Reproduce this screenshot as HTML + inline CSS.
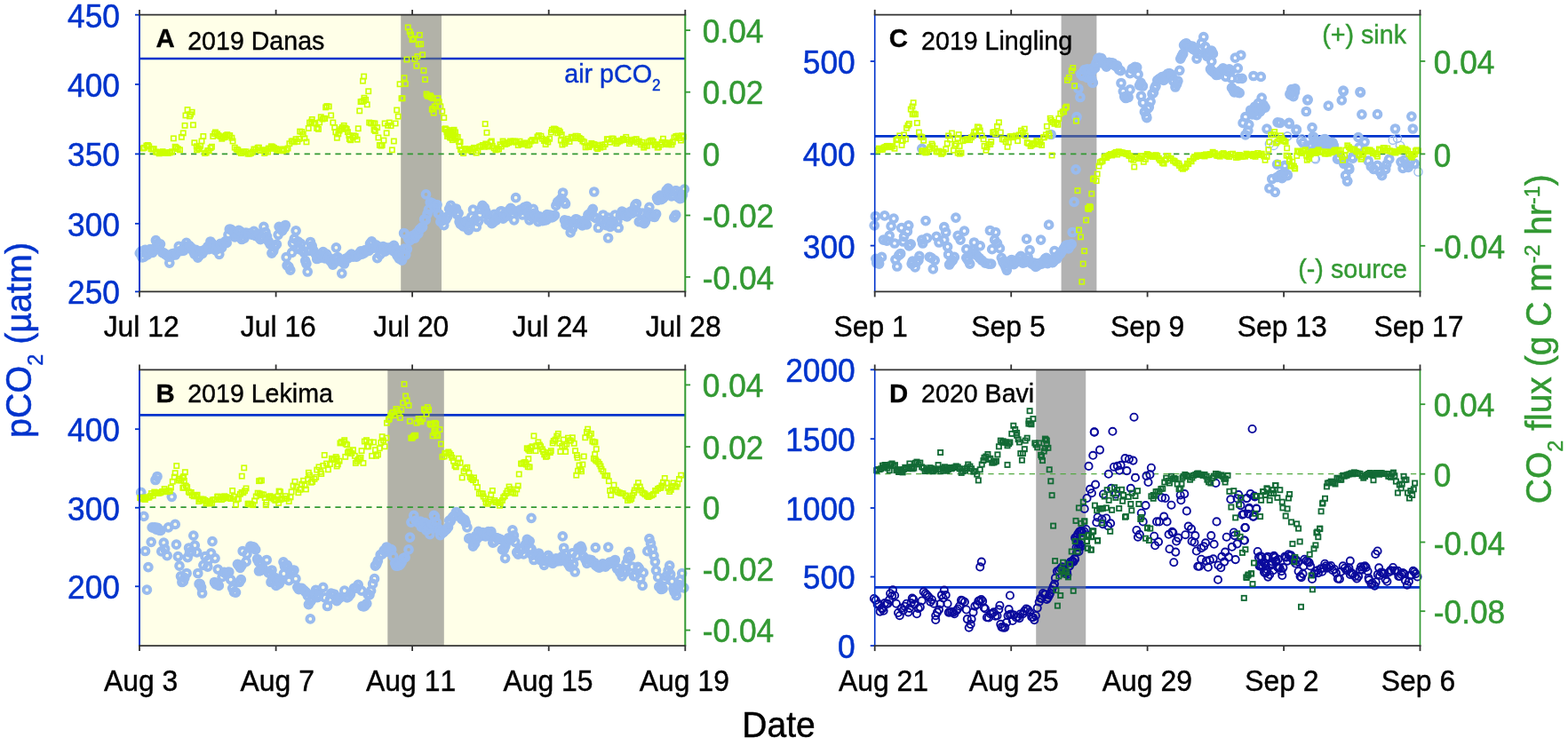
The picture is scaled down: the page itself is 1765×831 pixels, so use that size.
<!DOCTYPE html>
<html lang="en"><head><meta charset="utf-8"><title>pCO2 and CO2 flux during typhoons</title>
<style>html,body{margin:0;padding:0;background:#fff;}body{width:1765px;height:831px;overflow:hidden;}svg{display:block;font-family:"Liberation Sans",Arial,sans-serif;font-kerning:none;}</style>
</head><body>
<svg width="1765" height="831" viewBox="0 0 1765 831">
<rect width="1765" height="831" fill="#fff"/>
<g id="panel-A">
<rect x="157" y="16.7" width="614.3" height="311.8" fill="#ffffe8"/>
<line x1="157" y1="66" x2="771.3" y2="66" stroke="#0033cc" stroke-width="2.6"/>
<rect x="451.2" y="16.7" width="45.8" height="311.8" fill="#777777" fill-opacity="0.57"/>
<line x1="157" y1="173.4" x2="771.3" y2="173.4" stroke="#339933" stroke-width="1.7" stroke-dasharray="6.3 5.3"/>
<g fill="none" stroke="#99bbee" stroke-width="4.0"><circle cx="157.3" cy="285.2" r="3.85"/><circle cx="158.9" cy="283" r="3.85"/><circle cx="159.9" cy="289.8" r="3.85"/><circle cx="161.8" cy="289.4" r="3.85"/><circle cx="163.2" cy="281.3" r="3.85"/><circle cx="164.5" cy="281.6" r="3.85"/><circle cx="166" cy="286.8" r="3.85"/><circle cx="167.4" cy="284" r="3.85"/><circle cx="169" cy="280.6" r="3.85"/><circle cx="170.3" cy="282.3" r="3.85"/><circle cx="171.8" cy="284.3" r="3.85"/><circle cx="173.2" cy="280" r="3.85"/><circle cx="175.4" cy="270.7" r="3.85"/><circle cx="177.4" cy="274.1" r="3.85"/><circle cx="179" cy="277" r="3.85"/><circle cx="180.5" cy="274.8" r="3.85"/><circle cx="182.6" cy="284.3" r="3.85"/><circle cx="184.4" cy="284.9" r="3.85"/><circle cx="185.4" cy="285.9" r="3.85"/><circle cx="187.1" cy="286.9" r="3.85"/><circle cx="189.2" cy="288.9" r="3.85"/><circle cx="190.8" cy="288.8" r="3.85"/><circle cx="192.5" cy="288.4" r="3.85"/><circle cx="193.7" cy="285.9" r="3.85"/><circle cx="195.5" cy="285.4" r="3.85"/><circle cx="197.4" cy="287" r="3.85"/><circle cx="199" cy="284.3" r="3.85"/><circle cx="201.3" cy="277.3" r="3.85"/><circle cx="202.7" cy="282.5" r="3.85"/><circle cx="204.4" cy="282.5" r="3.85"/><circle cx="206.9" cy="282.2" r="3.85"/><circle cx="207.5" cy="277.6" r="3.85"/><circle cx="209.8" cy="273.4" r="3.85"/><circle cx="211.5" cy="278.1" r="3.85"/><circle cx="213.1" cy="276.7" r="3.85"/><circle cx="215.3" cy="278.8" r="3.85"/><circle cx="217" cy="282.2" r="3.85"/><circle cx="218.9" cy="286.1" r="3.85"/><circle cx="220.5" cy="281.4" r="3.85"/><circle cx="222.7" cy="290.2" r="3.85"/><circle cx="224.3" cy="287.9" r="3.85"/><circle cx="226.1" cy="282.8" r="3.85"/><circle cx="228" cy="285.3" r="3.85"/><circle cx="229.8" cy="281.6" r="3.85"/><circle cx="231.5" cy="281.2" r="3.85"/><circle cx="233.8" cy="277.7" r="3.85"/><circle cx="235.2" cy="280.7" r="3.85"/><circle cx="236.9" cy="272" r="3.85"/><circle cx="238.8" cy="274.3" r="3.85"/><circle cx="240.4" cy="275.8" r="3.85"/><circle cx="242.5" cy="281.6" r="3.85"/><circle cx="243.6" cy="279" r="3.85"/><circle cx="245.9" cy="279.9" r="3.85"/><circle cx="246.8" cy="286.3" r="3.85"/><circle cx="248.2" cy="274.4" r="3.85"/><circle cx="249.7" cy="278.8" r="3.85"/><circle cx="251.7" cy="274.3" r="3.85"/><circle cx="253.8" cy="271.6" r="3.85"/><circle cx="255.2" cy="273.4" r="3.85"/><circle cx="257" cy="264.3" r="3.85"/><circle cx="258.3" cy="258.2" r="3.85"/><circle cx="260" cy="258.4" r="3.85"/><circle cx="261.5" cy="259.8" r="3.85"/><circle cx="263" cy="260.8" r="3.85"/><circle cx="264.3" cy="266.8" r="3.85"/><circle cx="266" cy="266.1" r="3.85"/><circle cx="267.8" cy="264.5" r="3.85"/><circle cx="268.8" cy="259.4" r="3.85"/><circle cx="270.6" cy="260.7" r="3.85"/><circle cx="272.2" cy="269.5" r="3.85"/><circle cx="273.5" cy="263.3" r="3.85"/><circle cx="275.1" cy="268" r="3.85"/><circle cx="276.7" cy="262.1" r="3.85"/><circle cx="278.7" cy="262.5" r="3.85"/><circle cx="280.2" cy="262.5" r="3.85"/><circle cx="282.8" cy="263.7" r="3.85"/><circle cx="284.2" cy="264.3" r="3.85"/><circle cx="285.8" cy="260.3" r="3.85"/><circle cx="287.9" cy="265.5" r="3.85"/><circle cx="289.6" cy="266.1" r="3.85"/><circle cx="291" cy="263.3" r="3.85"/><circle cx="293.2" cy="269.7" r="3.85"/><circle cx="295" cy="267.1" r="3.85"/><circle cx="296.9" cy="255.3" r="3.85"/><circle cx="298.9" cy="261.3" r="3.85"/><circle cx="300.5" cy="266.1" r="3.85"/><circle cx="302.2" cy="271.6" r="3.85"/><circle cx="304.1" cy="275.2" r="3.85"/><circle cx="305.9" cy="285.1" r="3.85"/><circle cx="307.7" cy="282.5" r="3.85"/><circle cx="309.2" cy="277.8" r="3.85"/><circle cx="311.4" cy="275.2" r="3.85"/><circle cx="313.2" cy="264.3" r="3.85"/><circle cx="314.1" cy="255.3" r="3.85"/><circle cx="316.3" cy="256.8" r="3.85"/><circle cx="317.7" cy="259.8" r="3.85"/><circle cx="319.9" cy="256.5" r="3.85"/><circle cx="321.3" cy="253.5" r="3.85"/><circle cx="322.2" cy="289.7" r="3.85"/><circle cx="323.1" cy="298.8" r="3.85"/><circle cx="325" cy="300.4" r="3.85"/><circle cx="326.8" cy="304.2" r="3.85"/><circle cx="328.6" cy="284.3" r="3.85"/><circle cx="329.5" cy="273.8" r="3.85"/><circle cx="331.3" cy="268.9" r="3.85"/><circle cx="333.1" cy="259.8" r="3.85"/><circle cx="335.6" cy="272.1" r="3.85"/><circle cx="336.7" cy="280.7" r="3.85"/><circle cx="338.6" cy="274.3" r="3.85"/><circle cx="340.6" cy="282.1" r="3.85"/><circle cx="342.2" cy="284.3" r="3.85"/><circle cx="343.7" cy="293.6" r="3.85"/><circle cx="344.9" cy="297" r="3.85"/><circle cx="346.2" cy="306" r="3.85"/><circle cx="347.6" cy="282.5" r="3.85"/><circle cx="349.4" cy="272.5" r="3.85"/><circle cx="351.2" cy="276.8" r="3.85"/><circle cx="353.1" cy="282.5" r="3.85"/><circle cx="355.2" cy="286" r="3.85"/><circle cx="356.7" cy="291.5" r="3.85"/><circle cx="358.1" cy="289.4" r="3.85"/><circle cx="360.1" cy="290.3" r="3.85"/><circle cx="362.1" cy="287" r="3.85"/><circle cx="363.7" cy="283.6" r="3.85"/><circle cx="365.7" cy="290.9" r="3.85"/><circle cx="367.6" cy="286.1" r="3.85"/><circle cx="369.4" cy="289.6" r="3.85"/><circle cx="371.2" cy="293" r="3.85"/><circle cx="373" cy="295.2" r="3.85"/><circle cx="374.7" cy="298.1" r="3.85"/><circle cx="375.4" cy="296.9" r="3.85"/><circle cx="377.4" cy="291" r="3.85"/><circle cx="379.5" cy="290.3" r="3.85"/><circle cx="380.3" cy="289.7" r="3.85"/><circle cx="382.3" cy="294" r="3.85"/><circle cx="384.8" cy="293.7" r="3.85"/><circle cx="385.4" cy="294.5" r="3.85"/><circle cx="387.5" cy="297" r="3.85"/><circle cx="389.3" cy="291" r="3.85"/><circle cx="391.7" cy="290.8" r="3.85"/><circle cx="392.9" cy="288.8" r="3.85"/><circle cx="394.3" cy="287.8" r="3.85"/><circle cx="395.6" cy="286.2" r="3.85"/><circle cx="397.3" cy="289.2" r="3.85"/><circle cx="398.6" cy="287.8" r="3.85"/><circle cx="400.2" cy="287.9" r="3.85"/><circle cx="401.2" cy="289.1" r="3.85"/><circle cx="402.9" cy="287.8" r="3.85"/><circle cx="404.3" cy="285.3" r="3.85"/><circle cx="406.1" cy="282.9" r="3.85"/><circle cx="407.5" cy="286.1" r="3.85"/><circle cx="410" cy="284.8" r="3.85"/><circle cx="411.1" cy="281.5" r="3.85"/><circle cx="412.9" cy="282.5" r="3.85"/><circle cx="415.2" cy="282.4" r="3.85"/><circle cx="416.5" cy="274.3" r="3.85"/><circle cx="418.4" cy="271.8" r="3.85"/><circle cx="420" cy="279.1" r="3.85"/><circle cx="422" cy="278.8" r="3.85"/><circle cx="423.3" cy="275.8" r="3.85"/><circle cx="424.5" cy="277.3" r="3.85"/><circle cx="426.3" cy="278" r="3.85"/><circle cx="427.8" cy="286.7" r="3.85"/><circle cx="429.2" cy="280.7" r="3.85"/><circle cx="431.2" cy="277.5" r="3.85"/><circle cx="432.2" cy="280.5" r="3.85"/><circle cx="433.5" cy="283.1" r="3.85"/><circle cx="434.9" cy="279" r="3.85"/><circle cx="436.5" cy="279.7" r="3.85"/><circle cx="438.2" cy="279" r="3.85"/><circle cx="440.1" cy="278.8" r="3.85"/><circle cx="442.3" cy="282.3" r="3.85"/><circle cx="443.3" cy="280" r="3.85"/><circle cx="445.5" cy="282.5" r="3.85"/><circle cx="447.1" cy="287.9" r="3.85"/><circle cx="449.2" cy="291.1" r="3.85"/><circle cx="451" cy="291.5" r="3.85"/><circle cx="190.8" cy="296.1" r="3.85"/><circle cx="378.4" cy="278.8" r="3.85"/><circle cx="384.8" cy="307.8" r="3.85"/><circle cx="424.7" cy="290.6" r="3.85"/><circle cx="454.6" cy="262.5" r="3.85"/><circle cx="441.9" cy="280.5" r="3.85"/><circle cx="443.4" cy="276.3" r="3.85"/><circle cx="445" cy="284.1" r="3.85"/><circle cx="446.4" cy="281" r="3.85"/><circle cx="447.7" cy="286.3" r="3.85"/><circle cx="449.3" cy="286.5" r="3.85"/><circle cx="452.5" cy="293.1" r="3.85"/><circle cx="454.1" cy="287.3" r="3.85"/><circle cx="454.9" cy="280.2" r="3.85"/><circle cx="456.7" cy="287" r="3.85"/><circle cx="458.3" cy="280.5" r="3.85"/><circle cx="459.7" cy="269.1" r="3.85"/><circle cx="461.2" cy="270.9" r="3.85"/><circle cx="462.9" cy="269.3" r="3.85"/><circle cx="465" cy="265.1" r="3.85"/><circle cx="467" cy="268.1" r="3.85"/><circle cx="468" cy="264.8" r="3.85"/><circle cx="469.1" cy="262.3" r="3.85"/><circle cx="470.8" cy="263.2" r="3.85"/><circle cx="472.3" cy="258.3" r="3.85"/><circle cx="474.1" cy="256.9" r="3.85"/><circle cx="475.6" cy="255.5" r="3.85"/><circle cx="477.6" cy="246.8" r="3.85"/><circle cx="479.3" cy="247.6" r="3.85"/><circle cx="481" cy="241" r="3.85"/><circle cx="482.4" cy="236.2" r="3.85"/><circle cx="484.2" cy="227.8" r="3.85"/><circle cx="486.2" cy="228.5" r="3.85"/><circle cx="487.6" cy="230.6" r="3.85"/><circle cx="488.8" cy="233.3" r="3.85"/><circle cx="490.5" cy="231.1" r="3.85"/><circle cx="492" cy="230.5" r="3.85"/><circle cx="493" cy="240.1" r="3.85"/><circle cx="494.3" cy="241.1" r="3.85"/><circle cx="495.9" cy="249.7" r="3.85"/><circle cx="498.4" cy="248.2" r="3.85"/><circle cx="499.7" cy="253.6" r="3.85"/><circle cx="501.9" cy="247.1" r="3.85"/><circle cx="503.6" cy="243.9" r="3.85"/><circle cx="505.6" cy="235.3" r="3.85"/><circle cx="507.4" cy="231.4" r="3.85"/><circle cx="509.2" cy="236.6" r="3.85"/><circle cx="511.3" cy="236.2" r="3.85"/><circle cx="513.5" cy="235" r="3.85"/><circle cx="514.5" cy="241.6" r="3.85"/><circle cx="516.1" cy="240.1" r="3.85"/><circle cx="517.1" cy="249.7" r="3.85"/><circle cx="518.3" cy="252.3" r="3.85"/><circle cx="519.7" cy="252.5" r="3.85"/><circle cx="521.5" cy="254.8" r="3.85"/><circle cx="522.8" cy="251.6" r="3.85"/><circle cx="524.4" cy="249" r="3.85"/><circle cx="525.9" cy="250.3" r="3.85"/><circle cx="527.4" cy="259.1" r="3.85"/><circle cx="528.6" cy="255.5" r="3.85"/><circle cx="530.7" cy="244.2" r="3.85"/><circle cx="532.5" cy="236.2" r="3.85"/><circle cx="534.4" cy="247.8" r="3.85"/><circle cx="536.3" cy="255.5" r="3.85"/><circle cx="538.6" cy="249.3" r="3.85"/><circle cx="540.2" cy="242" r="3.85"/><circle cx="541.2" cy="235.7" r="3.85"/><circle cx="543.1" cy="231.4" r="3.85"/><circle cx="545.4" cy="233.9" r="3.85"/><circle cx="546.9" cy="238.2" r="3.85"/><circle cx="548.4" cy="241.9" r="3.85"/><circle cx="549.8" cy="247.8" r="3.85"/><circle cx="551.2" cy="248.2" r="3.85"/><circle cx="553.7" cy="251.6" r="3.85"/><circle cx="555.2" cy="250.3" r="3.85"/><circle cx="556.5" cy="241.4" r="3.85"/><circle cx="558.4" cy="248" r="3.85"/><circle cx="559.4" cy="243.9" r="3.85"/><circle cx="561.7" cy="244.9" r="3.85"/><circle cx="563.3" cy="238.2" r="3.85"/><circle cx="564.6" cy="237.8" r="3.85"/><circle cx="566.3" cy="246.1" r="3.85"/><circle cx="567.1" cy="241.8" r="3.85"/><circle cx="569.1" cy="243.9" r="3.85"/><circle cx="570.3" cy="243.2" r="3.85"/><circle cx="572.4" cy="238.2" r="3.85"/><circle cx="573" cy="236.9" r="3.85"/><circle cx="574.8" cy="234.3" r="3.85"/><circle cx="576.7" cy="236.4" r="3.85"/><circle cx="578.7" cy="247.8" r="3.85"/><circle cx="580.6" cy="222.7" r="3.85"/><circle cx="582.5" cy="238.2" r="3.85"/><circle cx="584.3" cy="237.6" r="3.85"/><circle cx="585.6" cy="236.1" r="3.85"/><circle cx="587.2" cy="236.7" r="3.85"/><circle cx="588.3" cy="242" r="3.85"/><circle cx="590.2" cy="233.4" r="3.85"/><circle cx="592" cy="234.5" r="3.85"/><circle cx="593.1" cy="232.4" r="3.85"/><circle cx="594.1" cy="239.4" r="3.85"/><circle cx="596" cy="247.8" r="3.85"/><circle cx="597.6" cy="242.9" r="3.85"/><circle cx="598.8" cy="244.7" r="3.85"/><circle cx="600.3" cy="235.4" r="3.85"/><circle cx="601.8" cy="240.1" r="3.85"/><circle cx="603.1" cy="242.3" r="3.85"/><circle cx="604.8" cy="245" r="3.85"/><circle cx="605.9" cy="249.6" r="3.85"/><circle cx="607.6" cy="243.9" r="3.85"/><circle cx="609.3" cy="245.8" r="3.85"/><circle cx="610.8" cy="248.7" r="3.85"/><circle cx="612" cy="245" r="3.85"/><circle cx="613.4" cy="247.8" r="3.85"/><circle cx="615.1" cy="247.6" r="3.85"/><circle cx="615.7" cy="241.6" r="3.85"/><circle cx="617.8" cy="243.8" r="3.85"/><circle cx="619.2" cy="242" r="3.85"/><circle cx="621.2" cy="244.9" r="3.85"/><circle cx="623" cy="243.9" r="3.85"/><circle cx="624.5" cy="242.4" r="3.85"/><circle cx="625.9" cy="231.4" r="3.85"/><circle cx="627.6" cy="227.3" r="3.85"/><circle cx="629.7" cy="225.6" r="3.85"/><circle cx="631.8" cy="223.5" r="3.85"/><circle cx="633.6" cy="217" r="3.85"/><circle cx="635.3" cy="227.7" r="3.85"/><circle cx="636.5" cy="229.5" r="3.85"/><circle cx="635.5" cy="247.8" r="3.85"/><circle cx="637" cy="253.2" r="3.85"/><circle cx="638.9" cy="248.5" r="3.85"/><circle cx="640.3" cy="253.6" r="3.85"/><circle cx="642.2" cy="261.8" r="3.85"/><circle cx="644.2" cy="257.4" r="3.85"/><circle cx="646.4" cy="250.7" r="3.85"/><circle cx="648" cy="246.8" r="3.85"/><circle cx="649.3" cy="247" r="3.85"/><circle cx="651.9" cy="251.6" r="3.85"/><circle cx="653.1" cy="251.9" r="3.85"/><circle cx="655.5" cy="253.9" r="3.85"/><circle cx="656.3" cy="248.8" r="3.85"/><circle cx="657.7" cy="251.6" r="3.85"/><circle cx="658.8" cy="248.4" r="3.85"/><circle cx="660.4" cy="252.9" r="3.85"/><circle cx="661.9" cy="241.8" r="3.85"/><circle cx="663.5" cy="241" r="3.85"/><circle cx="665.7" cy="238.4" r="3.85"/><circle cx="667.3" cy="235.3" r="3.85"/><circle cx="668.9" cy="244.4" r="3.85"/><circle cx="671.2" cy="245.9" r="3.85"/><circle cx="673.5" cy="256.5" r="3.85"/><circle cx="675.2" cy="247.7" r="3.85"/><circle cx="677.2" cy="248.3" r="3.85"/><circle cx="678.9" cy="242" r="3.85"/><circle cx="680.8" cy="251.6" r="3.85"/><circle cx="682.2" cy="253.7" r="3.85"/><circle cx="684.1" cy="249" r="3.85"/><circle cx="684.8" cy="245" r="3.85"/><circle cx="686.9" cy="255.3" r="3.85"/><circle cx="688.5" cy="251.6" r="3.85"/><circle cx="690.7" cy="251" r="3.85"/><circle cx="692.4" cy="242" r="3.85"/><circle cx="694.8" cy="249.3" r="3.85"/><circle cx="696.2" cy="256.5" r="3.85"/><circle cx="698.4" cy="242.7" r="3.85"/><circle cx="700.1" cy="238.2" r="3.85"/><circle cx="701.7" cy="240.8" r="3.85"/><circle cx="702.9" cy="239.7" r="3.85"/><circle cx="704.1" cy="242.9" r="3.85"/><circle cx="705.8" cy="243.9" r="3.85"/><circle cx="707.7" cy="241.9" r="3.85"/><circle cx="708.9" cy="240" r="3.85"/><circle cx="710.2" cy="238" r="3.85"/><circle cx="711.6" cy="240.1" r="3.85"/><circle cx="713.3" cy="235.9" r="3.85"/><circle cx="714.9" cy="231.2" r="3.85"/><circle cx="716.4" cy="229.5" r="3.85"/><circle cx="717.5" cy="238.6" r="3.85"/><circle cx="719.3" cy="249.7" r="3.85"/><circle cx="721.6" cy="249.6" r="3.85"/><circle cx="723.2" cy="240.1" r="3.85"/><circle cx="725.1" cy="251.6" r="3.85"/><circle cx="726.4" cy="249.5" r="3.85"/><circle cx="728.2" cy="243.7" r="3.85"/><circle cx="729" cy="238.9" r="3.85"/><circle cx="730.9" cy="233.3" r="3.85"/><circle cx="732.5" cy="242.2" r="3.85"/><circle cx="734.7" cy="243.9" r="3.85"/><circle cx="736.9" cy="244.3" r="3.85"/><circle cx="738.6" cy="241" r="3.85"/><circle cx="739.5" cy="222.7" r="3.85"/><circle cx="740.4" cy="225.3" r="3.85"/><circle cx="743" cy="220.2" r="3.85"/><circle cx="744.4" cy="224.7" r="3.85"/><circle cx="746.6" cy="223" r="3.85"/><circle cx="748.2" cy="220.8" r="3.85"/><circle cx="750.1" cy="214.3" r="3.85"/><circle cx="752.1" cy="212.2" r="3.85"/><circle cx="753.7" cy="215.2" r="3.85"/><circle cx="755.9" cy="220.8" r="3.85"/><circle cx="758.3" cy="220" r="3.85"/><circle cx="758.9" cy="216" r="3.85"/><circle cx="760.1" cy="214.8" r="3.85"/><circle cx="761.7" cy="215" r="3.85"/><circle cx="763.4" cy="222" r="3.85"/><circle cx="765.6" cy="223.7" r="3.85"/><circle cx="767.1" cy="222.8" r="3.85"/><circle cx="768.4" cy="219.4" r="3.85"/><circle cx="770.4" cy="213.1" r="3.85"/><circle cx="455.4" cy="263.2" r="3.85"/><circle cx="479.5" cy="218.9" r="3.85"/><circle cx="668.8" cy="216" r="3.85"/><circle cx="684.6" cy="268" r="3.85"/><circle cx="758.8" cy="244.9" r="3.85"/><circle cx="760.7" cy="242" r="3.85"/></g>
<g fill="none" stroke="#ccff00" stroke-width="1.6"><rect x="158.2" y="164.4" width="5.3" height="5.3"/><rect x="159.7" y="163.7" width="5.3" height="5.3"/><rect x="162.2" y="161.4" width="5.3" height="5.3"/><rect x="163.7" y="160.8" width="5.3" height="5.3"/><rect x="165.1" y="162.2" width="5.3" height="5.3"/><rect x="167.4" y="165.1" width="5.3" height="5.3"/><rect x="169.1" y="165.3" width="5.3" height="5.3"/><rect x="170.6" y="165" width="5.3" height="5.3"/><rect x="172.9" y="168.3" width="5.3" height="5.3"/><rect x="174.5" y="169" width="5.3" height="5.3"/><rect x="176.5" y="170.2" width="5.3" height="5.3"/><rect x="177.5" y="168.8" width="5.3" height="5.3"/><rect x="179.8" y="168.9" width="5.3" height="5.3"/><rect x="180.4" y="168" width="5.3" height="5.3"/><rect x="182.1" y="169.6" width="5.3" height="5.3"/><rect x="183.6" y="169.5" width="5.3" height="5.3"/><rect x="185" y="169.1" width="5.3" height="5.3"/><rect x="186.6" y="169.8" width="5.3" height="5.3"/><rect x="188.3" y="168.9" width="5.3" height="5.3"/><rect x="188.9" y="169.2" width="5.3" height="5.3"/><rect x="190.9" y="168.1" width="5.3" height="5.3"/><rect x="192.7" y="153.2" width="5.3" height="5.3"/><rect x="194.5" y="162.6" width="5.3" height="5.3"/><rect x="195.9" y="163.6" width="5.3" height="5.3"/><rect x="197.7" y="165" width="5.3" height="5.3"/><rect x="199.9" y="166.2" width="5.3" height="5.3"/><rect x="201.7" y="151.7" width="5.3" height="5.3"/><rect x="203.6" y="147.2" width="5.3" height="5.3"/><rect x="205.4" y="138.7" width="5.3" height="5.3"/><rect x="206.3" y="127.3" width="5.3" height="5.3"/><rect x="208.4" y="120.9" width="5.3" height="5.3"/><rect x="210.8" y="128.2" width="5.3" height="5.3"/><rect x="211.9" y="126.2" width="5.3" height="5.3"/><rect x="213.5" y="123.6" width="5.3" height="5.3"/><rect x="214.8" y="138.1" width="5.3" height="5.3"/><rect x="216.2" y="158.1" width="5.3" height="5.3"/><rect x="218.6" y="162.1" width="5.3" height="5.3"/><rect x="219" y="166.2" width="5.3" height="5.3"/><rect x="220.6" y="164.2" width="5.3" height="5.3"/><rect x="221.7" y="165.3" width="5.3" height="5.3"/><rect x="223" y="161.6" width="5.3" height="5.3"/><rect x="224.4" y="156.3" width="5.3" height="5.3"/><rect x="226.2" y="150.8" width="5.3" height="5.3"/><rect x="228" y="169.9" width="5.3" height="5.3"/><rect x="229.5" y="169.4" width="5.3" height="5.3"/><rect x="231.1" y="166.9" width="5.3" height="5.3"/><rect x="232.6" y="167.2" width="5.3" height="5.3"/><rect x="234.4" y="163.9" width="5.3" height="5.3"/><rect x="235.8" y="162.6" width="5.3" height="5.3"/><rect x="237.1" y="150.8" width="5.3" height="5.3"/><rect x="239" y="148" width="5.3" height="5.3"/><rect x="239.8" y="146.3" width="5.3" height="5.3"/><rect x="241.8" y="148.1" width="5.3" height="5.3"/><rect x="243.4" y="149.9" width="5.3" height="5.3"/><rect x="245.5" y="151" width="5.3" height="5.3"/><rect x="247.1" y="153.6" width="5.3" height="5.3"/><rect x="248.9" y="152.2" width="5.3" height="5.3"/><rect x="250.5" y="151.9" width="5.3" height="5.3"/><rect x="251.6" y="149.9" width="5.3" height="5.3"/><rect x="253.2" y="149" width="5.3" height="5.3"/><rect x="254.9" y="150.5" width="5.3" height="5.3"/><rect x="256.1" y="149.9" width="5.3" height="5.3"/><rect x="258.3" y="152.6" width="5.3" height="5.3"/><rect x="259.4" y="156.3" width="5.3" height="5.3"/><rect x="261.6" y="163.5" width="5.3" height="5.3"/><rect x="263.6" y="165.5" width="5.3" height="5.3"/><rect x="265.2" y="166.2" width="5.3" height="5.3"/><rect x="267.1" y="168.3" width="5.3" height="5.3"/><rect x="268.8" y="169.9" width="5.3" height="5.3"/><rect x="270.7" y="168.5" width="5.3" height="5.3"/><rect x="272.1" y="168.2" width="5.3" height="5.3"/><rect x="274.3" y="168.1" width="5.3" height="5.3"/><rect x="276.3" y="170.5" width="5.3" height="5.3"/><rect x="278.2" y="170.5" width="5.3" height="5.3"/><rect x="279.7" y="169.9" width="5.3" height="5.3"/><rect x="281.7" y="168.4" width="5.3" height="5.3"/><rect x="283.3" y="165.3" width="5.3" height="5.3"/><rect x="285.2" y="165.7" width="5.3" height="5.3"/><rect x="287.5" y="163.7" width="5.3" height="5.3"/><rect x="288.8" y="163.5" width="5.3" height="5.3"/><rect x="290.4" y="166.8" width="5.3" height="5.3"/><rect x="292.5" y="166.5" width="5.3" height="5.3"/><rect x="294.2" y="166.2" width="5.3" height="5.3"/><rect x="295.1" y="169.9" width="5.3" height="5.3"/><rect x="296.9" y="166.7" width="5.3" height="5.3"/><rect x="298.9" y="168.4" width="5.3" height="5.3"/><rect x="299.6" y="164.4" width="5.3" height="5.3"/><rect x="301.2" y="164.7" width="5.3" height="5.3"/><rect x="302.7" y="162.2" width="5.3" height="5.3"/><rect x="304.2" y="162.6" width="5.3" height="5.3"/><rect x="305.7" y="163.7" width="5.3" height="5.3"/><rect x="307.7" y="164.8" width="5.3" height="5.3"/><rect x="309" y="166.3" width="5.3" height="5.3"/><rect x="310.5" y="165.3" width="5.3" height="5.3"/><rect x="312.1" y="166.9" width="5.3" height="5.3"/><rect x="314.5" y="166.2" width="5.3" height="5.3"/><rect x="316" y="167.2" width="5.3" height="5.3"/><rect x="317.2" y="165.2" width="5.3" height="5.3"/><rect x="319.7" y="166" width="5.3" height="5.3"/><rect x="321.4" y="164.4" width="5.3" height="5.3"/><rect x="323.2" y="159" width="5.3" height="5.3"/><rect x="325.5" y="156.4" width="5.3" height="5.3"/><rect x="326.8" y="156.3" width="5.3" height="5.3"/><rect x="328.7" y="157.2" width="5.3" height="5.3"/><rect x="330.4" y="154" width="5.3" height="5.3"/><rect x="332.3" y="156.8" width="5.3" height="5.3"/><rect x="333.9" y="153.7" width="5.3" height="5.3"/><rect x="335" y="145.4" width="5.3" height="5.3"/><rect x="337.1" y="145.8" width="5.3" height="5.3"/><rect x="338.6" y="148.5" width="5.3" height="5.3"/><rect x="340.3" y="153.1" width="5.3" height="5.3"/><rect x="342.3" y="157.2" width="5.3" height="5.3"/><rect x="344.6" y="141.8" width="5.3" height="5.3"/><rect x="345.9" y="135.4" width="5.3" height="5.3"/><rect x="348" y="134.4" width="5.3" height="5.3"/><rect x="348.6" y="131.8" width="5.3" height="5.3"/><rect x="350.4" y="135.9" width="5.3" height="5.3"/><rect x="352.2" y="136.3" width="5.3" height="5.3"/><rect x="354" y="141.7" width="5.3" height="5.3"/><rect x="355.8" y="142.7" width="5.3" height="5.3"/><rect x="357" y="135.3" width="5.3" height="5.3"/><rect x="358.6" y="129.1" width="5.3" height="5.3"/><rect x="360.3" y="131.4" width="5.3" height="5.3"/><rect x="361.8" y="130.6" width="5.3" height="5.3"/><rect x="363.1" y="130.9" width="5.3" height="5.3"/><rect x="364" y="118.2" width="5.3" height="5.3"/><rect x="365.3" y="116.9" width="5.3" height="5.3"/><rect x="367.6" y="117.3" width="5.3" height="5.3"/><rect x="370" y="127.3" width="5.3" height="5.3"/><rect x="372.2" y="135.4" width="5.3" height="5.3"/><rect x="374" y="140.9" width="5.3" height="5.3"/><rect x="375.2" y="146.1" width="5.3" height="5.3"/><rect x="376.7" y="152.6" width="5.3" height="5.3"/><rect x="378.2" y="148.2" width="5.3" height="5.3"/><rect x="379.4" y="144.5" width="5.3" height="5.3"/><rect x="381.3" y="142.7" width="5.3" height="5.3"/><rect x="382.7" y="140.8" width="5.3" height="5.3"/><rect x="384.5" y="138.7" width="5.3" height="5.3"/><rect x="386.2" y="141.7" width="5.3" height="5.3"/><rect x="387.6" y="142.7" width="5.3" height="5.3"/><rect x="388.8" y="146" width="5.3" height="5.3"/><rect x="390.3" y="149.9" width="5.3" height="5.3"/><rect x="390.7" y="153.9" width="5.3" height="5.3"/><rect x="392" y="155.1" width="5.3" height="5.3"/><rect x="394.5" y="152.2" width="5.3" height="5.3"/><rect x="395.7" y="150.1" width="5.3" height="5.3"/><rect x="397.5" y="150.8" width="5.3" height="5.3"/><rect x="399.4" y="154.5" width="5.3" height="5.3"/><rect x="400.6" y="142.1" width="5.3" height="5.3"/><rect x="402.1" y="122.2" width="5.3" height="5.3"/><rect x="403.4" y="111.9" width="5.3" height="5.3"/><rect x="404.8" y="111.6" width="5.3" height="5.3"/><rect x="406.8" y="111.1" width="5.3" height="5.3"/><rect x="407.3" y="107.6" width="5.3" height="5.3"/><rect x="409" y="109.7" width="5.3" height="5.3"/><rect x="410.6" y="115.1" width="5.3" height="5.3"/><rect x="412.1" y="100.1" width="5.3" height="5.3"/><rect x="413" y="135.4" width="5.3" height="5.3"/><rect x="414.9" y="136" width="5.3" height="5.3"/><rect x="415.5" y="136.2" width="5.3" height="5.3"/><rect x="417.5" y="136.3" width="5.3" height="5.3"/><rect x="419.3" y="136.3" width="5.3" height="5.3"/><rect x="418.4" y="143.6" width="5.3" height="5.3"/><rect x="419.7" y="144.9" width="5.3" height="5.3"/><rect x="422" y="140.9" width="5.3" height="5.3"/><rect x="423.3" y="152.3" width="5.3" height="5.3"/><rect x="424.7" y="160.8" width="5.3" height="5.3"/><rect x="426.4" y="161.5" width="5.3" height="5.3"/><rect x="427.5" y="160.8" width="5.3" height="5.3"/><rect x="429.3" y="155.4" width="5.3" height="5.3"/><rect x="430.5" y="136.3" width="5.3" height="5.3"/><rect x="432.5" y="147.2" width="5.3" height="5.3"/><rect x="434" y="138.7" width="5.3" height="5.3"/><rect x="435.6" y="135.4" width="5.3" height="5.3"/><rect x="437.4" y="139" width="5.3" height="5.3"/><rect x="438.7" y="166.2" width="5.3" height="5.3"/><rect x="440.7" y="156.3" width="5.3" height="5.3"/><rect x="442.5" y="136.3" width="5.3" height="5.3"/><rect x="444" y="121.3" width="5.3" height="5.3"/><rect x="445.6" y="128.5" width="5.3" height="5.3"/><rect x="447.4" y="92.1" width="5.3" height="5.3"/><rect x="449.3" y="108.1" width="5.3" height="5.3"/><rect x="450.4" y="108.1" width="5.3" height="5.3"/><rect x="452.4" y="85" width="5.3" height="5.3"/><rect x="453.7" y="91.7" width="5.3" height="5.3"/><rect x="455.3" y="64.4" width="5.3" height="5.3"/><rect x="456.6" y="28.2" width="5.3" height="5.3"/><rect x="458.5" y="33" width="5.3" height="5.3"/><rect x="459.9" y="36.3" width="5.3" height="5.3"/><rect x="461.4" y="42" width="5.3" height="5.3"/><rect x="463" y="40.7" width="5.3" height="5.3"/><rect x="464.3" y="63.8" width="5.3" height="5.3"/><rect x="466.2" y="71.5" width="5.3" height="5.3"/><rect x="467.2" y="60.9" width="5.3" height="5.3"/><rect x="468.6" y="47.2" width="5.3" height="5.3"/><rect x="469.7" y="36.8" width="5.3" height="5.3"/><rect x="471.1" y="47" width="5.3" height="5.3"/><rect x="473" y="59" width="5.3" height="5.3"/><rect x="474.3" y="76.7" width="5.3" height="5.3"/><rect x="475.9" y="86.9" width="5.3" height="5.3"/><rect x="477.4" y="103.3" width="5.3" height="5.3"/><rect x="478.5" y="105.4" width="5.3" height="5.3"/><rect x="480.1" y="105.6" width="5.3" height="5.3"/><rect x="481.9" y="105.2" width="5.3" height="5.3"/><rect x="482.6" y="106.8" width="5.3" height="5.3"/><rect x="484.5" y="108.1" width="5.3" height="5.3"/><rect x="486.5" y="117.2" width="5.3" height="5.3"/><rect x="484.6" y="119.6" width="5.3" height="5.3"/><rect x="483.6" y="120.6" width="5.3" height="5.3"/><rect x="485.5" y="124.5" width="5.3" height="5.3"/><rect x="487.8" y="117.2" width="5.3" height="5.3"/><rect x="489.3" y="111.9" width="5.3" height="5.3"/><rect x="490.3" y="108.1" width="5.3" height="5.3"/><rect x="491.6" y="112.1" width="5.3" height="5.3"/><rect x="493.2" y="117.2" width="5.3" height="5.3"/><rect x="495.1" y="122.6" width="5.3" height="5.3"/><rect x="497.1" y="129.9" width="5.3" height="5.3"/><rect x="498.6" y="142.2" width="5.3" height="5.3"/><rect x="499.9" y="143.4" width="5.3" height="5.3"/><rect x="501.9" y="145.7" width="5.3" height="5.3"/><rect x="498.1" y="142.7" width="5.3" height="5.3"/><rect x="500.3" y="146.2" width="5.3" height="5.3"/><rect x="501.8" y="147.2" width="5.3" height="5.3"/><rect x="504.2" y="146.1" width="5.3" height="5.3"/><rect x="505.4" y="145.4" width="5.3" height="5.3"/><rect x="506.9" y="143.9" width="5.3" height="5.3"/><rect x="508.4" y="143.6" width="5.3" height="5.3"/><rect x="509.9" y="146.3" width="5.3" height="5.3"/><rect x="507.9" y="148.3" width="5.3" height="5.3"/><rect x="507.3" y="149.3" width="5.3" height="5.3"/><rect x="505.8" y="149" width="5.3" height="5.3"/><rect x="503.7" y="149.5" width="5.3" height="5.3"/><rect x="502.3" y="148.1" width="5.3" height="5.3"/><rect x="500.9" y="150.8" width="5.3" height="5.3"/><rect x="501.9" y="148.8" width="5.3" height="5.3"/><rect x="503.9" y="152.3" width="5.3" height="5.3"/><rect x="505.4" y="152.6" width="5.3" height="5.3"/><rect x="506.7" y="155" width="5.3" height="5.3"/><rect x="508.3" y="153.3" width="5.3" height="5.3"/><rect x="510.1" y="150.6" width="5.3" height="5.3"/><rect x="510.6" y="153.3" width="5.3" height="5.3"/><rect x="512.6" y="151.7" width="5.3" height="5.3"/><rect x="513.8" y="156.8" width="5.3" height="5.3"/><rect x="515.4" y="157.2" width="5.3" height="5.3"/><rect x="514.5" y="161.7" width="5.3" height="5.3"/><rect x="515.9" y="165.8" width="5.3" height="5.3"/><rect x="517.2" y="166.2" width="5.3" height="5.3"/><rect x="519" y="169.9" width="5.3" height="5.3"/><rect x="521" y="164.9" width="5.3" height="5.3"/><rect x="522.8" y="166.2" width="5.3" height="5.3"/><rect x="524.4" y="166.2" width="5.3" height="5.3"/><rect x="525.7" y="165.2" width="5.3" height="5.3"/><rect x="527.7" y="167.2" width="5.3" height="5.3"/><rect x="529" y="165.3" width="5.3" height="5.3"/><rect x="530.8" y="163.7" width="5.3" height="5.3"/><rect x="531.8" y="164.2" width="5.3" height="5.3"/><rect x="533.5" y="169.5" width="5.3" height="5.3"/><rect x="535.3" y="167.1" width="5.3" height="5.3"/><rect x="537.1" y="162.6" width="5.3" height="5.3"/><rect x="538.7" y="162.2" width="5.3" height="5.3"/><rect x="540.7" y="160.8" width="5.3" height="5.3"/><rect x="542.6" y="162.6" width="5.3" height="5.3"/><rect x="544.1" y="159.3" width="5.3" height="5.3"/><rect x="546.2" y="160.8" width="5.3" height="5.3"/><rect x="547.5" y="162.4" width="5.3" height="5.3"/><rect x="549.5" y="157.6" width="5.3" height="5.3"/><rect x="550.7" y="156.3" width="5.3" height="5.3"/><rect x="551.6" y="161.7" width="5.3" height="5.3"/><rect x="553.5" y="164.2" width="5.3" height="5.3"/><rect x="555.3" y="166.2" width="5.3" height="5.3"/><rect x="557.1" y="165.4" width="5.3" height="5.3"/><rect x="558.9" y="165.3" width="5.3" height="5.3"/><rect x="560.3" y="160.1" width="5.3" height="5.3"/><rect x="561.7" y="162.3" width="5.3" height="5.3"/><rect x="563.4" y="156.3" width="5.3" height="5.3"/><rect x="564.9" y="158.2" width="5.3" height="5.3"/><rect x="566.1" y="159.9" width="5.3" height="5.3"/><rect x="567.9" y="159.1" width="5.3" height="5.3"/><rect x="569.8" y="158.1" width="5.3" height="5.3"/><rect x="571.7" y="156.3" width="5.3" height="5.3"/><rect x="573.4" y="157.3" width="5.3" height="5.3"/><rect x="575.2" y="156.3" width="5.3" height="5.3"/><rect x="576.8" y="156.4" width="5.3" height="5.3"/><rect x="578.5" y="157.4" width="5.3" height="5.3"/><rect x="580.6" y="160.8" width="5.3" height="5.3"/><rect x="582.4" y="156.5" width="5.3" height="5.3"/><rect x="583.5" y="159" width="5.3" height="5.3"/><rect x="584.8" y="159.9" width="5.3" height="5.3"/><rect x="586.8" y="159.5" width="5.3" height="5.3"/><rect x="587.9" y="159" width="5.3" height="5.3"/><rect x="589.7" y="158.2" width="5.3" height="5.3"/><rect x="591.5" y="161.2" width="5.3" height="5.3"/><rect x="593.3" y="159.9" width="5.3" height="5.3"/><rect x="595" y="156.3" width="5.3" height="5.3"/><rect x="596.6" y="154.9" width="5.3" height="5.3"/><rect x="598.8" y="155.4" width="5.3" height="5.3"/><rect x="600" y="155.5" width="5.3" height="5.3"/><rect x="602.3" y="151.3" width="5.3" height="5.3"/><rect x="603.8" y="149.9" width="5.3" height="5.3"/><rect x="606.3" y="150.6" width="5.3" height="5.3"/><rect x="607.8" y="153.6" width="5.3" height="5.3"/><rect x="609.9" y="155.9" width="5.3" height="5.3"/><rect x="611.5" y="155.4" width="5.3" height="5.3"/><rect x="611.5" y="159.9" width="5.3" height="5.3"/><rect x="612.5" y="155" width="5.3" height="5.3"/><rect x="614.2" y="157.3" width="5.3" height="5.3"/><rect x="616" y="153.6" width="5.3" height="5.3"/><rect x="617.7" y="146.4" width="5.3" height="5.3"/><rect x="618.7" y="143.6" width="5.3" height="5.3"/><rect x="620.8" y="142.4" width="5.3" height="5.3"/><rect x="622.3" y="142.7" width="5.3" height="5.3"/><rect x="623.6" y="144" width="5.3" height="5.3"/><rect x="625.1" y="147.2" width="5.3" height="5.3"/><rect x="626.5" y="144.5" width="5.3" height="5.3"/><rect x="627.8" y="146.2" width="5.3" height="5.3"/><rect x="629.6" y="149" width="5.3" height="5.3"/><rect x="628.7" y="155.4" width="5.3" height="5.3"/><rect x="630.3" y="160.3" width="5.3" height="5.3"/><rect x="632.5" y="157.2" width="5.3" height="5.3"/><rect x="633.2" y="159" width="5.3" height="5.3"/><rect x="634.5" y="155.5" width="5.3" height="5.3"/><rect x="636.8" y="153.6" width="5.3" height="5.3"/><rect x="638.4" y="156.8" width="5.3" height="5.3"/><rect x="640.6" y="151.6" width="5.3" height="5.3"/><rect x="642.3" y="152.6" width="5.3" height="5.3"/><rect x="644.4" y="153" width="5.3" height="5.3"/><rect x="645.4" y="150.5" width="5.3" height="5.3"/><rect x="647.7" y="150.8" width="5.3" height="5.3"/><rect x="649.5" y="152.7" width="5.3" height="5.3"/><rect x="651.4" y="153.9" width="5.3" height="5.3"/><rect x="653.2" y="156.3" width="5.3" height="5.3"/><rect x="655" y="157.3" width="5.3" height="5.3"/><rect x="656.5" y="163.2" width="5.3" height="5.3"/><rect x="658.6" y="162.6" width="5.3" height="5.3"/><rect x="660.2" y="162.9" width="5.3" height="5.3"/><rect x="661" y="161.2" width="5.3" height="5.3"/><rect x="663.2" y="158.7" width="5.3" height="5.3"/><rect x="664.7" y="159.7" width="5.3" height="5.3"/><rect x="665.8" y="159.9" width="5.3" height="5.3"/><rect x="667.4" y="160.4" width="5.3" height="5.3"/><rect x="668.8" y="163.5" width="5.3" height="5.3"/><rect x="670.1" y="164.9" width="5.3" height="5.3"/><rect x="671.4" y="161.1" width="5.3" height="5.3"/><rect x="673.1" y="163.5" width="5.3" height="5.3"/><rect x="675.1" y="160.4" width="5.3" height="5.3"/><rect x="676.6" y="162.7" width="5.3" height="5.3"/><rect x="678.5" y="159.9" width="5.3" height="5.3"/><rect x="680.7" y="154" width="5.3" height="5.3"/><rect x="682.2" y="154.5" width="5.3" height="5.3"/><rect x="684.1" y="157.5" width="5.3" height="5.3"/><rect x="686.2" y="153.4" width="5.3" height="5.3"/><rect x="687.6" y="153.6" width="5.3" height="5.3"/><rect x="689.2" y="155.7" width="5.3" height="5.3"/><rect x="691.2" y="159" width="5.3" height="5.3"/><rect x="692.7" y="157.3" width="5.3" height="5.3"/><rect x="694.8" y="156.3" width="5.3" height="5.3"/><rect x="696.7" y="155.4" width="5.3" height="5.3"/><rect x="698.8" y="153.7" width="5.3" height="5.3"/><rect x="699.9" y="154.8" width="5.3" height="5.3"/><rect x="702.1" y="151.7" width="5.3" height="5.3"/><rect x="703.6" y="154.6" width="5.3" height="5.3"/><rect x="705.7" y="159" width="5.3" height="5.3"/><rect x="707.5" y="156.9" width="5.3" height="5.3"/><rect x="709.1" y="155.5" width="5.3" height="5.3"/><rect x="711.2" y="154.5" width="5.3" height="5.3"/><rect x="713.6" y="154" width="5.3" height="5.3"/><rect x="714.8" y="157.7" width="5.3" height="5.3"/><rect x="716.6" y="156.3" width="5.3" height="5.3"/><rect x="718.6" y="160.1" width="5.3" height="5.3"/><rect x="720.5" y="157.6" width="5.3" height="5.3"/><rect x="722.1" y="163.5" width="5.3" height="5.3"/><rect x="723.6" y="161.6" width="5.3" height="5.3"/><rect x="725.8" y="161.6" width="5.3" height="5.3"/><rect x="727.5" y="157.2" width="5.3" height="5.3"/><rect x="729.4" y="155.8" width="5.3" height="5.3"/><rect x="731.1" y="155.4" width="5.3" height="5.3"/><rect x="732.7" y="157" width="5.3" height="5.3"/><rect x="734.4" y="160.7" width="5.3" height="5.3"/><rect x="735.8" y="160" width="5.3" height="5.3"/><rect x="737.5" y="163.5" width="5.3" height="5.3"/><rect x="738.8" y="163" width="5.3" height="5.3"/><rect x="741" y="160.3" width="5.3" height="5.3"/><rect x="742.5" y="157.5" width="5.3" height="5.3"/><rect x="743.8" y="153.6" width="5.3" height="5.3"/><rect x="745.6" y="157.9" width="5.3" height="5.3"/><rect x="747.4" y="159.9" width="5.3" height="5.3"/><rect x="748.6" y="159" width="5.3" height="5.3"/><rect x="750.1" y="160.1" width="5.3" height="5.3"/><rect x="751.6" y="158.1" width="5.3" height="5.3"/><rect x="753.4" y="160.2" width="5.3" height="5.3"/><rect x="754.7" y="157.2" width="5.3" height="5.3"/><rect x="756.3" y="152.3" width="5.3" height="5.3"/><rect x="758.3" y="150.8" width="5.3" height="5.3"/><rect x="760.4" y="150.4" width="5.3" height="5.3"/><rect x="762.1" y="152.8" width="5.3" height="5.3"/><rect x="763.8" y="155.4" width="5.3" height="5.3"/><rect x="765.1" y="150.1" width="5.3" height="5.3"/><rect x="766.5" y="151.4" width="5.3" height="5.3"/><rect x="543.5" y="136.9" width="5.3" height="5.3"/><rect x="545.3" y="146.7" width="5.3" height="5.3"/><rect x="407" y="83.4" width="5.3" height="5.3"/><rect x="405.8" y="88.5" width="5.3" height="5.3"/></g>
<g stroke="#0033cc" stroke-width="1.9" fill="none">
<line x1="157" y1="16.7" x2="157" y2="328.4"/>
</g>
<g stroke="#0033cc" stroke-width="1.8" fill="none">
<line x1="157" y1="16.7" x2="152" y2="16.7"/>
<line x1="157" y1="95" x2="152" y2="95"/>
<line x1="157" y1="173.4" x2="152" y2="173.4"/>
<line x1="157" y1="251.8" x2="152" y2="251.8"/>
<line x1="157" y1="328.4" x2="152" y2="328.4"/>
</g>
<g stroke="#339933" stroke-width="2.0" fill="none">
<line x1="771.3" y1="16.7" x2="771.3" y2="328.4"/>
</g>
<g stroke="#339933" stroke-width="1.8" fill="none">
<line x1="771.3" y1="34.1" x2="777.1" y2="34.1"/>
<line x1="771.3" y1="103.7" x2="777.1" y2="103.7"/>
<line x1="771.3" y1="173.3" x2="777.1" y2="173.3"/>
<line x1="771.3" y1="242.5" x2="777.1" y2="242.5"/>
<line x1="771.3" y1="311.9" x2="777.1" y2="311.9"/>
</g>
<g stroke="#333333" stroke-width="1.8" fill="none">
<line x1="156.1" y1="16.7" x2="772.2" y2="16.7"/>
<line x1="156.1" y1="328.4" x2="772.2" y2="328.4"/>
<line x1="157" y1="16.7" x2="157" y2="10.9"/>
<line x1="157" y1="328.4" x2="157" y2="334.4"/>
<line x1="310.6" y1="16.7" x2="310.6" y2="10.9"/>
<line x1="310.6" y1="328.4" x2="310.6" y2="334.4"/>
<line x1="464.1" y1="16.7" x2="464.1" y2="10.9"/>
<line x1="464.1" y1="328.4" x2="464.1" y2="334.4"/>
<line x1="617.7" y1="16.7" x2="617.7" y2="10.9"/>
<line x1="617.7" y1="328.4" x2="617.7" y2="334.4"/>
<line x1="771.3" y1="16.7" x2="771.3" y2="10.9"/>
<line x1="771.3" y1="328.4" x2="771.3" y2="334.4"/>
</g>
<text transform="translate(135,30.6) scale(1,1.025)" font-size="35.3" fill="#0033cc" stroke="#0033cc" stroke-width="0.5" text-anchor="end">450</text>
<text transform="translate(135,108.9) scale(1,1.025)" font-size="35.3" fill="#0033cc" stroke="#0033cc" stroke-width="0.5" text-anchor="end">400</text>
<text transform="translate(135,187.3) scale(1,1.025)" font-size="35.3" fill="#0033cc" stroke="#0033cc" stroke-width="0.5" text-anchor="end">350</text>
<text transform="translate(135,265.7) scale(1,1.025)" font-size="35.3" fill="#0033cc" stroke="#0033cc" stroke-width="0.5" text-anchor="end">300</text>
<text transform="translate(135,342.3) scale(1,1.025)" font-size="35.3" fill="#0033cc" stroke="#0033cc" stroke-width="0.5" text-anchor="end">250</text>
<text transform="translate(790.8,47.7) scale(1,1.025)" font-size="35.3" fill="#339933" stroke="#339933" stroke-width="0.5">0.04</text>
<text transform="translate(790.8,117.3) scale(1,1.025)" font-size="35.3" fill="#339933" stroke="#339933" stroke-width="0.5">0.02</text>
<text transform="translate(790.8,186.9) scale(1,1.025)" font-size="35.3" fill="#339933" stroke="#339933" stroke-width="0.5">0</text>
<text transform="translate(790.8,256.1) scale(1,1.025)" font-size="35.3" fill="#339933" stroke="#339933" stroke-width="0.5">-0.02</text>
<text transform="translate(790.8,325.5) scale(1,1.025)" font-size="35.3" fill="#339933" stroke="#339933" stroke-width="0.5">-0.04</text>
<text transform="translate(159.2,378.8) scale(1,1.025)" font-size="31.9" fill="#000" stroke="#000" stroke-width="0.4" text-anchor="middle">Jul 12</text>
<text transform="translate(313.3,378.8) scale(1,1.025)" font-size="31.9" fill="#000" stroke="#000" stroke-width="0.4" text-anchor="middle">Jul 16</text>
<text transform="translate(462.8,378.8) scale(1,1.025)" font-size="31.9" fill="#000" stroke="#000" stroke-width="0.4" text-anchor="middle">Jul 20</text>
<text transform="translate(619.3,378.8) scale(1,1.025)" font-size="31.9" fill="#000" stroke="#000" stroke-width="0.4" text-anchor="middle">Jul 24</text>
<text transform="translate(769.2,378.8) scale(1,1.025)" font-size="31.9" fill="#000" stroke="#000" stroke-width="0.4" text-anchor="middle">Jul 28</text>
<text transform="translate(175.6,53) scale(1,0.99)" font-size="29.4" fill="#000" stroke="#000" stroke-width="0.3" font-weight="bold">A</text>
<text transform="translate(211.2,56) scale(1,1.025)" font-size="28.6" fill="#000" stroke="#000" stroke-width="0.4">2019 Danas</text>
<text transform="translate(635.2,92.9) scale(1,1.025)" font-size="28.7" fill="#0033cc" stroke="#0033cc" stroke-width="0.4">air pCO<tspan font-size="17.2" dy="9.3">2</tspan></text>
</g>
<g id="panel-B">
<rect x="157" y="416.3" width="614.3" height="310.8" fill="#ffffe8"/>
<line x1="157" y1="467.4" x2="771.3" y2="467.4" stroke="#0033cc" stroke-width="2.6"/>
<rect x="436.3" y="416.3" width="63.5" height="310.8" fill="#777777" fill-opacity="0.57"/>
<line x1="157" y1="571.2" x2="771.3" y2="571.2" stroke="#339933" stroke-width="1.7" stroke-dasharray="6.3 5.3"/>
<g fill="none" stroke="#99bbee" stroke-width="4.0"><circle cx="158.7" cy="554.4" r="3.85"/><circle cx="161.9" cy="581.4" r="3.85"/><circle cx="163.5" cy="620.5" r="3.85"/><circle cx="165.4" cy="664.2" r="3.85"/><circle cx="166.9" cy="638.6" r="3.85"/><circle cx="170.2" cy="610.3" r="3.85"/><circle cx="171.2" cy="593.9" r="3.85"/><circle cx="173.2" cy="594.3" r="3.85"/><circle cx="174.5" cy="593.9" r="3.85"/><circle cx="175.9" cy="596.2" r="3.85"/><circle cx="177.5" cy="594.3" r="3.85"/><circle cx="179.2" cy="597.2" r="3.85"/><circle cx="180.8" cy="597.4" r="3.85"/><circle cx="181.8" cy="620.9" r="3.85"/><circle cx="184.3" cy="611.2" r="3.85"/><circle cx="185.6" cy="618" r="3.85"/><circle cx="188.1" cy="625.7" r="3.85"/><circle cx="189.5" cy="593.9" r="3.85"/><circle cx="193.3" cy="559.3" r="3.85"/><circle cx="197.2" cy="590.4" r="3.85"/><circle cx="198.5" cy="613.2" r="3.85"/><circle cx="200.4" cy="626.6" r="3.85"/><circle cx="202" cy="637.2" r="3.85"/><circle cx="203.5" cy="648.8" r="3.85"/><circle cx="204.9" cy="655.5" r="3.85"/><circle cx="206.4" cy="654.7" r="3.85"/><circle cx="207.8" cy="650.7" r="3.85"/><circle cx="210.1" cy="645.5" r="3.85"/><circle cx="211.2" cy="627.6" r="3.85"/><circle cx="212.6" cy="617" r="3.85"/><circle cx="213.5" cy="622" r="3.85"/><circle cx="215.5" cy="620.9" r="3.85"/><circle cx="217.8" cy="603.2" r="3.85"/><circle cx="219.3" cy="614.1" r="3.85"/><circle cx="221.6" cy="621.8" r="3.85"/><circle cx="222.8" cy="645.5" r="3.85"/><circle cx="224.1" cy="657.4" r="3.85"/><circle cx="225.3" cy="657.7" r="3.85"/><circle cx="226.6" cy="661.3" r="3.85"/><circle cx="227.6" cy="668" r="3.85"/><circle cx="228.9" cy="636.3" r="3.85"/><circle cx="230.9" cy="626.6" r="3.85"/><circle cx="233.8" cy="638.2" r="3.85"/><circle cx="234.7" cy="630.5" r="3.85"/><circle cx="237.6" cy="622.8" r="3.85"/><circle cx="239" cy="609.7" r="3.85"/><circle cx="242" cy="628.6" r="3.85"/><circle cx="245.3" cy="641.1" r="3.85"/><circle cx="241.5" cy="655.5" r="3.85"/><circle cx="242.9" cy="657.8" r="3.85"/><circle cx="244.9" cy="657.3" r="3.85"/><circle cx="246.3" cy="659.4" r="3.85"/><circle cx="250.1" cy="649.7" r="3.85"/><circle cx="252.1" cy="644.3" r="3.85"/><circle cx="254" cy="645.9" r="3.85"/><circle cx="255.9" cy="644.7" r="3.85"/><circle cx="257.8" cy="644" r="3.85"/><circle cx="259.7" cy="652.6" r="3.85"/><circle cx="261.7" cy="662.3" r="3.85"/><circle cx="263.5" cy="666.6" r="3.85"/><circle cx="265.5" cy="667.1" r="3.85"/><circle cx="269.4" cy="655.5" r="3.85"/><circle cx="271.3" cy="652.6" r="3.85"/><circle cx="267.4" cy="635.3" r="3.85"/><circle cx="269.6" cy="637.9" r="3.85"/><circle cx="270.4" cy="639.3" r="3.85"/><circle cx="272.3" cy="636.3" r="3.85"/><circle cx="273.2" cy="620.5" r="3.85"/><circle cx="277.1" cy="632.4" r="3.85"/><circle cx="278" cy="623.8" r="3.85"/><circle cx="281.9" cy="615.1" r="3.85"/><circle cx="283.7" cy="615.5" r="3.85"/><circle cx="285.7" cy="616.1" r="3.85"/><circle cx="287.7" cy="618.9" r="3.85"/><circle cx="289.6" cy="629.5" r="3.85"/><circle cx="291.3" cy="632.9" r="3.85"/><circle cx="293.4" cy="634.3" r="3.85"/><circle cx="291.5" cy="643" r="3.85"/><circle cx="293.3" cy="642.4" r="3.85"/><circle cx="294.7" cy="640.8" r="3.85"/><circle cx="296.3" cy="640.1" r="3.85"/><circle cx="300.2" cy="630.5" r="3.85"/><circle cx="302.1" cy="644.9" r="3.85"/><circle cx="303.9" cy="645.6" r="3.85"/><circle cx="306" cy="642" r="3.85"/><circle cx="305" cy="655.5" r="3.85"/><circle cx="306.4" cy="653.6" r="3.85"/><circle cx="308.1" cy="650.7" r="3.85"/><circle cx="309.8" cy="650.7" r="3.85"/><circle cx="310.8" cy="659.4" r="3.85"/><circle cx="312.3" cy="654.5" r="3.85"/><circle cx="314.1" cy="657.4" r="3.85"/><circle cx="315.6" cy="654.6" r="3.85"/><circle cx="319.4" cy="645.9" r="3.85"/><circle cx="319" cy="632.8" r="3.85"/><circle cx="320.4" cy="637.4" r="3.85"/><circle cx="321.6" cy="636.3" r="3.85"/><circle cx="323.3" cy="636.3" r="3.85"/><circle cx="325.2" cy="653.6" r="3.85"/><circle cx="328.1" cy="644.9" r="3.85"/><circle cx="329.7" cy="642.3" r="3.85"/><circle cx="331" cy="642" r="3.85"/><circle cx="332.9" cy="651.7" r="3.85"/><circle cx="334.8" cy="661.3" r="3.85"/><circle cx="336.4" cy="663.6" r="3.85"/><circle cx="338.1" cy="662.6" r="3.85"/><circle cx="339.7" cy="662.3" r="3.85"/><circle cx="342" cy="664.7" r="3.85"/><circle cx="343.5" cy="666.1" r="3.85"/><circle cx="344.4" cy="666.9" r="3.85"/><circle cx="346.4" cy="670.9" r="3.85"/><circle cx="347.4" cy="680.6" r="3.85"/><circle cx="349.5" cy="677.4" r="3.85"/><circle cx="351.2" cy="674.8" r="3.85"/><circle cx="354.1" cy="668" r="3.85"/><circle cx="355.4" cy="664.3" r="3.85"/><circle cx="357.4" cy="672.6" r="3.85"/><circle cx="358.9" cy="670" r="3.85"/><circle cx="363.7" cy="661.3" r="3.85"/><circle cx="365.6" cy="672.9" r="3.85"/><circle cx="368.5" cy="682.5" r="3.85"/><circle cx="371.4" cy="674.8" r="3.85"/><circle cx="372.7" cy="668.1" r="3.85"/><circle cx="374.8" cy="669.7" r="3.85"/><circle cx="376.2" cy="669" r="3.85"/><circle cx="379.1" cy="676.7" r="3.85"/><circle cx="381" cy="674.1" r="3.85"/><circle cx="383" cy="672.9" r="3.85"/><circle cx="387.8" cy="665.2" r="3.85"/><circle cx="390.7" cy="672.9" r="3.85"/><circle cx="392.3" cy="671.9" r="3.85"/><circle cx="394.5" cy="669" r="3.85"/><circle cx="398.4" cy="662.3" r="3.85"/><circle cx="400.3" cy="661.8" r="3.85"/><circle cx="401.4" cy="662" r="3.85"/><circle cx="403.2" cy="658.4" r="3.85"/><circle cx="407" cy="665.2" r="3.85"/><circle cx="408" cy="682.5" r="3.85"/><circle cx="409.6" cy="682.8" r="3.85"/><circle cx="410.9" cy="682" r="3.85"/><circle cx="412.8" cy="679.6" r="3.85"/><circle cx="413.8" cy="669" r="3.85"/><circle cx="415.9" cy="669.9" r="3.85"/><circle cx="417.6" cy="665.2" r="3.85"/><circle cx="419.6" cy="657.4" r="3.85"/><circle cx="421.5" cy="651.7" r="3.85"/><circle cx="422.4" cy="637.2" r="3.85"/><circle cx="423.9" cy="635.3" r="3.85"/><circle cx="425.3" cy="631.5" r="3.85"/><circle cx="428.2" cy="624.7" r="3.85"/><circle cx="430" cy="624.2" r="3.85"/><circle cx="432.1" cy="619.9" r="3.85"/><circle cx="433.9" cy="621.6" r="3.85"/><circle cx="435.2" cy="616" r="3.85"/><circle cx="436.9" cy="618" r="3.85"/><circle cx="438.8" cy="618" r="3.85"/><circle cx="440.7" cy="618.9" r="3.85"/><circle cx="442.7" cy="626.6" r="3.85"/><circle cx="444.6" cy="634.3" r="3.85"/><circle cx="445.8" cy="637.1" r="3.85"/><circle cx="447.5" cy="637.2" r="3.85"/><circle cx="449.4" cy="636.5" r="3.85"/><circle cx="451" cy="634.9" r="3.85"/><circle cx="452.3" cy="632.4" r="3.85"/><circle cx="453.9" cy="628.7" r="3.85"/><circle cx="456.1" cy="627.6" r="3.85"/><circle cx="460" cy="618.9" r="3.85"/><circle cx="461.5" cy="605.1" r="3.85"/><circle cx="462.9" cy="588.1" r="3.85"/><circle cx="465.8" cy="580.4" r="3.85"/><circle cx="349.3" cy="696.9" r="3.85"/><circle cx="177" cy="536.5" r="3.85"/><circle cx="175" cy="540.5" r="3.85"/><circle cx="468" cy="586.1" r="3.85"/><circle cx="470.1" cy="588.1" r="3.85"/><circle cx="471.8" cy="589" r="3.85"/><circle cx="473.2" cy="587" r="3.85"/><circle cx="474.4" cy="593.4" r="3.85"/><circle cx="475.8" cy="590.1" r="3.85"/><circle cx="477.4" cy="594.2" r="3.85"/><circle cx="478.2" cy="588.7" r="3.85"/><circle cx="479.9" cy="597" r="3.85"/><circle cx="481.6" cy="595.8" r="3.85"/><circle cx="483.9" cy="601.6" r="3.85"/><circle cx="485.7" cy="594.3" r="3.85"/><circle cx="486.4" cy="590.1" r="3.85"/><circle cx="488.4" cy="580.4" r="3.85"/><circle cx="489.5" cy="581.7" r="3.85"/><circle cx="491.2" cy="588.1" r="3.85"/><circle cx="492.4" cy="593.9" r="3.85"/><circle cx="494.1" cy="596.8" r="3.85"/><circle cx="495.6" cy="602.6" r="3.85"/><circle cx="497.6" cy="597" r="3.85"/><circle cx="498.9" cy="599.7" r="3.85"/><circle cx="500.9" cy="597.4" r="3.85"/><circle cx="502.8" cy="595.8" r="3.85"/><circle cx="504.5" cy="593.4" r="3.85"/><circle cx="505.7" cy="586.2" r="3.85"/><circle cx="507.2" cy="586.9" r="3.85"/><circle cx="509.1" cy="582.8" r="3.85"/><circle cx="510.5" cy="581.4" r="3.85"/><circle cx="512" cy="580.7" r="3.85"/><circle cx="513.4" cy="576.6" r="3.85"/><circle cx="515.2" cy="577.3" r="3.85"/><circle cx="517.2" cy="581.4" r="3.85"/><circle cx="519.1" cy="582.4" r="3.85"/><circle cx="519.9" cy="584.5" r="3.85"/><circle cx="521.1" cy="584.4" r="3.85"/><circle cx="523" cy="585.2" r="3.85"/><circle cx="524.1" cy="588.5" r="3.85"/><circle cx="525.9" cy="593.9" r="3.85"/><circle cx="527.8" cy="606.4" r="3.85"/><circle cx="529" cy="606" r="3.85"/><circle cx="531.5" cy="608.9" r="3.85"/><circle cx="532.5" cy="615.2" r="3.85"/><circle cx="534.6" cy="612.2" r="3.85"/><circle cx="535.5" cy="603.5" r="3.85"/><circle cx="536.9" cy="606.6" r="3.85"/><circle cx="538.5" cy="598.3" r="3.85"/><circle cx="540.7" cy="600.1" r="3.85"/><circle cx="541.9" cy="603.5" r="3.85"/><circle cx="543.2" cy="599.7" r="3.85"/><circle cx="544.4" cy="601.2" r="3.85"/><circle cx="546.3" cy="603.8" r="3.85"/><circle cx="548" cy="603.5" r="3.85"/><circle cx="549.6" cy="598.7" r="3.85"/><circle cx="551.3" cy="602.3" r="3.85"/><circle cx="552.9" cy="598.7" r="3.85"/><circle cx="554.8" cy="611.2" r="3.85"/><circle cx="556.6" cy="609.8" r="3.85"/><circle cx="558.6" cy="605.5" r="3.85"/><circle cx="560.1" cy="606" r="3.85"/><circle cx="561.9" cy="607.1" r="3.85"/><circle cx="563.4" cy="607.4" r="3.85"/><circle cx="565.4" cy="618.9" r="3.85"/><circle cx="567.3" cy="618.5" r="3.85"/><circle cx="568.8" cy="615" r="3.85"/><circle cx="570.2" cy="610.3" r="3.85"/><circle cx="572.2" cy="605.9" r="3.85"/><circle cx="574" cy="607.4" r="3.85"/><circle cx="575.8" cy="606.5" r="3.85"/><circle cx="576.9" cy="596.8" r="3.85"/><circle cx="578.4" cy="602.9" r="3.85"/><circle cx="579.8" cy="610.3" r="3.85"/><circle cx="581.7" cy="621.8" r="3.85"/><circle cx="583.2" cy="624.2" r="3.85"/><circle cx="584.7" cy="617.9" r="3.85"/><circle cx="586" cy="617.7" r="3.85"/><circle cx="587.5" cy="618.9" r="3.85"/><circle cx="589.4" cy="623.8" r="3.85"/><circle cx="591.3" cy="613.3" r="3.85"/><circle cx="593.3" cy="607.4" r="3.85"/><circle cx="594.5" cy="612.1" r="3.85"/><circle cx="596.2" cy="609.3" r="3.85"/><circle cx="596.2" cy="618" r="3.85"/><circle cx="598.1" cy="618.1" r="3.85"/><circle cx="599.1" cy="625.2" r="3.85"/><circle cx="601" cy="630.5" r="3.85"/><circle cx="602.8" cy="624.6" r="3.85"/><circle cx="604.8" cy="625.7" r="3.85"/><circle cx="606.5" cy="623" r="3.85"/><circle cx="607.9" cy="630.4" r="3.85"/><circle cx="609.1" cy="628.4" r="3.85"/><circle cx="610.6" cy="631.5" r="3.85"/><circle cx="612.5" cy="636.3" r="3.85"/><circle cx="614.5" cy="631.9" r="3.85"/><circle cx="616.4" cy="626.6" r="3.85"/><circle cx="617.2" cy="625.4" r="3.85"/><circle cx="619.4" cy="630.2" r="3.85"/><circle cx="620.6" cy="629.9" r="3.85"/><circle cx="622.2" cy="634.3" r="3.85"/><circle cx="623.4" cy="631.2" r="3.85"/><circle cx="625.9" cy="628.8" r="3.85"/><circle cx="627" cy="632" r="3.85"/><circle cx="627.9" cy="629.5" r="3.85"/><circle cx="629.6" cy="629.1" r="3.85"/><circle cx="631" cy="631.7" r="3.85"/><circle cx="632.8" cy="626.6" r="3.85"/><circle cx="634.7" cy="617" r="3.85"/><circle cx="636.3" cy="623.7" r="3.85"/><circle cx="637.6" cy="630.5" r="3.85"/><circle cx="639.5" cy="634.9" r="3.85"/><circle cx="641.4" cy="638.2" r="3.85"/><circle cx="642.5" cy="629.7" r="3.85"/><circle cx="644.3" cy="622.8" r="3.85"/><circle cx="645.6" cy="635" r="3.85"/><circle cx="647.2" cy="644" r="3.85"/><circle cx="649.3" cy="625.8" r="3.85"/><circle cx="651" cy="617" r="3.85"/><circle cx="652.4" cy="618.6" r="3.85"/><circle cx="653.9" cy="615.1" r="3.85"/><circle cx="655" cy="617.9" r="3.85"/><circle cx="656.8" cy="626.6" r="3.85"/><circle cx="659" cy="630.2" r="3.85"/><circle cx="660.7" cy="634.3" r="3.85"/><circle cx="662.1" cy="630" r="3.85"/><circle cx="663.9" cy="630.4" r="3.85"/><circle cx="665.5" cy="630.5" r="3.85"/><circle cx="667.2" cy="633.5" r="3.85"/><circle cx="668.9" cy="633.5" r="3.85"/><circle cx="670.3" cy="636.3" r="3.85"/><circle cx="672.1" cy="637.8" r="3.85"/><circle cx="674.2" cy="639.2" r="3.85"/><circle cx="675.6" cy="638.7" r="3.85"/><circle cx="676.9" cy="636.6" r="3.85"/><circle cx="678.3" cy="634.8" r="3.85"/><circle cx="679.9" cy="635.3" r="3.85"/><circle cx="681.5" cy="638.1" r="3.85"/><circle cx="682.9" cy="636.4" r="3.85"/><circle cx="684.7" cy="635" r="3.85"/><circle cx="686.3" cy="633.1" r="3.85"/><circle cx="687.6" cy="634.3" r="3.85"/><circle cx="689.4" cy="633.8" r="3.85"/><circle cx="689.8" cy="632.7" r="3.85"/><circle cx="692.4" cy="630.5" r="3.85"/><circle cx="694.5" cy="640.3" r="3.85"/><circle cx="696.3" cy="640.1" r="3.85"/><circle cx="697.9" cy="644.7" r="3.85"/><circle cx="700.1" cy="648.8" r="3.85"/><circle cx="702.2" cy="643.9" r="3.85"/><circle cx="704" cy="644" r="3.85"/><circle cx="705" cy="634.3" r="3.85"/><circle cx="706.8" cy="629" r="3.85"/><circle cx="707.8" cy="621.3" r="3.85"/><circle cx="709.5" cy="626.7" r="3.85"/><circle cx="711.7" cy="638.2" r="3.85"/><circle cx="713.5" cy="648.7" r="3.85"/><circle cx="715.5" cy="647.8" r="3.85"/><circle cx="718.1" cy="638.3" r="3.85"/><circle cx="719.4" cy="640.1" r="3.85"/><circle cx="720.8" cy="651.5" r="3.85"/><circle cx="723.2" cy="659.4" r="3.85"/><circle cx="724.2" cy="644.9" r="3.85"/><circle cx="568.6" cy="628.6" r="3.85"/><circle cx="598.1" cy="583.3" r="3.85"/><circle cx="633.3" cy="603.9" r="3.85"/><circle cx="670.3" cy="616.6" r="3.85"/><circle cx="684.7" cy="616.1" r="3.85"/><circle cx="728.8" cy="620.7" r="3.85"/><circle cx="730.9" cy="606.6" r="3.85"/><circle cx="732.5" cy="611.9" r="3.85"/><circle cx="734.2" cy="618.5" r="3.85"/><circle cx="736" cy="625.6" r="3.85"/><circle cx="737.4" cy="632.6" r="3.85"/><circle cx="738.5" cy="642.3" r="3.85"/><circle cx="740.7" cy="649.9" r="3.85"/><circle cx="741.8" cy="660.7" r="3.85"/><circle cx="743.3" cy="661.7" r="3.85"/><circle cx="744.3" cy="663.5" r="3.85"/><circle cx="746.1" cy="662.9" r="3.85"/><circle cx="748.3" cy="653.2" r="3.85"/><circle cx="749.9" cy="648.9" r="3.85"/><circle cx="752.1" cy="642.4" r="3.85"/><circle cx="753.7" cy="636.9" r="3.85"/><circle cx="754.7" cy="646.7" r="3.85"/><circle cx="756.4" cy="654.7" r="3.85"/><circle cx="758" cy="662.9" r="3.85"/><circle cx="759.1" cy="666.4" r="3.85"/><circle cx="761.2" cy="670.5" r="3.85"/><circle cx="763" cy="662.9" r="3.85"/><circle cx="764.5" cy="658.6" r="3.85"/><circle cx="765.7" cy="653.1" r="3.85"/><circle cx="767.7" cy="645.6" r="3.85"/><circle cx="769.9" cy="661.8" r="3.85"/></g>
<g fill="none" stroke="#ccff00" stroke-width="1.6"><rect x="155.1" y="557.9" width="5.3" height="5.3"/><rect x="156.5" y="559.4" width="5.3" height="5.3"/><rect x="157.9" y="557.5" width="5.3" height="5.3"/><rect x="159.7" y="558.7" width="5.3" height="5.3"/><rect x="160.8" y="559.8" width="5.3" height="5.3"/><rect x="162.2" y="557.5" width="5.3" height="5.3"/><rect x="163.8" y="557.3" width="5.3" height="5.3"/><rect x="165.2" y="557.5" width="5.3" height="5.3"/><rect x="166.6" y="556" width="5.3" height="5.3"/><rect x="167.8" y="552.9" width="5.3" height="5.3"/><rect x="169.6" y="555.4" width="5.3" height="5.3"/><rect x="171.1" y="551.4" width="5.3" height="5.3"/><rect x="172.4" y="552.1" width="5.3" height="5.3"/><rect x="174" y="552.7" width="5.3" height="5.3"/><rect x="175.4" y="552.8" width="5.3" height="5.3"/><rect x="176.6" y="552.4" width="5.3" height="5.3"/><rect x="178.2" y="552.1" width="5.3" height="5.3"/><rect x="179.9" y="550.9" width="5.3" height="5.3"/><rect x="180.6" y="551" width="5.3" height="5.3"/><rect x="182.5" y="547.9" width="5.3" height="5.3"/><rect x="183.9" y="550.2" width="5.3" height="5.3"/><rect x="185.3" y="551.1" width="5.3" height="5.3"/><rect x="187.1" y="550.3" width="5.3" height="5.3"/><rect x="188.7" y="550.2" width="5.3" height="5.3"/><rect x="189.8" y="546.3" width="5.3" height="5.3"/><rect x="191.6" y="539.6" width="5.3" height="5.3"/><rect x="193.6" y="534.5" width="5.3" height="5.3"/><rect x="194.5" y="530" width="5.3" height="5.3"/><rect x="196.1" y="521.9" width="5.3" height="5.3"/><rect x="198.4" y="538.3" width="5.3" height="5.3"/><rect x="199.6" y="536.5" width="5.3" height="5.3"/><rect x="201.3" y="538.3" width="5.3" height="5.3"/><rect x="203" y="535.3" width="5.3" height="5.3"/><rect x="204" y="533.9" width="5.3" height="5.3"/><rect x="205.7" y="529" width="5.3" height="5.3"/><rect x="204.7" y="538.8" width="5.3" height="5.3"/><rect x="203.2" y="546.7" width="5.3" height="5.3"/><rect x="204.3" y="546.3" width="5.3" height="5.3"/><rect x="206.6" y="544.4" width="5.3" height="5.3"/><rect x="208" y="546" width="5.3" height="5.3"/><rect x="209.7" y="551.2" width="5.3" height="5.3"/><rect x="210.9" y="552.1" width="5.3" height="5.3"/><rect x="212.6" y="551.8" width="5.3" height="5.3"/><rect x="213.6" y="555" width="5.3" height="5.3"/><rect x="215.5" y="556.1" width="5.3" height="5.3"/><rect x="216.7" y="555" width="5.3" height="5.3"/><rect x="218.5" y="556.1" width="5.3" height="5.3"/><rect x="219.4" y="554.6" width="5.3" height="5.3"/><rect x="221.2" y="561.9" width="5.3" height="5.3"/><rect x="222.4" y="559.8" width="5.3" height="5.3"/><rect x="223.7" y="559.4" width="5.3" height="5.3"/><rect x="225.5" y="560.9" width="5.3" height="5.3"/><rect x="226.4" y="559.5" width="5.3" height="5.3"/><rect x="228.2" y="560.8" width="5.3" height="5.3"/><rect x="229.3" y="564.1" width="5.3" height="5.3"/><rect x="230.9" y="562.6" width="5.3" height="5.3"/><rect x="233.1" y="564.4" width="5.3" height="5.3"/><rect x="234" y="561.8" width="5.3" height="5.3"/><rect x="235.9" y="563.7" width="5.3" height="5.3"/><rect x="236.5" y="560.3" width="5.3" height="5.3"/><rect x="238.1" y="559.9" width="5.3" height="5.3"/><rect x="239.8" y="559.8" width="5.3" height="5.3"/><rect x="242" y="556.6" width="5.3" height="5.3"/><rect x="242.8" y="556.5" width="5.3" height="5.3"/><rect x="244.5" y="559.6" width="5.3" height="5.3"/><rect x="245.5" y="556.9" width="5.3" height="5.3"/><rect x="246.8" y="560" width="5.3" height="5.3"/><rect x="248.5" y="558.9" width="5.3" height="5.3"/><rect x="250" y="556.1" width="5.3" height="5.3"/><rect x="251.3" y="556.9" width="5.3" height="5.3"/><rect x="252.7" y="557.2" width="5.3" height="5.3"/><rect x="254.4" y="558.1" width="5.3" height="5.3"/><rect x="256.4" y="558.1" width="5.3" height="5.3"/><rect x="257.1" y="558.9" width="5.3" height="5.3"/><rect x="259" y="549.8" width="5.3" height="5.3"/><rect x="260.8" y="556.6" width="5.3" height="5.3"/><rect x="262.9" y="565.6" width="5.3" height="5.3"/><rect x="264.2" y="559.5" width="5.3" height="5.3"/><rect x="265.8" y="559" width="5.3" height="5.3"/><rect x="267.7" y="553.7" width="5.3" height="5.3"/><rect x="269.4" y="551.8" width="5.3" height="5.3"/><rect x="271.2" y="552.1" width="5.3" height="5.3"/><rect x="272.9" y="550.1" width="5.3" height="5.3"/><rect x="274.4" y="547.3" width="5.3" height="5.3"/><rect x="276.4" y="564.6" width="5.3" height="5.3"/><rect x="277.6" y="564.6" width="5.3" height="5.3"/><rect x="279" y="565.2" width="5.3" height="5.3"/><rect x="280.4" y="565.1" width="5.3" height="5.3"/><rect x="282.1" y="566" width="5.3" height="5.3"/><rect x="283.9" y="561.2" width="5.3" height="5.3"/><rect x="285.6" y="556.3" width="5.3" height="5.3"/><rect x="287.5" y="552.5" width="5.3" height="5.3"/><rect x="289.5" y="553.1" width="5.3" height="5.3"/><rect x="290.4" y="555" width="5.3" height="5.3"/><rect x="292" y="554.1" width="5.3" height="5.3"/><rect x="294" y="554.3" width="5.3" height="5.3"/><rect x="295.6" y="557.9" width="5.3" height="5.3"/><rect x="296.6" y="566" width="5.3" height="5.3"/><rect x="297.2" y="563.1" width="5.3" height="5.3"/><rect x="300.1" y="556.8" width="5.3" height="5.3"/><rect x="301.4" y="556" width="5.3" height="5.3"/><rect x="302.6" y="558" width="5.3" height="5.3"/><rect x="303.7" y="557.1" width="5.3" height="5.3"/><rect x="305.4" y="559.3" width="5.3" height="5.3"/><rect x="307.2" y="560.8" width="5.3" height="5.3"/><rect x="308" y="559.7" width="5.3" height="5.3"/><rect x="310" y="556.4" width="5.3" height="5.3"/><rect x="311.4" y="550.4" width="5.3" height="5.3"/><rect x="312.9" y="551.2" width="5.3" height="5.3"/><rect x="311" y="563.7" width="5.3" height="5.3"/><rect x="312.5" y="560.1" width="5.3" height="5.3"/><rect x="314.1" y="559.3" width="5.3" height="5.3"/><rect x="315.5" y="558.7" width="5.3" height="5.3"/><rect x="317.4" y="558.7" width="5.3" height="5.3"/><rect x="318.7" y="556" width="5.3" height="5.3"/><rect x="320.3" y="558.8" width="5.3" height="5.3"/><rect x="322.6" y="561.8" width="5.3" height="5.3"/><rect x="324.4" y="557.2" width="5.3" height="5.3"/><rect x="325.4" y="551.2" width="5.3" height="5.3"/><rect x="327.4" y="544.4" width="5.3" height="5.3"/><rect x="329.3" y="539.6" width="5.3" height="5.3"/><rect x="331" y="545.7" width="5.3" height="5.3"/><rect x="333.2" y="552.1" width="5.3" height="5.3"/><rect x="335" y="548.7" width="5.3" height="5.3"/><rect x="337" y="542.5" width="5.3" height="5.3"/><rect x="338.9" y="538.6" width="5.3" height="5.3"/><rect x="340.4" y="544" width="5.3" height="5.3"/><rect x="341.8" y="548.3" width="5.3" height="5.3"/><rect x="343.9" y="536.9" width="5.3" height="5.3"/><rect x="344.7" y="529.6" width="5.3" height="5.3"/><rect x="345.8" y="532.5" width="5.3" height="5.3"/><rect x="347.6" y="540.6" width="5.3" height="5.3"/><rect x="349" y="539.9" width="5.3" height="5.3"/><rect x="351.4" y="536.7" width="5.3" height="5.3"/><rect x="353.1" y="534.7" width="5.3" height="5.3"/><rect x="354.1" y="526.4" width="5.3" height="5.3"/><rect x="356.3" y="523.2" width="5.3" height="5.3"/><rect x="358.1" y="528.6" width="5.3" height="5.3"/><rect x="359.1" y="530.9" width="5.3" height="5.3"/><rect x="361.1" y="521.7" width="5.3" height="5.3"/><rect x="362.6" y="509.8" width="5.3" height="5.3"/><rect x="364.9" y="519.4" width="5.3" height="5.3"/><rect x="366.8" y="526.1" width="5.3" height="5.3"/><rect x="368.8" y="519.9" width="5.3" height="5.3"/><rect x="370.7" y="513.6" width="5.3" height="5.3"/><rect x="372.1" y="514.9" width="5.3" height="5.3"/><rect x="373.5" y="514.1" width="5.3" height="5.3"/><rect x="375.5" y="511.9" width="5.3" height="5.3"/><rect x="376.5" y="513.6" width="5.3" height="5.3"/><rect x="376.5" y="522.3" width="5.3" height="5.3"/><rect x="377.7" y="520.2" width="5.3" height="5.3"/><rect x="379.4" y="516.5" width="5.3" height="5.3"/><rect x="380.3" y="496.3" width="5.3" height="5.3"/><rect x="381.8" y="495" width="5.3" height="5.3"/><rect x="384.2" y="494.7" width="5.3" height="5.3"/><rect x="385.1" y="493" width="5.3" height="5.3"/><rect x="386.5" y="497.3" width="5.3" height="5.3"/><rect x="388" y="498.2" width="5.3" height="5.3"/><rect x="386.1" y="511.7" width="5.3" height="5.3"/><rect x="388.8" y="507.1" width="5.3" height="5.3"/><rect x="389.9" y="505.9" width="5.3" height="5.3"/><rect x="391.4" y="505.5" width="5.3" height="5.3"/><rect x="393" y="507.9" width="5.3" height="5.3"/><rect x="394.8" y="504" width="5.3" height="5.3"/><rect x="396.7" y="510.7" width="5.3" height="5.3"/><rect x="397.7" y="518.8" width="5.3" height="5.3"/><rect x="399.3" y="516.7" width="5.3" height="5.3"/><rect x="400.7" y="514.5" width="5.3" height="5.3"/><rect x="401.8" y="514.4" width="5.3" height="5.3"/><rect x="403.4" y="512.7" width="5.3" height="5.3"/><rect x="404.4" y="505" width="5.3" height="5.3"/><rect x="406.3" y="518.8" width="5.3" height="5.3"/><rect x="407.7" y="494.4" width="5.3" height="5.3"/><rect x="409.9" y="493" width="5.3" height="5.3"/><rect x="410.7" y="500.2" width="5.3" height="5.3"/><rect x="412.1" y="500.1" width="5.3" height="5.3"/><rect x="414" y="495.3" width="5.3" height="5.3"/><rect x="415.9" y="510.7" width="5.3" height="5.3"/><rect x="417.9" y="495.3" width="5.3" height="5.3"/><rect x="419.8" y="504" width="5.3" height="5.3"/><rect x="420.8" y="510.7" width="5.3" height="5.3"/><rect x="422.9" y="509.3" width="5.3" height="5.3"/><rect x="424.6" y="502.1" width="5.3" height="5.3"/><rect x="426.2" y="495.7" width="5.3" height="5.3"/><rect x="427.5" y="489" width="5.3" height="5.3"/><rect x="428.9" y="493.3" width="5.3" height="5.3"/><rect x="430.4" y="500.1" width="5.3" height="5.3"/><rect x="432.3" y="490.5" width="5.3" height="5.3"/><rect x="269.6" y="533.5" width="5.3" height="5.3"/><rect x="272.1" y="524.2" width="5.3" height="5.3"/><rect x="288.9" y="539" width="5.3" height="5.3"/><rect x="290.2" y="538.6" width="5.3" height="5.3"/><rect x="291.8" y="538.3" width="5.3" height="5.3"/><rect x="432.8" y="473.6" width="5.3" height="5.3"/><rect x="434.7" y="470.1" width="5.3" height="5.3"/><rect x="435.6" y="469" width="5.3" height="5.3"/><rect x="437" y="465.2" width="5.3" height="5.3"/><rect x="438.5" y="462.6" width="5.3" height="5.3"/><rect x="439.7" y="461.6" width="5.3" height="5.3"/><rect x="441.4" y="465.1" width="5.3" height="5.3"/><rect x="443.3" y="457.8" width="5.3" height="5.3"/><rect x="444.7" y="460.3" width="5.3" height="5.3"/><rect x="446.2" y="462.6" width="5.3" height="5.3"/><rect x="447.8" y="467.8" width="5.3" height="5.3"/><rect x="449.1" y="458.7" width="5.3" height="5.3"/><rect x="451" y="451" width="5.3" height="5.3"/><rect x="452.4" y="429.9" width="5.3" height="5.3"/><rect x="453.9" y="443.3" width="5.3" height="5.3"/><rect x="455.5" y="448.2" width="5.3" height="5.3"/><rect x="457.4" y="453.9" width="5.3" height="5.3"/><rect x="458.7" y="471.6" width="5.3" height="5.3"/><rect x="460.1" y="490.5" width="5.3" height="5.3"/><rect x="461.4" y="490.6" width="5.3" height="5.3"/><rect x="462.6" y="489" width="5.3" height="5.3"/><rect x="463.8" y="487.7" width="5.3" height="5.3"/><rect x="465.1" y="487.6" width="5.3" height="5.3"/><rect x="466.4" y="473.6" width="5.3" height="5.3"/><rect x="468.4" y="469" width="5.3" height="5.3"/><rect x="469.9" y="471.3" width="5.3" height="5.3"/><rect x="471.3" y="472.2" width="5.3" height="5.3"/><rect x="473.2" y="469" width="5.3" height="5.3"/><rect x="474.7" y="458.2" width="5.3" height="5.3"/><rect x="475.8" y="459.3" width="5.3" height="5.3"/><rect x="477.4" y="463.6" width="5.3" height="5.3"/><rect x="478.6" y="455.9" width="5.3" height="5.3"/><rect x="479.9" y="458.7" width="5.3" height="5.3"/><rect x="481.3" y="474.5" width="5.3" height="5.3"/><rect x="482.7" y="475.6" width="5.3" height="5.3"/><rect x="484.7" y="474.5" width="5.3" height="5.3"/><rect x="486.8" y="473.6" width="5.3" height="5.3"/><rect x="488.2" y="474.5" width="5.3" height="5.3"/><rect x="486.3" y="482.2" width="5.3" height="5.3"/><rect x="484.4" y="488.2" width="5.3" height="5.3"/><rect x="486.4" y="484.9" width="5.3" height="5.3"/><rect x="487.6" y="482.8" width="5.3" height="5.3"/><rect x="488.8" y="486.9" width="5.3" height="5.3"/><rect x="490.1" y="488.2" width="5.3" height="5.3"/><rect x="492.4" y="480.9" width="5.3" height="5.3"/><rect x="493.8" y="497.3" width="5.3" height="5.3"/><rect x="495.3" y="511.7" width="5.3" height="5.3"/><rect x="497.5" y="511.3" width="5.3" height="5.3"/><rect x="498.2" y="507.8" width="5.3" height="5.3"/><rect x="499.8" y="507.5" width="5.3" height="5.3"/><rect x="502.1" y="506.3" width="5.3" height="5.3"/><rect x="503.4" y="508" width="5.3" height="5.3"/><rect x="505" y="509.8" width="5.3" height="5.3"/><rect x="506.2" y="512.7" width="5.3" height="5.3"/><rect x="507.8" y="516.5" width="5.3" height="5.3"/><rect x="509.3" y="521.7" width="5.3" height="5.3"/><rect x="510.7" y="523.2" width="5.3" height="5.3"/><rect x="512.4" y="518.9" width="5.3" height="5.3"/><rect x="513.6" y="513.6" width="5.3" height="5.3"/><rect x="515.5" y="518.4" width="5.3" height="5.3"/><rect x="517.5" y="535.2" width="5.3" height="5.3"/><rect x="519.4" y="528.1" width="5.3" height="5.3"/><rect x="521.3" y="525.1" width="5.3" height="5.3"/><rect x="523.2" y="523.6" width="5.3" height="5.3"/><rect x="525.2" y="530" width="5.3" height="5.3"/><rect x="526.5" y="534.6" width="5.3" height="5.3"/><rect x="528.1" y="536.7" width="5.3" height="5.3"/><rect x="529.8" y="537.9" width="5.3" height="5.3"/><rect x="530.9" y="535.2" width="5.3" height="5.3"/><rect x="532.9" y="540.6" width="5.3" height="5.3"/><rect x="534.8" y="546" width="5.3" height="5.3"/><rect x="536.7" y="553.1" width="5.3" height="5.3"/><rect x="538.7" y="553.1" width="5.3" height="5.3"/><rect x="540.6" y="553.1" width="5.3" height="5.3"/><rect x="541.5" y="556.4" width="5.3" height="5.3"/><rect x="543.5" y="558.9" width="5.3" height="5.3"/><rect x="544.4" y="563.3" width="5.3" height="5.3"/><rect x="546.4" y="564.6" width="5.3" height="5.3"/><rect x="547.6" y="562.2" width="5.3" height="5.3"/><rect x="549.2" y="559.8" width="5.3" height="5.3"/><rect x="550.1" y="554.3" width="5.3" height="5.3"/><rect x="551.7" y="549.8" width="5.3" height="5.3"/><rect x="554.1" y="560.8" width="5.3" height="5.3"/><rect x="555.2" y="562.9" width="5.3" height="5.3"/><rect x="556.9" y="562.7" width="5.3" height="5.3"/><rect x="558.5" y="563.5" width="5.3" height="5.3"/><rect x="559.8" y="566.6" width="5.3" height="5.3"/><rect x="560.7" y="563.6" width="5.3" height="5.3"/><rect x="562.7" y="560.8" width="5.3" height="5.3"/><rect x="564" y="557.3" width="5.3" height="5.3"/><rect x="565.6" y="556" width="5.3" height="5.3"/><rect x="567.2" y="552.9" width="5.3" height="5.3"/><rect x="568.5" y="550.2" width="5.3" height="5.3"/><rect x="570.4" y="545.4" width="5.3" height="5.3"/><rect x="571.9" y="548.2" width="5.3" height="5.3"/><rect x="573.3" y="552.1" width="5.3" height="5.3"/><rect x="575.1" y="552.1" width="5.3" height="5.3"/><rect x="577.2" y="553.1" width="5.3" height="5.3"/><rect x="579.1" y="548.3" width="5.3" height="5.3"/><rect x="580.6" y="544.4" width="5.3" height="5.3"/><rect x="581.6" y="531.3" width="5.3" height="5.3"/><rect x="583.9" y="519.4" width="5.3" height="5.3"/><rect x="584.9" y="519.5" width="5.3" height="5.3"/><rect x="586.8" y="518.4" width="5.3" height="5.3"/><rect x="588.3" y="517.7" width="5.3" height="5.3"/><rect x="589.7" y="520.4" width="5.3" height="5.3"/><rect x="591.6" y="523" width="5.3" height="5.3"/><rect x="593.5" y="523.2" width="5.3" height="5.3"/><rect x="592.2" y="514" width="5.3" height="5.3"/><rect x="590.6" y="502.1" width="5.3" height="5.3"/><rect x="592" y="503.5" width="5.3" height="5.3"/><rect x="593.5" y="505" width="5.3" height="5.3"/><rect x="594.6" y="501.6" width="5.3" height="5.3"/><rect x="596.4" y="500.1" width="5.3" height="5.3"/><rect x="598.3" y="488.2" width="5.3" height="5.3"/><rect x="600.3" y="505" width="5.3" height="5.3"/><rect x="601.2" y="499.2" width="5.3" height="5.3"/><rect x="603.2" y="495.3" width="5.3" height="5.3"/><rect x="604.7" y="498.3" width="5.3" height="5.3"/><rect x="606" y="500.1" width="5.3" height="5.3"/><rect x="607.8" y="503.2" width="5.3" height="5.3"/><rect x="608.9" y="505.9" width="5.3" height="5.3"/><rect x="610.1" y="509.2" width="5.3" height="5.3"/><rect x="611.8" y="511.7" width="5.3" height="5.3"/><rect x="613.2" y="511.1" width="5.3" height="5.3"/><rect x="614.7" y="506.9" width="5.3" height="5.3"/><rect x="616.7" y="506.9" width="5.3" height="5.3"/><rect x="617.6" y="505" width="5.3" height="5.3"/><rect x="619.5" y="496.3" width="5.3" height="5.3"/><rect x="620.6" y="493.8" width="5.3" height="5.3"/><rect x="622.4" y="492.4" width="5.3" height="5.3"/><rect x="624.1" y="488.4" width="5.3" height="5.3"/><rect x="625.7" y="485.7" width="5.3" height="5.3"/><rect x="627.1" y="496.5" width="5.3" height="5.3"/><rect x="628.2" y="505.9" width="5.3" height="5.3"/><rect x="630.1" y="499.8" width="5.3" height="5.3"/><rect x="631.5" y="492.4" width="5.3" height="5.3"/><rect x="633" y="499.4" width="5.3" height="5.3"/><rect x="634" y="505.9" width="5.3" height="5.3"/><rect x="635.1" y="497.4" width="5.3" height="5.3"/><rect x="636.8" y="490.5" width="5.3" height="5.3"/><rect x="638.3" y="493.3" width="5.3" height="5.3"/><rect x="639.7" y="493.4" width="5.3" height="5.3"/><rect x="641.7" y="490.1" width="5.3" height="5.3"/><rect x="643.6" y="496.7" width="5.3" height="5.3"/><rect x="644.9" y="505" width="5.3" height="5.3"/><rect x="646.7" y="509.8" width="5.3" height="5.3"/><rect x="647.4" y="512.7" width="5.3" height="5.3"/><rect x="646.1" y="532.5" width="5.3" height="5.3"/><rect x="647.8" y="527.6" width="5.3" height="5.3"/><rect x="649.4" y="521.3" width="5.3" height="5.3"/><rect x="650.9" y="526" width="5.3" height="5.3"/><rect x="651.9" y="528.1" width="5.3" height="5.3"/><rect x="653.2" y="520.4" width="5.3" height="5.3"/><rect x="654.6" y="511.3" width="5.3" height="5.3"/><rect x="656.1" y="490.1" width="5.3" height="5.3"/><rect x="657.8" y="483.8" width="5.3" height="5.3"/><rect x="659" y="480.5" width="5.3" height="5.3"/><rect x="660.9" y="487.6" width="5.3" height="5.3"/><rect x="662.8" y="485.7" width="5.3" height="5.3"/><rect x="664.2" y="494.4" width="5.3" height="5.3"/><rect x="666" y="495.2" width="5.3" height="5.3"/><rect x="667.3" y="495.3" width="5.3" height="5.3"/><rect x="668.6" y="503" width="5.3" height="5.3"/><rect x="667" y="508.9" width="5.3" height="5.3"/><rect x="665.7" y="513.6" width="5.3" height="5.3"/><rect x="667.4" y="514.8" width="5.3" height="5.3"/><rect x="668.4" y="516.3" width="5.3" height="5.3"/><rect x="670.5" y="517.5" width="5.3" height="5.3"/><rect x="672.1" y="519.8" width="5.3" height="5.3"/><rect x="673.4" y="522.3" width="5.3" height="5.3"/><rect x="674.4" y="525.6" width="5.3" height="5.3"/><rect x="676.3" y="528.1" width="5.3" height="5.3"/><rect x="678.2" y="532.9" width="5.3" height="5.3"/><rect x="679.9" y="533.1" width="5.3" height="5.3"/><rect x="681.1" y="532.9" width="5.3" height="5.3"/><rect x="682.7" y="539" width="5.3" height="5.3"/><rect x="684" y="549.8" width="5.3" height="5.3"/><rect x="685" y="555" width="5.3" height="5.3"/><rect x="686.8" y="548.9" width="5.3" height="5.3"/><rect x="688.4" y="543.5" width="5.3" height="5.3"/><rect x="690.8" y="549.2" width="5.3" height="5.3"/><rect x="692.5" y="551.2" width="5.3" height="5.3"/><rect x="694.6" y="552.1" width="5.3" height="5.3"/><rect x="696.4" y="552.8" width="5.3" height="5.3"/><rect x="698.5" y="553.1" width="5.3" height="5.3"/><rect x="701.4" y="555.2" width="5.3" height="5.3"/><rect x="702.3" y="556" width="5.3" height="5.3"/><rect x="703.8" y="560.8" width="5.3" height="5.3"/><rect x="705.3" y="558.5" width="5.3" height="5.3"/><rect x="706.7" y="560.3" width="5.3" height="5.3"/><rect x="708.1" y="558.9" width="5.3" height="5.3"/><rect x="709.3" y="555.3" width="5.3" height="5.3"/><rect x="711" y="552.1" width="5.3" height="5.3"/><rect x="711.7" y="549.3" width="5.3" height="5.3"/><rect x="713.9" y="545.4" width="5.3" height="5.3"/><rect x="715.8" y="541" width="5.3" height="5.3"/><rect x="717.7" y="545.4" width="5.3" height="5.3"/><rect x="719" y="549.4" width="5.3" height="5.3"/><rect x="720.6" y="552.1" width="5.3" height="5.3"/><rect x="722.5" y="552.9" width="5.3" height="5.3"/><rect x="723.5" y="554.1" width="5.3" height="5.3"/><rect x="725.7" y="555.7" width="5.3" height="5.3"/><rect x="727.3" y="556.9" width="5.3" height="5.3"/><rect x="729.2" y="555.7" width="5.3" height="5.3"/><rect x="731.2" y="555" width="5.3" height="5.3"/><rect x="732.9" y="553.7" width="5.3" height="5.3"/><rect x="735" y="549.8" width="5.3" height="5.3"/><rect x="735.9" y="549.8" width="5.3" height="5.3"/><rect x="737.9" y="547.7" width="5.3" height="5.3"/><rect x="739.7" y="546.9" width="5.3" height="5.3"/><rect x="741.3" y="546.6" width="5.3" height="5.3"/><rect x="742.3" y="544.2" width="5.3" height="5.3"/><rect x="743.8" y="540.5" width="5.3" height="5.3"/><rect x="745.6" y="535.8" width="5.3" height="5.3"/><rect x="747.8" y="541.2" width="5.3" height="5.3"/><rect x="749.5" y="546.9" width="5.3" height="5.3"/><rect x="751" y="550.9" width="5.3" height="5.3"/><rect x="752.6" y="548.8" width="5.3" height="5.3"/><rect x="754" y="545" width="5.3" height="5.3"/><rect x="755.3" y="541.2" width="5.3" height="5.3"/><rect x="757" y="544.4" width="5.3" height="5.3"/><rect x="758.6" y="545.5" width="5.3" height="5.3"/><rect x="760.1" y="542.2" width="5.3" height="5.3"/><rect x="761.8" y="536.8" width="5.3" height="5.3"/><rect x="764" y="532.5" width="5.3" height="5.3"/></g>
<g stroke="#0033cc" stroke-width="1.9" fill="none">
<line x1="157" y1="416.3" x2="157" y2="727.1"/>
</g>
<g stroke="#0033cc" stroke-width="1.8" fill="none">
<line x1="157" y1="483.2" x2="152" y2="483.2"/>
<line x1="157" y1="571.7" x2="152" y2="571.7"/>
<line x1="157" y1="660.3" x2="152" y2="660.3"/>
</g>
<g stroke="#339933" stroke-width="2.0" fill="none">
<line x1="771.3" y1="416.3" x2="771.3" y2="727.1"/>
</g>
<g stroke="#339933" stroke-width="1.8" fill="none">
<line x1="771.3" y1="433.4" x2="777.1" y2="433.4"/>
<line x1="771.3" y1="503.1" x2="777.1" y2="503.1"/>
<line x1="771.3" y1="571.2" x2="777.1" y2="571.2"/>
<line x1="771.3" y1="640.5" x2="777.1" y2="640.5"/>
<line x1="771.3" y1="709.6" x2="777.1" y2="709.6"/>
</g>
<g stroke="#333333" stroke-width="1.8" fill="none">
<line x1="156.1" y1="416.3" x2="772.2" y2="416.3"/>
<line x1="156.1" y1="727.1" x2="772.2" y2="727.1"/>
<line x1="157" y1="416.3" x2="157" y2="410.5"/>
<line x1="157" y1="727.1" x2="157" y2="733.1"/>
<line x1="310.6" y1="416.3" x2="310.6" y2="410.5"/>
<line x1="310.6" y1="727.1" x2="310.6" y2="733.1"/>
<line x1="464.1" y1="416.3" x2="464.1" y2="410.5"/>
<line x1="464.1" y1="727.1" x2="464.1" y2="733.1"/>
<line x1="617.7" y1="416.3" x2="617.7" y2="410.5"/>
<line x1="617.7" y1="727.1" x2="617.7" y2="733.1"/>
<line x1="771.3" y1="416.3" x2="771.3" y2="410.5"/>
<line x1="771.3" y1="727.1" x2="771.3" y2="733.1"/>
</g>
<text transform="translate(135,497.1) scale(1,1.025)" font-size="35.3" fill="#0033cc" stroke="#0033cc" stroke-width="0.5" text-anchor="end">400</text>
<text transform="translate(135,585.6) scale(1,1.025)" font-size="35.3" fill="#0033cc" stroke="#0033cc" stroke-width="0.5" text-anchor="end">300</text>
<text transform="translate(135,674.2) scale(1,1.025)" font-size="35.3" fill="#0033cc" stroke="#0033cc" stroke-width="0.5" text-anchor="end">200</text>
<text transform="translate(790.8,447) scale(1,1.025)" font-size="35.3" fill="#339933" stroke="#339933" stroke-width="0.5">0.04</text>
<text transform="translate(790.8,516.7) scale(1,1.025)" font-size="35.3" fill="#339933" stroke="#339933" stroke-width="0.5">0.02</text>
<text transform="translate(790.8,584.8) scale(1,1.025)" font-size="35.3" fill="#339933" stroke="#339933" stroke-width="0.5">0</text>
<text transform="translate(790.8,654.1) scale(1,1.025)" font-size="35.3" fill="#339933" stroke="#339933" stroke-width="0.5">-0.02</text>
<text transform="translate(790.8,723.2) scale(1,1.025)" font-size="35.3" fill="#339933" stroke="#339933" stroke-width="0.5">-0.04</text>
<text transform="translate(158.6,777.5) scale(1,1.025)" font-size="31.9" fill="#000" stroke="#000" stroke-width="0.4" text-anchor="middle">Aug 3</text>
<text transform="translate(312.2,777.5) scale(1,1.025)" font-size="31.9" fill="#000" stroke="#000" stroke-width="0.4" text-anchor="middle">Aug 7</text>
<text transform="translate(462.6,777.5) scale(1,1.025)" font-size="31.9" fill="#000" stroke="#000" stroke-width="0.4" text-anchor="middle">Aug 11</text>
<text transform="translate(617,777.5) scale(1,1.025)" font-size="31.9" fill="#000" stroke="#000" stroke-width="0.4" text-anchor="middle">Aug 15</text>
<text transform="translate(770.4,777.5) scale(1,1.025)" font-size="31.9" fill="#000" stroke="#000" stroke-width="0.4" text-anchor="middle">Aug 19</text>
<text transform="translate(175.4,453.2) scale(1,0.99)" font-size="29.4" fill="#000" stroke="#000" stroke-width="0.3" font-weight="bold">B</text>
<text transform="translate(211.2,453.3) scale(1,1.025)" font-size="28.6" fill="#000" stroke="#000" stroke-width="0.4">2019 Lekima</text>

</g>
<g id="panel-C">
<line x1="984.7" y1="153.4" x2="1598.5" y2="153.4" stroke="#0033cc" stroke-width="2.6"/>
<rect x="1194.6" y="16.7" width="39.8" height="311.8" fill="#777777" fill-opacity="0.57"/>
<line x1="984.7" y1="173.4" x2="1598.5" y2="173.4" stroke="#339933" stroke-width="1.7" stroke-dasharray="6.3 5.3"/>
<g fill="none" stroke="#99bbee" stroke-width="4.0"><circle cx="985.4" cy="243.5" r="3.85"/><circle cx="984.2" cy="253.8" r="3.85"/><circle cx="995.8" cy="242.8" r="3.85"/><circle cx="1006" cy="246.1" r="3.85"/><circle cx="1003.1" cy="254.7" r="3.85"/><circle cx="1001.2" cy="265.3" r="3.85"/><circle cx="994.4" cy="270.1" r="3.85"/><circle cx="998.3" cy="271.1" r="3.85"/><circle cx="1007" cy="274" r="3.85"/><circle cx="1014.7" cy="256.6" r="3.85"/><circle cx="1022.7" cy="253.8" r="3.85"/><circle cx="1021.4" cy="260.5" r="3.85"/><circle cx="1017.5" cy="266.3" r="3.85"/><circle cx="1016.6" cy="272" r="3.85"/><circle cx="1025.2" cy="274.9" r="3.85"/><circle cx="1023.3" cy="276.9" r="3.85"/><circle cx="1042" cy="248.6" r="3.85"/><circle cx="1037.8" cy="270.1" r="3.85"/><circle cx="1043.5" cy="268.2" r="3.85"/><circle cx="1038.7" cy="274" r="3.85"/><circle cx="1054.1" cy="266.3" r="3.85"/><circle cx="1057" cy="273" r="3.85"/><circle cx="1062.8" cy="255.7" r="3.85"/><circle cx="1064.7" cy="261.5" r="3.85"/><circle cx="1062.8" cy="270.1" r="3.85"/><circle cx="1066.6" cy="277.8" r="3.85"/><circle cx="1075.9" cy="245.1" r="3.85"/><circle cx="1085.5" cy="260.1" r="3.85"/><circle cx="1078.2" cy="265.3" r="3.85"/><circle cx="1081.1" cy="270.1" r="3.85"/><circle cx="1096.5" cy="273" r="3.85"/><circle cx="1103.2" cy="276.9" r="3.85"/><circle cx="1087.8" cy="280.7" r="3.85"/><circle cx="1095.5" cy="281.7" r="3.85"/><circle cx="1114.4" cy="259.5" r="3.85"/><circle cx="1120.6" cy="261.5" r="3.85"/><circle cx="1119.6" cy="270.1" r="3.85"/><circle cx="1122.5" cy="274" r="3.85"/><circle cx="1116.7" cy="280.7" r="3.85"/><circle cx="1125.4" cy="279.7" r="3.85"/><circle cx="1155.6" cy="269.2" r="3.85"/><circle cx="1171.6" cy="270.1" r="3.85"/><circle cx="1180.6" cy="253.2" r="3.85"/><circle cx="1159.1" cy="281.7" r="3.85"/><circle cx="1187" cy="282.6" r="3.85"/><circle cx="988.7" cy="293.2" r="3.85"/><circle cx="992.5" cy="289.4" r="3.85"/><circle cx="989.6" cy="297.1" r="3.85"/><circle cx="1007.9" cy="292.3" r="3.85"/><circle cx="1011.8" cy="287.4" r="3.85"/><circle cx="1009.8" cy="300" r="3.85"/><circle cx="1027.2" cy="294.2" r="3.85"/><circle cx="1032" cy="295.2" r="3.85"/><circle cx="1030.1" cy="300.9" r="3.85"/><circle cx="1034.9" cy="288.4" r="3.85"/><circle cx="1046.4" cy="289.4" r="3.85"/><circle cx="1052.2" cy="293.2" r="3.85"/><circle cx="1050.3" cy="302.9" r="3.85"/><circle cx="1067.6" cy="286.5" r="3.85"/><circle cx="1070.5" cy="295.2" r="3.85"/><circle cx="1074.3" cy="289.4" r="3.85"/><circle cx="1068.6" cy="298" r="3.85"/><circle cx="1087.8" cy="290.3" r="3.85"/><circle cx="1091.7" cy="297.1" r="3.85"/><circle cx="1099.4" cy="287.4" r="3.85"/><circle cx="1105.2" cy="293.2" r="3.85"/><circle cx="1112.9" cy="297.1" r="3.85"/><circle cx="986.7" cy="296.1" r="3.85"/><circle cx="985.8" cy="291.3" r="3.85"/><circle cx="1013.7" cy="285.5" r="3.85"/><circle cx="1026.2" cy="297.1" r="3.85"/><circle cx="1033.9" cy="293.2" r="3.85"/><circle cx="1048.4" cy="290.3" r="3.85"/><circle cx="1072.4" cy="293.2" r="3.85"/><circle cx="1089.7" cy="293.2" r="3.85"/><circle cx="1095.5" cy="285.5" r="3.85"/><circle cx="1102.3" cy="290.3" r="3.85"/><circle cx="1109" cy="296.1" r="3.85"/><circle cx="1115.7" cy="297.1" r="3.85"/><circle cx="1127.3" cy="290.3" r="3.85"/><circle cx="1128.9" cy="294.5" r="3.85"/><circle cx="1130.2" cy="297.1" r="3.85"/><circle cx="1132.1" cy="300.9" r="3.85"/><circle cx="1133.3" cy="304.3" r="3.85"/><circle cx="1134.4" cy="295.1" r="3.85"/><circle cx="1136.5" cy="297.6" r="3.85"/><circle cx="1137.9" cy="293.2" r="3.85"/><circle cx="1138.8" cy="292.7" r="3.85"/><circle cx="1141.2" cy="297.6" r="3.85"/><circle cx="1142.1" cy="294.8" r="3.85"/><circle cx="1143.7" cy="295.2" r="3.85"/><circle cx="1145.3" cy="293.7" r="3.85"/><circle cx="1147.5" cy="290.3" r="3.85"/><circle cx="1149.1" cy="288.3" r="3.85"/><circle cx="1151.4" cy="296.1" r="3.85"/><circle cx="1152.3" cy="294.6" r="3.85"/><circle cx="1153.9" cy="295.4" r="3.85"/><circle cx="1156.1" cy="293.5" r="3.85"/><circle cx="1157.1" cy="289.4" r="3.85"/><circle cx="1158.8" cy="294.1" r="3.85"/><circle cx="1160.1" cy="295.3" r="3.85"/><circle cx="1161.6" cy="297.1" r="3.85"/><circle cx="1162.9" cy="297.1" r="3.85"/><circle cx="1164.2" cy="296.1" r="3.85"/><circle cx="1165.8" cy="300.4" r="3.85"/><circle cx="1167.7" cy="299" r="3.85"/><circle cx="1169.5" cy="296.5" r="3.85"/><circle cx="1170.6" cy="296.3" r="3.85"/><circle cx="1172.5" cy="297.1" r="3.85"/><circle cx="1174.7" cy="293.9" r="3.85"/><circle cx="1176.4" cy="291.3" r="3.85"/><circle cx="1177.8" cy="290.4" r="3.85"/><circle cx="1179.2" cy="296.6" r="3.85"/><circle cx="1180.5" cy="292.6" r="3.85"/><circle cx="1182.2" cy="294.2" r="3.85"/><circle cx="1184.2" cy="295.4" r="3.85"/><circle cx="1184.9" cy="295.7" r="3.85"/><circle cx="1186.4" cy="293.8" r="3.85"/><circle cx="1187.6" cy="289.5" r="3.85"/><circle cx="1189.9" cy="291.3" r="3.85"/><circle cx="1192.1" cy="287" r="3.85"/><circle cx="1193.7" cy="285.5" r="3.85"/><circle cx="1195.4" cy="282.8" r="3.85"/><circle cx="1197.6" cy="279.7" r="3.85"/><circle cx="1199.5" cy="276.7" r="3.85"/><circle cx="1201.4" cy="275.9" r="3.85"/><circle cx="1202.8" cy="279.9" r="3.85"/><circle cx="1205.1" cy="276.1" r="3.85"/><circle cx="1206.2" cy="274.9" r="3.85"/><circle cx="1207.2" cy="261.5" r="3.85"/><circle cx="1209.1" cy="227.4" r="3.85"/><circle cx="1211" cy="190.8" r="3.85"/><circle cx="1037.8" cy="167.3" r="3.85"/><circle cx="1183.1" cy="151.5" r="3.85"/><circle cx="1212" cy="131.7" r="3.85"/><circle cx="1215.9" cy="109.5" r="3.85"/><circle cx="1213.9" cy="99.9" r="3.85"/><circle cx="1216.8" cy="83.5" r="3.85"/><circle cx="1220.7" cy="78.7" r="3.85"/><circle cx="1224.5" cy="79.7" r="3.85"/><circle cx="1228.4" cy="77.8" r="3.85"/><circle cx="1230.3" cy="93.2" r="3.85"/><circle cx="1223.6" cy="87.4" r="3.85"/><circle cx="1218.7" cy="85.5" r="3.85"/><circle cx="1226.5" cy="83.5" r="3.85"/><circle cx="1223.9" cy="77.8" r="3.85"/><circle cx="1224.9" cy="80.7" r="3.85"/><circle cx="1226.7" cy="86.4" r="3.85"/><circle cx="1228.7" cy="88.4" r="3.85"/><circle cx="1229.6" cy="93.2" r="3.85"/><circle cx="1227.7" cy="83.5" r="3.85"/><circle cx="1229.4" cy="79.7" r="3.85"/><circle cx="1231" cy="76.2" r="3.85"/><circle cx="1232.6" cy="76.5" r="3.85"/><circle cx="1234" cy="70.8" r="3.85"/><circle cx="1235.8" cy="65.9" r="3.85"/><circle cx="1237.3" cy="65.2" r="3.85"/><circle cx="1239.8" cy="65.7" r="3.85"/><circle cx="1241.2" cy="71" r="3.85"/><circle cx="1242.5" cy="69.7" r="3.85"/><circle cx="1244.5" cy="70.6" r="3.85"/><circle cx="1245.4" cy="75.2" r="3.85"/><circle cx="1247" cy="72" r="3.85"/><circle cx="1248.4" cy="70.3" r="3.85"/><circle cx="1249.8" cy="71.9" r="3.85"/><circle cx="1251.1" cy="70.9" r="3.85"/><circle cx="1252.7" cy="71" r="3.85"/><circle cx="1254.3" cy="73.3" r="3.85"/><circle cx="1256.2" cy="74.5" r="3.85"/><circle cx="1257.5" cy="73.9" r="3.85"/><circle cx="1259.4" cy="78.3" r="3.85"/><circle cx="1261.4" cy="79.7" r="3.85"/><circle cx="1262" cy="93.5" r="3.85"/><circle cx="1264.3" cy="102.8" r="3.85"/><circle cx="1265.7" cy="108.8" r="3.85"/><circle cx="1267.2" cy="110.5" r="3.85"/><circle cx="1268.7" cy="109.3" r="3.85"/><circle cx="1270.1" cy="109.5" r="3.85"/><circle cx="1272" cy="100.9" r="3.85"/><circle cx="1272" cy="82.6" r="3.85"/><circle cx="1274.3" cy="77.4" r="3.85"/><circle cx="1275.8" cy="77.8" r="3.85"/><circle cx="1277.5" cy="75.4" r="3.85"/><circle cx="1279.7" cy="75.8" r="3.85"/><circle cx="1281.1" cy="83.7" r="3.85"/><circle cx="1282.6" cy="96.1" r="3.85"/><circle cx="1284.1" cy="93.1" r="3.85"/><circle cx="1286.4" cy="97" r="3.85"/><circle cx="1284.5" cy="108.2" r="3.85"/><circle cx="1286.5" cy="115.7" r="3.85"/><circle cx="1288.4" cy="125.9" r="3.85"/><circle cx="1290.3" cy="130.7" r="3.85"/><circle cx="1290.9" cy="132.6" r="3.85"/><circle cx="1292.2" cy="122" r="3.85"/><circle cx="1293.3" cy="120.6" r="3.85"/><circle cx="1295.1" cy="114.3" r="3.85"/><circle cx="1297" cy="105.7" r="3.85"/><circle cx="1298.5" cy="104.3" r="3.85"/><circle cx="1299.9" cy="98.9" r="3.85"/><circle cx="1301" cy="96.7" r="3.85"/><circle cx="1302.8" cy="90.3" r="3.85"/><circle cx="1305.1" cy="88.6" r="3.85"/><circle cx="1306.6" cy="88.4" r="3.85"/><circle cx="1308" cy="86.7" r="3.85"/><circle cx="1309.9" cy="90.4" r="3.85"/><circle cx="1311.5" cy="85.5" r="3.85"/><circle cx="1313.6" cy="87.2" r="3.85"/><circle cx="1314.6" cy="83" r="3.85"/><circle cx="1316.3" cy="82.6" r="3.85"/><circle cx="1317.8" cy="83.5" r="3.85"/><circle cx="1319.2" cy="85.5" r="3.85"/><circle cx="1320.9" cy="91.4" r="3.85"/><circle cx="1323" cy="98" r="3.85"/><circle cx="1324.7" cy="94.5" r="3.85"/><circle cx="1325.9" cy="91.2" r="3.85"/><circle cx="1327.8" cy="79.3" r="3.85"/><circle cx="1328.8" cy="66.2" r="3.85"/><circle cx="1330.3" cy="62.9" r="3.85"/><circle cx="1331.7" cy="60.4" r="3.85"/><circle cx="1332.6" cy="50.8" r="3.85"/><circle cx="1334" cy="49.3" r="3.85"/><circle cx="1335.5" cy="48.9" r="3.85"/><circle cx="1337.5" cy="50.9" r="3.85"/><circle cx="1339.2" cy="51.8" r="3.85"/><circle cx="1340.3" cy="53.7" r="3.85"/><circle cx="1342.3" cy="52.2" r="3.85"/><circle cx="1343.4" cy="55.5" r="3.85"/><circle cx="1345.2" cy="56.6" r="3.85"/><circle cx="1347.1" cy="66.2" r="3.85"/><circle cx="1348.8" cy="60.7" r="3.85"/><circle cx="1350.9" cy="55.6" r="3.85"/><circle cx="1352.6" cy="48.3" r="3.85"/><circle cx="1354.8" cy="41.6" r="3.85"/><circle cx="1356.7" cy="52.7" r="3.85"/><circle cx="1358.6" cy="63.3" r="3.85"/><circle cx="1360.4" cy="60.4" r="3.85"/><circle cx="1362.5" cy="57.5" r="3.85"/><circle cx="1363.8" cy="57.2" r="3.85"/><circle cx="1365.4" cy="60.4" r="3.85"/><circle cx="1363.8" cy="69.2" r="3.85"/><circle cx="1362.5" cy="77.8" r="3.85"/><circle cx="1364" cy="79.9" r="3.85"/><circle cx="1366.3" cy="81.6" r="3.85"/><circle cx="1368.2" cy="82.7" r="3.85"/><circle cx="1369.2" cy="84.5" r="3.85"/><circle cx="1371" cy="84" r="3.85"/><circle cx="1372.2" cy="83.7" r="3.85"/><circle cx="1374" cy="79.7" r="3.85"/><circle cx="1376.7" cy="76.9" r="3.85"/><circle cx="1377.9" cy="77.8" r="3.85"/><circle cx="1379.8" cy="86.4" r="3.85"/><circle cx="1382.4" cy="80.8" r="3.85"/><circle cx="1383.7" cy="77.8" r="3.85"/><circle cx="1385.5" cy="79.8" r="3.85"/><circle cx="1386.5" cy="88.4" r="3.85"/><circle cx="1386.5" cy="98.9" r="3.85"/><circle cx="1388.3" cy="101.6" r="3.85"/><circle cx="1389.4" cy="103.8" r="3.85"/><circle cx="1390.5" cy="102.5" r="3.85"/><circle cx="1392" cy="102.6" r="3.85"/><circle cx="1393.9" cy="104.2" r="3.85"/><circle cx="1395.2" cy="104.7" r="3.85"/><circle cx="1390.4" cy="65.2" r="3.85"/><circle cx="1396.8" cy="62" r="3.85"/><circle cx="1393.3" cy="76.8" r="3.85"/><circle cx="1394.2" cy="88.4" r="3.85"/><circle cx="1398.1" cy="88.4" r="3.85"/><circle cx="1411" cy="85.5" r="3.85"/><circle cx="1419.3" cy="86.4" r="3.85"/><circle cx="1420.2" cy="110.1" r="3.85"/><circle cx="1416.4" cy="116.3" r="3.85"/><circle cx="1424.1" cy="121.1" r="3.85"/><circle cx="1412.5" cy="120.1" r="3.85"/><circle cx="1407.7" cy="124" r="3.85"/><circle cx="1418.3" cy="125.9" r="3.85"/><circle cx="1414.5" cy="129.7" r="3.85"/><circle cx="1409.7" cy="128.8" r="3.85"/><circle cx="1401.9" cy="131.7" r="3.85"/><circle cx="1399.1" cy="138.4" r="3.85"/><circle cx="1405.8" cy="140.3" r="3.85"/><circle cx="1404.8" cy="147.1" r="3.85"/><circle cx="1401.9" cy="151.9" r="3.85"/><circle cx="1426" cy="145.2" r="3.85"/><circle cx="1438.1" cy="137.8" r="3.85"/><circle cx="1451" cy="138.4" r="3.85"/><circle cx="1459.1" cy="146.5" r="3.85"/><circle cx="1477" cy="143.6" r="3.85"/><circle cx="1453.9" cy="100.9" r="3.85"/><circle cx="1457.8" cy="99.9" r="3.85"/><circle cx="1452" cy="105.7" r="3.85"/><circle cx="1455.9" cy="108.6" r="3.85"/><circle cx="1454.9" cy="103.8" r="3.85"/><circle cx="1471.8" cy="112.8" r="3.85"/><circle cx="1470.3" cy="125.5" r="3.85"/><circle cx="1495.3" cy="119.2" r="3.85"/><circle cx="1510.3" cy="112.8" r="3.85"/><circle cx="1512.3" cy="102.8" r="3.85"/><circle cx="1531.5" cy="104.1" r="3.85"/><circle cx="1532.9" cy="128.8" r="3.85"/><circle cx="1478" cy="153.8" r="3.85"/><circle cx="1479.9" cy="158.6" r="3.85"/><circle cx="1485.7" cy="160.6" r="3.85"/><circle cx="1491.5" cy="156.7" r="3.85"/><circle cx="1495.3" cy="162.5" r="3.85"/><circle cx="1500.1" cy="160.6" r="3.85"/><circle cx="1476.1" cy="164.4" r="3.85"/><circle cx="1422.2" cy="118.2" r="3.85"/><circle cx="1420.2" cy="123" r="3.85"/><circle cx="1415.4" cy="122" r="3.85"/><circle cx="1410.6" cy="125.9" r="3.85"/><circle cx="1431.8" cy="201.5" r="3.85"/><circle cx="1437.6" cy="199.5" r="3.85"/><circle cx="1441.4" cy="196.6" r="3.85"/><circle cx="1445.3" cy="194.7" r="3.85"/><circle cx="1449.1" cy="196.6" r="3.85"/><circle cx="1428.9" cy="212" r="3.85"/><circle cx="1435.3" cy="216.3" r="3.85"/><circle cx="1437.6" cy="185.1" r="3.85"/><circle cx="1446.2" cy="187" r="3.85"/><circle cx="1439.5" cy="198.6" r="3.85"/><circle cx="1443.3" cy="197.6" r="3.85"/><circle cx="1476.1" cy="163.9" r="3.85"/><circle cx="1481.9" cy="161" r="3.85"/><circle cx="1489.6" cy="157.2" r="3.85"/><circle cx="1491.5" cy="162" r="3.85"/><circle cx="1497.3" cy="161" r="3.85"/><circle cx="1500.1" cy="162" r="3.85"/><circle cx="1506.9" cy="177.4" r="3.85"/><circle cx="1512.7" cy="181.2" r="3.85"/><circle cx="1518.4" cy="188.9" r="3.85"/><circle cx="1514.6" cy="197.6" r="3.85"/><circle cx="1516.5" cy="204" r="3.85"/><circle cx="1522.3" cy="177.4" r="3.85"/><circle cx="1454.3" cy="100.5" r="3.85"/><circle cx="1457.4" cy="103.5" r="3.85"/><circle cx="1452.3" cy="106.6" r="3.85"/><circle cx="1472.1" cy="112.1" r="3.85"/><circle cx="1512" cy="102.1" r="3.85"/><circle cx="1531" cy="103.5" r="3.85"/><circle cx="1550.5" cy="128.7" r="3.85"/><circle cx="1588.9" cy="131.1" r="3.85"/><circle cx="1590.3" cy="145" r="3.85"/><circle cx="1570.5" cy="145" r="3.85"/><circle cx="1451.2" cy="139.3" r="3.85"/><circle cx="1459.4" cy="145.9" r="3.85"/><circle cx="1441" cy="138.3" r="3.85"/><circle cx="1466.6" cy="160.8" r="3.85"/><circle cx="1478.9" cy="154.7" r="3.85"/><circle cx="1484" cy="159.8" r="3.85"/><circle cx="1491.1" cy="157.7" r="3.85"/><circle cx="1501.4" cy="163.9" r="3.85"/><circle cx="1473.8" cy="163.9" r="3.85"/><circle cx="1505.5" cy="179.2" r="3.85"/><circle cx="1512.6" cy="184.3" r="3.85"/><circle cx="1518.8" cy="190.5" r="3.85"/><circle cx="1516.7" cy="203.8" r="3.85"/><circle cx="1522.8" cy="178.2" r="3.85"/><circle cx="1529" cy="154.7" r="3.85"/><circle cx="1536.1" cy="159.8" r="3.85"/><circle cx="1530" cy="165.9" r="3.85"/><circle cx="1540.2" cy="181.2" r="3.85"/><circle cx="1543.3" cy="187.4" r="3.85"/><circle cx="1550.5" cy="186.4" r="3.85"/><circle cx="1553.5" cy="193.5" r="3.85"/><circle cx="1555.6" cy="197.6" r="3.85"/><circle cx="1559.7" cy="190.5" r="3.85"/><circle cx="1560.7" cy="185.3" r="3.85"/><circle cx="1563.8" cy="179.2" r="3.85"/><circle cx="1577" cy="182.3" r="3.85"/><circle cx="1579.1" cy="189.4" r="3.85"/><circle cx="1583.2" cy="185.3" r="3.85"/><circle cx="1587.3" cy="182.3" r="3.85"/><circle cx="1592.4" cy="184.3" r="3.85"/><circle cx="1446.1" cy="186.4" r="3.85"/><circle cx="1449.2" cy="197.6" r="3.85"/><circle cx="1443.1" cy="200.7" r="3.85"/><circle cx="1488.1" cy="161.8" r="3.85"/><circle cx="1494.2" cy="158.8" r="3.85"/><circle cx="1546.4" cy="190.5" r="3.85"/><circle cx="1581.1" cy="180.2" r="3.85"/><circle cx="1585.2" cy="188.4" r="3.85"/></g>
<g fill="none" stroke="#99bbee" stroke-width="1.3"><circle cx="1428.9" cy="162" r="4.6"/><circle cx="1433.7" cy="163.9" r="4.6"/><circle cx="1449.1" cy="153.3" r="4.6"/><circle cx="1464.5" cy="159.1" r="4.6"/><circle cx="1465.5" cy="156.2" r="4.6"/><circle cx="1479.9" cy="178.4" r="4.6"/><circle cx="1449.2" cy="153.6" r="4.6"/><circle cx="1464.5" cy="157.7" r="4.6"/><circle cx="1480.9" cy="179.2" r="4.6"/><circle cx="1567.8" cy="157.7" r="4.6"/><circle cx="1573" cy="155.7" r="4.6"/><circle cx="1576" cy="163.9" r="4.6"/><circle cx="1596.5" cy="193.5" r="4.6"/><circle cx="1562.7" cy="180.2" r="4.6"/><circle cx="1523.9" cy="176.1" r="4.6"/></g>
<g fill="none" stroke="#ccff00" stroke-width="1.6"><rect x="985.1" y="166.6" width="5.3" height="5.3"/><rect x="986.7" y="164.5" width="5.3" height="5.3"/><rect x="988.1" y="166" width="5.3" height="5.3"/><rect x="989.7" y="165.5" width="5.3" height="5.3"/><rect x="990.8" y="165.6" width="5.3" height="5.3"/><rect x="992.4" y="163.4" width="5.3" height="5.3"/><rect x="994.1" y="162.9" width="5.3" height="5.3"/><rect x="995.6" y="161.8" width="5.3" height="5.3"/><rect x="997.1" y="161.7" width="5.3" height="5.3"/><rect x="998.6" y="163.1" width="5.3" height="5.3"/><rect x="1000.5" y="162.7" width="5.3" height="5.3"/><rect x="1002.1" y="161.9" width="5.3" height="5.3"/><rect x="1004.3" y="164.6" width="5.3" height="5.3"/><rect x="1006.2" y="155" width="5.3" height="5.3"/><rect x="1007.9" y="153.9" width="5.3" height="5.3"/><rect x="1010.1" y="150.2" width="5.3" height="5.3"/><rect x="1012.4" y="160.8" width="5.3" height="5.3"/><rect x="1013.5" y="155.8" width="5.3" height="5.3"/><rect x="1014.9" y="149.2" width="5.3" height="5.3"/><rect x="1016.8" y="154.1" width="5.3" height="5.3"/><rect x="1017.8" y="141.5" width="5.3" height="5.3"/><rect x="1019.4" y="138.5" width="5.3" height="5.3"/><rect x="1020.7" y="136.7" width="5.3" height="5.3"/><rect x="1022.6" y="120.4" width="5.3" height="5.3"/><rect x="1024.3" y="117.3" width="5.3" height="5.3"/><rect x="1025.5" y="113" width="5.3" height="5.3"/><rect x="1024.5" y="126.1" width="5.3" height="5.3"/><rect x="1026.1" y="125.3" width="5.3" height="5.3"/><rect x="1027.8" y="126.1" width="5.3" height="5.3"/><rect x="1029.7" y="135.8" width="5.3" height="5.3"/><rect x="1031.8" y="146.4" width="5.3" height="5.3"/><rect x="1033.6" y="151.2" width="5.3" height="5.3"/><rect x="1035.3" y="151.9" width="5.3" height="5.3"/><rect x="1037" y="155.6" width="5.3" height="5.3"/><rect x="1035.1" y="167.5" width="5.3" height="5.3"/><rect x="1036.5" y="167.1" width="5.3" height="5.3"/><rect x="1038.1" y="168.4" width="5.3" height="5.3"/><rect x="1039.3" y="169.3" width="5.3" height="5.3"/><rect x="1040.9" y="168.5" width="5.3" height="5.3"/><rect x="1043" y="165.6" width="5.3" height="5.3"/><rect x="1044.3" y="163.1" width="5.3" height="5.3"/><rect x="1046.3" y="159.4" width="5.3" height="5.3"/><rect x="1047.2" y="161.4" width="5.3" height="5.3"/><rect x="1049.6" y="164.6" width="5.3" height="5.3"/><rect x="1051.3" y="168" width="5.3" height="5.3"/><rect x="1052.5" y="168.4" width="5.3" height="5.3"/><rect x="1054.4" y="167.5" width="5.3" height="5.3"/><rect x="1057" y="170.7" width="5.3" height="5.3"/><rect x="1058.2" y="169.5" width="5.3" height="5.3"/><rect x="1059.4" y="168.6" width="5.3" height="5.3"/><rect x="1062.1" y="165.2" width="5.3" height="5.3"/><rect x="1063.6" y="158.9" width="5.3" height="5.3"/><rect x="1065" y="150.2" width="5.3" height="5.3"/><rect x="1066.9" y="154.4" width="5.3" height="5.3"/><rect x="1068.8" y="147.3" width="5.3" height="5.3"/><rect x="1070.7" y="166.6" width="5.3" height="5.3"/><rect x="1072.1" y="161.4" width="5.3" height="5.3"/><rect x="1073.6" y="159.5" width="5.3" height="5.3"/><rect x="1075.3" y="152.9" width="5.3" height="5.3"/><rect x="1076.5" y="148.9" width="5.3" height="5.3"/><rect x="1077.5" y="161.8" width="5.3" height="5.3"/><rect x="1075.5" y="169.5" width="5.3" height="5.3"/><rect x="1077.6" y="170.5" width="5.3" height="5.3"/><rect x="1079.4" y="169.5" width="5.3" height="5.3"/><rect x="1081.3" y="156" width="5.3" height="5.3"/><rect x="1083.4" y="155" width="5.3" height="5.3"/><rect x="1085.2" y="154.1" width="5.3" height="5.3"/><rect x="1086.9" y="153.7" width="5.3" height="5.3"/><rect x="1089" y="155" width="5.3" height="5.3"/><rect x="1090.8" y="152" width="5.3" height="5.3"/><rect x="1092.9" y="150.2" width="5.3" height="5.3"/><rect x="1093.9" y="146.1" width="5.3" height="5.3"/><rect x="1095.8" y="145.4" width="5.3" height="5.3"/><rect x="1097.7" y="140.2" width="5.3" height="5.3"/><rect x="1099.4" y="141" width="5.3" height="5.3"/><rect x="1100.6" y="144.4" width="5.3" height="5.3"/><rect x="1102.5" y="150.2" width="5.3" height="5.3"/><rect x="1104.4" y="154.1" width="5.3" height="5.3"/><rect x="1105.4" y="161.8" width="5.3" height="5.3"/><rect x="1107.3" y="166.6" width="5.3" height="5.3"/><rect x="1108.4" y="163.2" width="5.3" height="5.3"/><rect x="1110.2" y="159.8" width="5.3" height="5.3"/><rect x="1112.1" y="159.9" width="5.3" height="5.3"/><rect x="1113.1" y="156.9" width="5.3" height="5.3"/><rect x="1115" y="146.4" width="5.3" height="5.3"/><rect x="1116.3" y="146.1" width="5.3" height="5.3"/><rect x="1117.9" y="148.3" width="5.3" height="5.3"/><rect x="1119.8" y="139.6" width="5.3" height="5.3"/><rect x="1121.8" y="135.2" width="5.3" height="5.3"/><rect x="1123.7" y="146.4" width="5.3" height="5.3"/><rect x="1125.6" y="154.1" width="5.3" height="5.3"/><rect x="1127.4" y="154.4" width="5.3" height="5.3"/><rect x="1129.5" y="156.9" width="5.3" height="5.3"/><rect x="1131.4" y="162.7" width="5.3" height="5.3"/><rect x="1132.7" y="157.5" width="5.3" height="5.3"/><rect x="1134.3" y="151.2" width="5.3" height="5.3"/><rect x="1135.4" y="150.7" width="5.3" height="5.3"/><rect x="1137.2" y="152.1" width="5.3" height="5.3"/><rect x="1139" y="151.1" width="5.3" height="5.3"/><rect x="1141" y="150.2" width="5.3" height="5.3"/><rect x="1142.9" y="156" width="5.3" height="5.3"/><rect x="1144.6" y="149.3" width="5.3" height="5.3"/><rect x="1146.8" y="144.4" width="5.3" height="5.3"/><rect x="1148.7" y="146.4" width="5.3" height="5.3"/><rect x="1150.6" y="142.5" width="5.3" height="5.3"/><rect x="1151.6" y="150.2" width="5.3" height="5.3"/><rect x="1153.5" y="157.9" width="5.3" height="5.3"/><rect x="1155.1" y="158.9" width="5.3" height="5.3"/><rect x="1157.4" y="161.8" width="5.3" height="5.3"/><rect x="1159" y="160.5" width="5.3" height="5.3"/><rect x="1160.3" y="159.8" width="5.3" height="5.3"/><rect x="1161.3" y="158.6" width="5.3" height="5.3"/><rect x="1164.1" y="156" width="5.3" height="5.3"/><rect x="1165.5" y="156.9" width="5.3" height="5.3"/><rect x="1167" y="159.8" width="5.3" height="5.3"/><rect x="1168.4" y="157.7" width="5.3" height="5.3"/><rect x="1169.9" y="160.8" width="5.3" height="5.3"/><rect x="1171.8" y="152.1" width="5.3" height="5.3"/><rect x="1172.8" y="152.1" width="5.3" height="5.3"/><rect x="1174.7" y="149.2" width="5.3" height="5.3"/><rect x="1175.7" y="139.6" width="5.3" height="5.3"/><rect x="1177.7" y="147.5" width="5.3" height="5.3"/><rect x="1178.6" y="150.2" width="5.3" height="5.3"/><rect x="1179.5" y="130.6" width="5.3" height="5.3"/><rect x="1180.7" y="132.7" width="5.3" height="5.3"/><rect x="1182.4" y="134.8" width="5.3" height="5.3"/><rect x="1184.3" y="136.7" width="5.3" height="5.3"/><rect x="1186.5" y="135.7" width="5.3" height="5.3"/><rect x="1188.2" y="137.7" width="5.3" height="5.3"/><rect x="1189.1" y="130.9" width="5.3" height="5.3"/><rect x="1191.1" y="125.2" width="5.3" height="5.3"/><rect x="1193.5" y="123.3" width="5.3" height="5.3"/><rect x="1194.9" y="123.2" width="5.3" height="5.3"/><rect x="1196.5" y="119" width="5.3" height="5.3"/><rect x="1197.8" y="117.5" width="5.3" height="5.3"/><rect x="1181.4" y="172.3" width="5.3" height="5.3"/><rect x="1198.8" y="87.6" width="5.3" height="5.3"/><rect x="1200.7" y="84.7" width="5.3" height="5.3"/><rect x="1203.6" y="77" width="5.3" height="5.3"/><rect x="1205.1" y="73.8" width="5.3" height="5.3"/><rect x="1206.9" y="94" width="5.3" height="5.3"/><rect x="1208.8" y="133.5" width="5.3" height="5.3"/><rect x="1210.3" y="212" width="5.3" height="5.3"/><rect x="1211.9" y="256.3" width="5.3" height="5.3"/><rect x="1213.8" y="264.2" width="5.3" height="5.3"/><rect x="1218" y="280" width="5.3" height="5.3"/><rect x="1216.5" y="294.4" width="5.3" height="5.3"/><rect x="1215.1" y="314.6" width="5.3" height="5.3"/><rect x="1219.9" y="245.3" width="5.3" height="5.3"/><rect x="1221.9" y="231.9" width="5.3" height="5.3"/><rect x="1223.8" y="229.9" width="5.3" height="5.3"/><rect x="1222.8" y="232.8" width="5.3" height="5.3"/><rect x="1224.8" y="230.9" width="5.3" height="5.3"/><rect x="1226.1" y="215.5" width="5.3" height="5.3"/><rect x="1228.6" y="198.2" width="5.3" height="5.3"/><rect x="1231.5" y="201" width="5.3" height="5.3"/><rect x="1232.5" y="193.3" width="5.3" height="5.3"/><rect x="1227.7" y="199.1" width="5.3" height="5.3"/><rect x="1234.3" y="184.4" width="5.3" height="5.3"/><rect x="1235.6" y="180.1" width="5.3" height="5.3"/><rect x="1237.2" y="179.3" width="5.3" height="5.3"/><rect x="1238.5" y="178.6" width="5.3" height="5.3"/><rect x="1240.3" y="175" width="5.3" height="5.3"/><rect x="1241.4" y="173.8" width="5.3" height="5.3"/><rect x="1243" y="174.9" width="5.3" height="5.3"/><rect x="1244.3" y="172.8" width="5.3" height="5.3"/><rect x="1246.2" y="171.9" width="5.3" height="5.3"/><rect x="1247.8" y="170.9" width="5.3" height="5.3"/><rect x="1249" y="172.3" width="5.3" height="5.3"/><rect x="1250.9" y="171" width="5.3" height="5.3"/><rect x="1252" y="169.9" width="5.3" height="5.3"/><rect x="1253.5" y="168.7" width="5.3" height="5.3"/><rect x="1254.9" y="171.4" width="5.3" height="5.3"/><rect x="1256.7" y="168.1" width="5.3" height="5.3"/><rect x="1257.8" y="169.3" width="5.3" height="5.3"/><rect x="1258.6" y="168.8" width="5.3" height="5.3"/><rect x="1260.7" y="169.1" width="5.3" height="5.3"/><rect x="1262" y="170.1" width="5.3" height="5.3"/><rect x="1263.6" y="169.9" width="5.3" height="5.3"/><rect x="1265.3" y="170.9" width="5.3" height="5.3"/><rect x="1266.8" y="169.9" width="5.3" height="5.3"/><rect x="1268" y="172.5" width="5.3" height="5.3"/><rect x="1269.3" y="172.8" width="5.3" height="5.3"/><rect x="1270.8" y="176.5" width="5.3" height="5.3"/><rect x="1273.2" y="177.6" width="5.3" height="5.3"/><rect x="1274.6" y="174.7" width="5.3" height="5.3"/><rect x="1277" y="174.7" width="5.3" height="5.3"/><rect x="1279.3" y="175.8" width="5.3" height="5.3"/><rect x="1280" y="175.6" width="5.3" height="5.3"/><rect x="1281.7" y="172.9" width="5.3" height="5.3"/><rect x="1282.8" y="173.8" width="5.3" height="5.3"/><rect x="1284.7" y="179.6" width="5.3" height="5.3"/><rect x="1286.8" y="176.6" width="5.3" height="5.3"/><rect x="1288.6" y="170.9" width="5.3" height="5.3"/><rect x="1290" y="171.7" width="5.3" height="5.3"/><rect x="1291.3" y="173.1" width="5.3" height="5.3"/><rect x="1292.8" y="172.5" width="5.3" height="5.3"/><rect x="1294.4" y="173.8" width="5.3" height="5.3"/><rect x="1295.4" y="172.6" width="5.3" height="5.3"/><rect x="1297.3" y="173.8" width="5.3" height="5.3"/><rect x="1298.6" y="172" width="5.3" height="5.3"/><rect x="1300.1" y="172.8" width="5.3" height="5.3"/><rect x="1301.7" y="175.6" width="5.3" height="5.3"/><rect x="1303" y="177.6" width="5.3" height="5.3"/><rect x="1304.9" y="178.4" width="5.3" height="5.3"/><rect x="1305.9" y="180.7" width="5.3" height="5.3"/><rect x="1307.5" y="181.5" width="5.3" height="5.3"/><rect x="1309.6" y="177.1" width="5.3" height="5.3"/><rect x="1310.7" y="172.8" width="5.3" height="5.3"/><rect x="1312.3" y="172.8" width="5.3" height="5.3"/><rect x="1313.8" y="175.7" width="5.3" height="5.3"/><rect x="1315.5" y="175.7" width="5.3" height="5.3"/><rect x="1317.7" y="178.3" width="5.3" height="5.3"/><rect x="1319.4" y="178.6" width="5.3" height="5.3"/><rect x="1320.5" y="180.4" width="5.3" height="5.3"/><rect x="1322.3" y="181.1" width="5.3" height="5.3"/><rect x="1324.2" y="181.5" width="5.3" height="5.3"/><rect x="1324.9" y="183.8" width="5.3" height="5.3"/><rect x="1327.1" y="186.3" width="5.3" height="5.3"/><rect x="1328.8" y="187.6" width="5.3" height="5.3"/><rect x="1330.9" y="186.3" width="5.3" height="5.3"/><rect x="1332.4" y="185.2" width="5.3" height="5.3"/><rect x="1333.8" y="181.5" width="5.3" height="5.3"/><rect x="1335.1" y="182" width="5.3" height="5.3"/><rect x="1336.7" y="178.6" width="5.3" height="5.3"/><rect x="1338.5" y="179.1" width="5.3" height="5.3"/><rect x="1340.6" y="175.7" width="5.3" height="5.3"/><rect x="1341.9" y="174" width="5.3" height="5.3"/><rect x="1343.7" y="173.9" width="5.3" height="5.3"/><rect x="1344.9" y="172.2" width="5.3" height="5.3"/><rect x="1346.4" y="172.8" width="5.3" height="5.3"/><rect x="1347.7" y="172.7" width="5.3" height="5.3"/><rect x="1349" y="172.7" width="5.3" height="5.3"/><rect x="1350" y="173" width="5.3" height="5.3"/><rect x="1352.1" y="171.9" width="5.3" height="5.3"/><rect x="1353.4" y="173.3" width="5.3" height="5.3"/><rect x="1354.9" y="171.2" width="5.3" height="5.3"/><rect x="1356.3" y="172.1" width="5.3" height="5.3"/><rect x="1357.9" y="171.9" width="5.3" height="5.3"/><rect x="1359.5" y="170.9" width="5.3" height="5.3"/><rect x="1360.6" y="171.3" width="5.3" height="5.3"/><rect x="1362.5" y="168.6" width="5.3" height="5.3"/><rect x="1363.7" y="169.9" width="5.3" height="5.3"/><rect x="1364.8" y="170" width="5.3" height="5.3"/><rect x="1367.1" y="172.6" width="5.3" height="5.3"/><rect x="1368.3" y="172.6" width="5.3" height="5.3"/><rect x="1369.5" y="172.8" width="5.3" height="5.3"/><rect x="1370.6" y="173.5" width="5.3" height="5.3"/><rect x="1372.2" y="171" width="5.3" height="5.3"/><rect x="1374.4" y="169.9" width="5.3" height="5.3"/><rect x="1375.2" y="170.9" width="5.3" height="5.3"/><rect x="1377.1" y="171.8" width="5.3" height="5.3"/><rect x="1377.8" y="172.5" width="5.3" height="5.3"/><rect x="1379.3" y="173.2" width="5.3" height="5.3"/><rect x="1381" y="173.8" width="5.3" height="5.3"/><rect x="1382.7" y="170.9" width="5.3" height="5.3"/><rect x="1384.9" y="170.5" width="5.3" height="5.3"/><rect x="1387.6" y="172.1" width="5.3" height="5.3"/><rect x="1388.7" y="174.7" width="5.3" height="5.3"/><rect x="1390.5" y="174.5" width="5.3" height="5.3"/><rect x="1391.8" y="173" width="5.3" height="5.3"/><rect x="1392.7" y="171.8" width="5.3" height="5.3"/><rect x="1394.5" y="173.8" width="5.3" height="5.3"/><rect x="1396.2" y="173.4" width="5.3" height="5.3"/><rect x="1397" y="173" width="5.3" height="5.3"/><rect x="1399" y="173.5" width="5.3" height="5.3"/><rect x="1400.3" y="170.5" width="5.3" height="5.3"/><rect x="1401.8" y="171.8" width="5.3" height="5.3"/><rect x="1403.3" y="172" width="5.3" height="5.3"/><rect x="1404.6" y="171.1" width="5.3" height="5.3"/><rect x="1406" y="171.9" width="5.3" height="5.3"/><rect x="1407.7" y="173.1" width="5.3" height="5.3"/><rect x="1408.6" y="170.7" width="5.3" height="5.3"/><rect x="1410.4" y="173.7" width="5.3" height="5.3"/><rect x="1411.8" y="171.9" width="5.3" height="5.3"/><rect x="1413.2" y="169.8" width="5.3" height="5.3"/><rect x="1414.9" y="171.9" width="5.3" height="5.3"/><rect x="1416.7" y="171" width="5.3" height="5.3"/><rect x="1417.6" y="170.5" width="5.3" height="5.3"/><rect x="1420.1" y="173.3" width="5.3" height="5.3"/><rect x="1421.4" y="177.6" width="5.3" height="5.3"/><rect x="1423.4" y="173.8" width="5.3" height="5.3"/><rect x="1425.2" y="165.8" width="5.3" height="5.3"/><rect x="1426.2" y="157.2" width="5.3" height="5.3"/><rect x="1428.2" y="149.3" width="5.3" height="5.3"/><rect x="1430.5" y="148.7" width="5.3" height="5.3"/><rect x="1432" y="145.9" width="5.3" height="5.3"/><rect x="1434" y="158.4" width="5.3" height="5.3"/><rect x="1435.4" y="156.7" width="5.3" height="5.3"/><rect x="1437.4" y="153.8" width="5.3" height="5.3"/><rect x="1438.8" y="150.1" width="5.3" height="5.3"/><rect x="1440.3" y="153.1" width="5.3" height="5.3"/><rect x="1441.7" y="155.5" width="5.3" height="5.3"/><rect x="1442.9" y="156.2" width="5.3" height="5.3"/><rect x="1444.5" y="157" width="5.3" height="5.3"/><rect x="1446" y="164.2" width="5.3" height="5.3"/><rect x="1447.4" y="172.8" width="5.3" height="5.3"/><rect x="1448.8" y="178.8" width="5.3" height="5.3"/><rect x="1450.3" y="184.4" width="5.3" height="5.3"/><rect x="1452.2" y="179.6" width="5.3" height="5.3"/><rect x="1453.8" y="184.5" width="5.3" height="5.3"/><rect x="1455.1" y="187.3" width="5.3" height="5.3"/><rect x="1457.1" y="172.8" width="5.3" height="5.3"/><rect x="1458" y="168" width="5.3" height="5.3"/><rect x="1459.3" y="168.2" width="5.3" height="5.3"/><rect x="1461.3" y="168.9" width="5.3" height="5.3"/><rect x="1462.8" y="169.9" width="5.3" height="5.3"/><rect x="1464.9" y="167.5" width="5.3" height="5.3"/><rect x="1466.7" y="166.1" width="5.3" height="5.3"/><rect x="1468.6" y="177.6" width="5.3" height="5.3"/><rect x="1470.4" y="174" width="5.3" height="5.3"/><rect x="1471.5" y="170.9" width="5.3" height="5.3"/><rect x="1472.6" y="171.2" width="5.3" height="5.3"/><rect x="1474.9" y="168" width="5.3" height="5.3"/><rect x="1475.8" y="169.5" width="5.3" height="5.3"/><rect x="1477.3" y="169" width="5.3" height="5.3"/><rect x="1274.1" y="185.3" width="5.3" height="5.3"/><rect x="1435.9" y="181.1" width="5.3" height="5.3"/><rect x="1468" y="172.5" width="5.3" height="5.3"/><rect x="1471.1" y="176" width="5.3" height="5.3"/><rect x="1472.4" y="169.9" width="5.3" height="5.3"/><rect x="1474.2" y="168.4" width="5.3" height="5.3"/><rect x="1477.4" y="167.9" width="5.3" height="5.3"/><rect x="1478.5" y="169.8" width="5.3" height="5.3"/><rect x="1480.3" y="167.3" width="5.3" height="5.3"/><rect x="1481.5" y="166.1" width="5.3" height="5.3"/><rect x="1483.7" y="168.2" width="5.3" height="5.3"/><rect x="1485.1" y="168.5" width="5.3" height="5.3"/><rect x="1486.4" y="168.4" width="5.3" height="5.3"/><rect x="1488.5" y="170.3" width="5.3" height="5.3"/><rect x="1489.3" y="170.4" width="5.3" height="5.3"/><rect x="1490.7" y="168.2" width="5.3" height="5.3"/><rect x="1492.6" y="170.4" width="5.3" height="5.3"/><rect x="1494.5" y="169.2" width="5.3" height="5.3"/><rect x="1495" y="168.9" width="5.3" height="5.3"/><rect x="1497" y="168.6" width="5.3" height="5.3"/><rect x="1498.7" y="167.3" width="5.3" height="5.3"/><rect x="1500.2" y="166.3" width="5.3" height="5.3"/><rect x="1501.6" y="167.6" width="5.3" height="5.3"/><rect x="1503" y="166.7" width="5.3" height="5.3"/><rect x="1504.8" y="166.3" width="5.3" height="5.3"/><rect x="1505.9" y="170.5" width="5.3" height="5.3"/><rect x="1508.1" y="174.4" width="5.3" height="5.3"/><rect x="1508.9" y="177.6" width="5.3" height="5.3"/><rect x="1511" y="172.6" width="5.3" height="5.3"/><rect x="1512.1" y="166.4" width="5.3" height="5.3"/><rect x="1514.1" y="161.2" width="5.3" height="5.3"/><rect x="1515.8" y="163" width="5.3" height="5.3"/><rect x="1517.3" y="164.6" width="5.3" height="5.3"/><rect x="1519.2" y="165.3" width="5.3" height="5.3"/><rect x="1520.5" y="166.1" width="5.3" height="5.3"/><rect x="1522.2" y="165.7" width="5.3" height="5.3"/><rect x="1524.1" y="167.7" width="5.3" height="5.3"/><rect x="1525.3" y="168.4" width="5.3" height="5.3"/><rect x="1526.7" y="171.1" width="5.3" height="5.3"/><rect x="1527.4" y="172.4" width="5.3" height="5.3"/><rect x="1529.4" y="176.6" width="5.3" height="5.3"/><rect x="1530.5" y="174.5" width="5.3" height="5.3"/><rect x="1532" y="171" width="5.3" height="5.3"/><rect x="1533.5" y="167.3" width="5.3" height="5.3"/><rect x="1534.7" y="166.2" width="5.3" height="5.3"/><rect x="1536.4" y="167.9" width="5.3" height="5.3"/><rect x="1537.6" y="166.4" width="5.3" height="5.3"/><rect x="1539.6" y="166.3" width="5.3" height="5.3"/><rect x="1541.4" y="167.9" width="5.3" height="5.3"/><rect x="1542.9" y="170" width="5.3" height="5.3"/><rect x="1544.6" y="169.6" width="5.3" height="5.3"/><rect x="1546.4" y="171.3" width="5.3" height="5.3"/><rect x="1547.8" y="173.5" width="5.3" height="5.3"/><rect x="1549.8" y="165.3" width="5.3" height="5.3"/><rect x="1551.3" y="166.5" width="5.3" height="5.3"/><rect x="1553.7" y="166.3" width="5.3" height="5.3"/><rect x="1554.6" y="163.8" width="5.3" height="5.3"/><rect x="1556" y="164.3" width="5.3" height="5.3"/><rect x="1557.3" y="166.7" width="5.3" height="5.3"/><rect x="1559.2" y="164.4" width="5.3" height="5.3"/><rect x="1561.1" y="167.2" width="5.3" height="5.3"/><rect x="1562.1" y="167.3" width="5.3" height="5.3"/><rect x="1564.1" y="168.3" width="5.3" height="5.3"/><rect x="1564.5" y="167.6" width="5.3" height="5.3"/><rect x="1566.7" y="168.7" width="5.3" height="5.3"/><rect x="1568.3" y="169.4" width="5.3" height="5.3"/><rect x="1570.3" y="168" width="5.3" height="5.3"/><rect x="1571.3" y="167.8" width="5.3" height="5.3"/><rect x="1572.8" y="166.1" width="5.3" height="5.3"/><rect x="1574.4" y="166.3" width="5.3" height="5.3"/><rect x="1575.6" y="164.1" width="5.3" height="5.3"/><rect x="1577.6" y="166.1" width="5.3" height="5.3"/><rect x="1579.1" y="165.3" width="5.3" height="5.3"/><rect x="1580.5" y="166.3" width="5.3" height="5.3"/><rect x="1582.1" y="167.4" width="5.3" height="5.3"/><rect x="1583.3" y="170.8" width="5.3" height="5.3"/><rect x="1585.3" y="173.1" width="5.3" height="5.3"/><rect x="1586.7" y="174.5" width="5.3" height="5.3"/><rect x="1588" y="171.7" width="5.3" height="5.3"/><rect x="1589.8" y="171" width="5.3" height="5.3"/><rect x="1590.8" y="167.3" width="5.3" height="5.3"/><rect x="1592.1" y="166.3" width="5.3" height="5.3"/><rect x="1593.8" y="167.3" width="5.3" height="5.3"/><rect x="1445.5" y="172.5" width="5.3" height="5.3"/><rect x="1448.6" y="176.6" width="5.3" height="5.3"/><rect x="1451.7" y="183.7" width="5.3" height="5.3"/><rect x="1454.7" y="186.8" width="5.3" height="5.3"/><rect x="1457.8" y="167.3" width="5.3" height="5.3"/><rect x="1463.9" y="167.3" width="5.3" height="5.3"/></g>
<g stroke="#0033cc" stroke-width="1.6" fill="none">
<line x1="984.7" y1="16.7" x2="984.7" y2="328.4"/>
</g>
<g stroke="#0033cc" stroke-width="1.8" fill="none">
<line x1="984.7" y1="69" x2="979.7" y2="69"/>
<line x1="984.7" y1="173.4" x2="979.7" y2="173.4"/>
<line x1="984.7" y1="276.6" x2="979.7" y2="276.6"/>
</g>
<g stroke="#339933" stroke-width="1.7" fill="none">
<line x1="1598.5" y1="16.7" x2="1598.5" y2="328.4"/>
</g>
<g stroke="#339933" stroke-width="1.8" fill="none">
<line x1="1598.5" y1="68.9" x2="1604.3" y2="68.9"/>
<line x1="1598.5" y1="173.4" x2="1604.3" y2="173.4"/>
<line x1="1598.5" y1="276.8" x2="1604.3" y2="276.8"/>
</g>
<g stroke="#333333" stroke-width="1.8" fill="none">
<line x1="983.8" y1="16.7" x2="1599.5" y2="16.7"/>
<line x1="983.8" y1="328.4" x2="1599.5" y2="328.4"/>
<line x1="984.7" y1="16.7" x2="984.7" y2="10.9"/>
<line x1="984.7" y1="328.4" x2="984.7" y2="334.4"/>
<line x1="1138.2" y1="16.7" x2="1138.2" y2="10.9"/>
<line x1="1138.2" y1="328.4" x2="1138.2" y2="334.4"/>
<line x1="1291.6" y1="16.7" x2="1291.6" y2="10.9"/>
<line x1="1291.6" y1="328.4" x2="1291.6" y2="334.4"/>
<line x1="1445.1" y1="16.7" x2="1445.1" y2="10.9"/>
<line x1="1445.1" y1="328.4" x2="1445.1" y2="334.4"/>
<line x1="1598.5" y1="16.7" x2="1598.5" y2="10.9"/>
<line x1="1598.5" y1="328.4" x2="1598.5" y2="334.4"/>
</g>
<text transform="translate(962.7,82.9) scale(1,1.025)" font-size="35.3" fill="#0033cc" stroke="#0033cc" stroke-width="0.5" text-anchor="end">500</text>
<text transform="translate(962.7,187.3) scale(1,1.025)" font-size="35.3" fill="#0033cc" stroke="#0033cc" stroke-width="0.5" text-anchor="end">400</text>
<text transform="translate(962.7,290.5) scale(1,1.025)" font-size="35.3" fill="#0033cc" stroke="#0033cc" stroke-width="0.5" text-anchor="end">300</text>
<text transform="translate(1613.8,83.1) scale(1,1.025)" font-size="35.3" fill="#339933" stroke="#339933" stroke-width="0.5">0.04</text>
<text transform="translate(1613.8,187.6) scale(1,1.025)" font-size="35.3" fill="#339933" stroke="#339933" stroke-width="0.5">0</text>
<text transform="translate(1613.8,291) scale(1,1.025)" font-size="35.3" fill="#339933" stroke="#339933" stroke-width="0.5">-0.04</text>
<text transform="translate(980.1,378.8) scale(1,1.025)" font-size="31.9" fill="#000" stroke="#000" stroke-width="0.4" text-anchor="middle">Sep 1</text>
<text transform="translate(1135,378.8) scale(1,1.025)" font-size="31.9" fill="#000" stroke="#000" stroke-width="0.4" text-anchor="middle">Sep 5</text>
<text transform="translate(1291.6,378.8) scale(1,1.025)" font-size="31.9" fill="#000" stroke="#000" stroke-width="0.4" text-anchor="middle">Sep 9</text>
<text transform="translate(1443.2,378.8) scale(1,1.025)" font-size="31.9" fill="#000" stroke="#000" stroke-width="0.4" text-anchor="middle">Sep 13</text>
<text transform="translate(1597,378.8) scale(1,1.025)" font-size="31.9" fill="#000" stroke="#000" stroke-width="0.4" text-anchor="middle">Sep 17</text>
<text transform="translate(1000.8,53.2) scale(1,0.99)" font-size="29.4" fill="#000" stroke="#000" stroke-width="0.3" font-weight="bold">C</text>
<text transform="translate(1037.1,55.8) scale(1,1.025)" font-size="28.6" fill="#000" stroke="#000" stroke-width="0.4">2019 Lingling</text>
<text transform="translate(1583,48.6) scale(1,1.025)" font-size="28.7" fill="#339933" stroke="#339933" stroke-width="0.4" text-anchor="end">(+) sink</text><text transform="translate(1584,312.8) scale(1,1.025)" font-size="28.7" fill="#339933" stroke="#339933" stroke-width="0.4" text-anchor="end">(-) source</text>
</g>
<g id="panel-D">
<line x1="984.7" y1="661.4" x2="1598.5" y2="661.4" stroke="#0033cc" stroke-width="2.6"/>
<rect x="1166.2" y="416.3" width="56" height="310.8" fill="#777777" fill-opacity="0.57"/>
<line x1="984.7" y1="533.7" x2="1598.5" y2="533.7" stroke="#55aa44" stroke-width="1.3" stroke-dasharray="6.3 5.3"/>
<g fill="none" stroke="#0a0a9c" stroke-width="1.9"><circle cx="983.9" cy="674" r="4.1"/><circle cx="985.8" cy="675.9" r="4.1"/><circle cx="987.7" cy="680.7" r="4.1"/><circle cx="989.2" cy="680" r="4.1"/><circle cx="990.6" cy="688.6" r="4.1"/><circle cx="992.4" cy="684.7" r="4.1"/><circle cx="993.5" cy="685.5" r="4.1"/><circle cx="994.6" cy="687.8" r="4.1"/><circle cx="995.9" cy="679.1" r="4.1"/><circle cx="998.2" cy="679.7" r="4.1"/><circle cx="999.3" cy="679.7" r="4.1"/><circle cx="1001.1" cy="675.4" r="4.1"/><circle cx="1002.1" cy="668.2" r="4.1"/><circle cx="1004.2" cy="670.8" r="4.1"/><circle cx="1005" cy="664.3" r="4.1"/><circle cx="1007.1" cy="670.5" r="4.1"/><circle cx="1008.9" cy="679.7" r="4.1"/><circle cx="1011" cy="690" r="4.1"/><circle cx="1012.7" cy="693.2" r="4.1"/><circle cx="1014.7" cy="684.8" r="4.1"/><circle cx="1016.6" cy="687.4" r="4.1"/><circle cx="1018.4" cy="682.7" r="4.1"/><circle cx="1020.4" cy="679.7" r="4.1"/><circle cx="1022.4" cy="689.4" r="4.1"/><circle cx="1023.8" cy="684.9" r="4.1"/><circle cx="1025.6" cy="679" r="4.1"/><circle cx="1026.8" cy="673.6" r="4.1"/><circle cx="1028.1" cy="674.9" r="4.1"/><circle cx="1029.4" cy="680.6" r="4.1"/><circle cx="1032" cy="691.3" r="4.1"/><circle cx="1033.7" cy="685.2" r="4.1"/><circle cx="1035.8" cy="683.6" r="4.1"/><circle cx="1037.6" cy="676.5" r="4.1"/><circle cx="1039.7" cy="666.3" r="4.1"/><circle cx="1041.8" cy="668.4" r="4.1"/><circle cx="1043.5" cy="670.1" r="4.1"/><circle cx="1045.5" cy="672.2" r="4.1"/><circle cx="1047.4" cy="677.8" r="4.1"/><circle cx="1049" cy="675.2" r="4.1"/><circle cx="1051.2" cy="679.7" r="4.1"/><circle cx="1053.2" cy="693.2" r="4.1"/><circle cx="1053.2" cy="698" r="4.1"/><circle cx="1055" cy="689.4" r="4.1"/><circle cx="1057" cy="686.5" r="4.1"/><circle cx="1058.4" cy="680.1" r="4.1"/><circle cx="1059.9" cy="670.1" r="4.1"/><circle cx="1061.7" cy="673.5" r="4.1"/><circle cx="1062.8" cy="664.6" r="4.1"/><circle cx="1064.7" cy="670.1" r="4.1"/><circle cx="1066.6" cy="679.7" r="4.1"/><circle cx="1067.8" cy="689.6" r="4.1"/><circle cx="1069.5" cy="689.4" r="4.1"/><circle cx="1071.3" cy="688.9" r="4.1"/><circle cx="1073.1" cy="689.6" r="4.1"/><circle cx="1074.3" cy="691.3" r="4.1"/><circle cx="1076.8" cy="687.4" r="4.1"/><circle cx="1078.2" cy="685.5" r="4.1"/><circle cx="1080" cy="682.5" r="4.1"/><circle cx="1082" cy="675.9" r="4.1"/><circle cx="1083.6" cy="676.5" r="4.1"/><circle cx="1085.9" cy="677.8" r="4.1"/><circle cx="1087.8" cy="686.5" r="4.1"/><circle cx="1088.8" cy="697.1" r="4.1"/><circle cx="1090.7" cy="706.7" r="4.1"/><circle cx="1092.6" cy="702.9" r="4.1"/><circle cx="1093.6" cy="697.1" r="4.1"/><circle cx="1095.5" cy="689.4" r="4.1"/><circle cx="1097.4" cy="682.6" r="4.1"/><circle cx="1100" cy="680.8" r="4.1"/><circle cx="1101.3" cy="676.9" r="4.1"/><circle cx="1102.6" cy="676.2" r="4.1"/><circle cx="1104.5" cy="675" r="4.1"/><circle cx="1106.1" cy="676.9" r="4.1"/><circle cx="1107.7" cy="684.3" r="4.1"/><circle cx="1109" cy="685.5" r="4.1"/><circle cx="1110.9" cy="695.2" r="4.1"/><circle cx="1112.9" cy="695.4" r="4.1"/><circle cx="1114.8" cy="691.3" r="4.1"/><circle cx="1116.8" cy="690.7" r="4.1"/><circle cx="1118.6" cy="689.4" r="4.1"/><circle cx="1120.3" cy="693.7" r="4.1"/><circle cx="1122.5" cy="693.2" r="4.1"/><circle cx="1124.3" cy="686.3" r="4.1"/><circle cx="1125.4" cy="681.7" r="4.1"/><circle cx="1126.3" cy="702.9" r="4.1"/><circle cx="1127.5" cy="706.1" r="4.1"/><circle cx="1129.2" cy="706.7" r="4.1"/><circle cx="1131.2" cy="706.6" r="4.1"/><circle cx="1133.1" cy="700.9" r="4.1"/><circle cx="1134.5" cy="693.2" r="4.1"/><circle cx="1135.6" cy="686.1" r="4.1"/><circle cx="1136.6" cy="692" r="4.1"/><circle cx="1138.4" cy="691.5" r="4.1"/><circle cx="1139.8" cy="699" r="4.1"/><circle cx="1141.3" cy="692.5" r="4.1"/><circle cx="1143.7" cy="695.2" r="4.1"/><circle cx="1145.8" cy="694.5" r="4.1"/><circle cx="1147.5" cy="696.1" r="4.1"/><circle cx="1148.4" cy="691.5" r="4.1"/><circle cx="1151.4" cy="691.3" r="4.1"/><circle cx="1153.1" cy="688.1" r="4.1"/><circle cx="1155.2" cy="685.5" r="4.1"/><circle cx="1157.1" cy="686.6" r="4.1"/><circle cx="1159.1" cy="689.4" r="4.1"/><circle cx="1161.2" cy="694.8" r="4.1"/><circle cx="1162.9" cy="695.2" r="4.1"/><circle cx="1164.3" cy="698.1" r="4.1"/><circle cx="1165.8" cy="693.2" r="4.1"/><circle cx="1167.7" cy="684.6" r="4.1"/><circle cx="1169.7" cy="677.8" r="4.1"/><circle cx="1171.1" cy="673.7" r="4.1"/><circle cx="1172.5" cy="674" r="4.1"/><circle cx="1174" cy="668" r="4.1"/><circle cx="1175.4" cy="669.2" r="4.1"/><circle cx="1176.8" cy="669.4" r="4.1"/><circle cx="1178.3" cy="674.9" r="4.1"/><circle cx="1179.6" cy="673" r="4.1"/><circle cx="1181.2" cy="670.1" r="4.1"/><circle cx="1181.9" cy="668.2" r="4.1"/><circle cx="1184.1" cy="664.3" r="4.1"/><circle cx="1185.6" cy="660.4" r="4.1"/><circle cx="1187" cy="657.6" r="4.1"/><circle cx="1187.9" cy="650.9" r="4.1"/><circle cx="1189.9" cy="643.2" r="4.1"/><circle cx="1192" cy="642.6" r="4.1"/><circle cx="1193.7" cy="640.3" r="4.1"/><circle cx="1195.5" cy="638.2" r="4.1"/><circle cx="1197.6" cy="641.2" r="4.1"/><circle cx="1199.7" cy="646" r="4.1"/><circle cx="1201.4" cy="647" r="4.1"/><circle cx="1203.3" cy="637.4" r="4.1"/><circle cx="1204.8" cy="632.7" r="4.1"/><circle cx="1207.2" cy="631.6" r="4.1"/><circle cx="1208.3" cy="632.7" r="4.1"/><circle cx="1210.1" cy="629.7" r="4.1"/><circle cx="1212" cy="622" r="4.1"/><circle cx="1213.9" cy="616.2" r="4.1"/><circle cx="1215.2" cy="612.6" r="4.1"/><circle cx="1216.8" cy="615.2" r="4.1"/><circle cx="1215.6" cy="614" r="4.1"/><circle cx="1213.5" cy="611" r="4.1"/><circle cx="1211.7" cy="608.1" r="4.1"/><circle cx="1210.1" cy="605.6" r="4.1"/><circle cx="1212" cy="604.5" r="4.1"/><circle cx="1213.2" cy="601.4" r="4.1"/><circle cx="1214.9" cy="598.9" r="4.1"/><circle cx="1217.4" cy="598" r="4.1"/><circle cx="1218.7" cy="599.8" r="4.1"/><circle cx="1220.3" cy="598.2" r="4.1"/><circle cx="1222.6" cy="596" r="4.1"/><circle cx="1103.2" cy="638.4" r="4.1"/><circle cx="1104.8" cy="632.6" r="4.1"/><circle cx="1136.9" cy="670.5" r="4.1"/><circle cx="1220.7" cy="572.9" r="4.1"/><circle cx="1225.5" cy="524.9" r="4.1"/><circle cx="1230.3" cy="512.8" r="4.1"/><circle cx="1238" cy="506.6" r="4.1"/><circle cx="1231.8" cy="486.4" r="4.1"/><circle cx="1252.4" cy="485.8" r="4.1"/><circle cx="1276.5" cy="469.7" r="4.1"/><circle cx="1231.8" cy="486.6" r="4.1"/><circle cx="1409.6" cy="483" r="4.1"/><circle cx="1247.8" cy="533.8" r="4.1"/><circle cx="1253.9" cy="525.7" r="4.1"/><circle cx="1257.8" cy="524.8" r="4.1"/><circle cx="1261.6" cy="523.8" r="4.1"/><circle cx="1260.1" cy="529.6" r="4.1"/><circle cx="1268.4" cy="530.1" r="4.1"/><circle cx="1266.5" cy="516.1" r="4.1"/><circle cx="1270.9" cy="517" r="4.1"/><circle cx="1275.5" cy="518.6" r="4.1"/><circle cx="1278" cy="537.8" r="4.1"/><circle cx="1272.8" cy="549.8" r="4.1"/><circle cx="1295.9" cy="526.7" r="4.1"/><circle cx="1294.4" cy="534.4" r="4.1"/><circle cx="1290.5" cy="535.9" r="4.1"/><circle cx="1292.5" cy="543" r="4.1"/><circle cx="1233.1" cy="545.6" r="4.1"/><circle cx="1227" cy="550.8" r="4.1"/><circle cx="1228.9" cy="555.2" r="4.1"/><circle cx="1223.5" cy="561" r="4.1"/><circle cx="1242" cy="556.5" r="4.1"/><circle cx="1251" cy="549.8" r="4.1"/><circle cx="1255.9" cy="556.5" r="4.1"/><circle cx="1289.6" cy="569.1" r="4.1"/><circle cx="1284.8" cy="577.7" r="4.1"/><circle cx="1286.7" cy="587.4" r="4.1"/><circle cx="1279.4" cy="597" r="4.1"/><circle cx="1235.6" cy="582.5" r="4.1"/><circle cx="1240.4" cy="584.5" r="4.1"/><circle cx="1245.3" cy="583.5" r="4.1"/><circle cx="1234.3" cy="588.3" r="4.1"/><circle cx="1241.4" cy="590.2" r="4.1"/><circle cx="1247.2" cy="592.2" r="4.1"/><circle cx="1250.1" cy="589.3" r="4.1"/><circle cx="1216.4" cy="597.9" r="4.1"/><circle cx="1311.7" cy="561" r="4.1"/><circle cx="1307.9" cy="560.4" r="4.1"/><circle cx="1318.5" cy="568.7" r="4.1"/><circle cx="1310.2" cy="581.6" r="4.1"/><circle cx="1302.1" cy="587.4" r="4.1"/><circle cx="1305" cy="587.4" r="4.1"/><circle cx="1313.6" cy="587.4" r="4.1"/><circle cx="1319.4" cy="598.9" r="4.1"/><circle cx="1328.7" cy="557.5" r="4.1"/><circle cx="1333.3" cy="556.1" r="4.1"/><circle cx="1329.4" cy="563.3" r="4.1"/><circle cx="1335.8" cy="575.4" r="4.1"/><circle cx="1337.7" cy="592.6" r="4.1"/><circle cx="1341" cy="595.6" r="4.1"/><circle cx="1368.5" cy="544" r="4.1"/><circle cx="1369.5" cy="587.4" r="4.1"/><circle cx="1385.3" cy="562.3" r="4.1"/><circle cx="1394.2" cy="557.1" r="4.1"/><circle cx="1392.6" cy="561.3" r="4.1"/><circle cx="1396.5" cy="569.1" r="4.1"/><circle cx="1403.2" cy="561.3" r="4.1"/><circle cx="1407.6" cy="556.1" r="4.1"/><circle cx="1411.9" cy="558.5" r="4.1"/><circle cx="1406.1" cy="571.9" r="4.1"/><circle cx="1414.2" cy="572.5" r="4.1"/><circle cx="1398.4" cy="579.6" r="4.1"/><circle cx="1405.1" cy="578.7" r="4.1"/><circle cx="1410.9" cy="581.6" r="4.1"/><circle cx="1401.3" cy="594.1" r="4.1"/><circle cx="1388.8" cy="599.5" r="4.1"/><circle cx="1217.3" cy="615.3" r="4.1"/><circle cx="1211.6" cy="616.2" r="4.1"/><circle cx="1214.4" cy="621" r="4.1"/><circle cx="1209.6" cy="628.7" r="4.1"/><circle cx="1206.7" cy="632.6" r="4.1"/><circle cx="1203.9" cy="637.4" r="4.1"/><circle cx="1201" cy="644.2" r="4.1"/><circle cx="1282.8" cy="601.8" r="4.1"/><circle cx="1280.9" cy="604.7" r="4.1"/><circle cx="1299.2" cy="603.7" r="4.1"/><circle cx="1304" cy="610.1" r="4.1"/><circle cx="1300.2" cy="614.3" r="4.1"/><circle cx="1315.6" cy="601.8" r="4.1"/><circle cx="1320.4" cy="599.9" r="4.1"/><circle cx="1326.2" cy="605.6" r="4.1"/><circle cx="1324.2" cy="609.5" r="4.1"/><circle cx="1316.5" cy="618.2" r="4.1"/><circle cx="1323.3" cy="621.6" r="4.1"/><circle cx="1321.3" cy="633.2" r="4.1"/><circle cx="1334.3" cy="602.2" r="4.1"/><circle cx="1345.4" cy="603.1" r="4.1"/><circle cx="1341.6" cy="609.5" r="4.1"/><circle cx="1344.5" cy="610.8" r="4.1"/><circle cx="1346.8" cy="620.5" r="4.1"/><circle cx="1352.2" cy="617.2" r="4.1"/><circle cx="1355.1" cy="615.3" r="4.1"/><circle cx="1357" cy="611.4" r="4.1"/><circle cx="1352.2" cy="629.7" r="4.1"/><circle cx="1348.3" cy="637.8" r="4.1"/><circle cx="1350.2" cy="637.8" r="4.1"/><circle cx="1357.9" cy="631.6" r="4.1"/><circle cx="1361.8" cy="630.7" r="4.1"/><circle cx="1365.7" cy="629.3" r="4.1"/><circle cx="1359.9" cy="638.8" r="4.1"/><circle cx="1363.3" cy="603.1" r="4.1"/><circle cx="1366.6" cy="612.8" r="4.1"/><circle cx="1380.7" cy="604.7" r="4.1"/><circle cx="1389.7" cy="603.1" r="4.1"/><circle cx="1379.1" cy="621.6" r="4.1"/><circle cx="1375.3" cy="626.8" r="4.1"/><circle cx="1383" cy="627.4" r="4.1"/><circle cx="1378.2" cy="632.6" r="4.1"/><circle cx="1371.4" cy="636.5" r="4.1"/><circle cx="1374.3" cy="639.3" r="4.1"/><circle cx="1371" cy="652.8" r="4.1"/><circle cx="1390.7" cy="630.1" r="4.1"/><circle cx="1386.8" cy="615.8" r="4.1"/><circle cx="1392.6" cy="612.4" r="4.1"/><circle cx="1400.3" cy="608.5" r="4.1"/><circle cx="1415.7" cy="621" r="4.1"/><circle cx="1420.5" cy="627.2" r="4.1"/><circle cx="1427.3" cy="627.2" r="4.1"/><circle cx="1434" cy="625.9" r="4.1"/><circle cx="1423.4" cy="634.5" r="4.1"/><circle cx="1417.7" cy="637.4" r="4.1"/><circle cx="1431.1" cy="635.5" r="4.1"/><circle cx="1436" cy="632.6" r="4.1"/><circle cx="1438.8" cy="629.7" r="4.1"/><circle cx="1426.3" cy="641.3" r="4.1"/><circle cx="1423.4" cy="644.2" r="4.1"/><circle cx="1429.2" cy="647" r="4.1"/><circle cx="1433.1" cy="642.2" r="4.1"/><circle cx="1438.8" cy="639.3" r="4.1"/><circle cx="1403.5" cy="561" r="4.1"/><circle cx="1412.5" cy="559.4" r="4.1"/><circle cx="1405.8" cy="572.9" r="4.1"/><circle cx="1414.4" cy="572.9" r="4.1"/><circle cx="1400" cy="578.7" r="4.1"/><circle cx="1410.6" cy="581.6" r="4.1"/><circle cx="1401.9" cy="594.1" r="4.1"/><circle cx="1401" cy="608.5" r="4.1"/><circle cx="1416.9" cy="627.6" r="4.1"/><circle cx="1418.9" cy="626.4" r="4.1"/><circle cx="1418.9" cy="636.3" r="4.1"/><circle cx="1418.5" cy="636.3" r="4.1"/><circle cx="1419.7" cy="638" r="4.1"/><circle cx="1421.6" cy="638.1" r="4.1"/><circle cx="1423.1" cy="633.6" r="4.1"/><circle cx="1425" cy="628.1" r="4.1"/><circle cx="1427" cy="626.8" r="4.1"/><circle cx="1424.8" cy="637.1" r="4.1"/><circle cx="1423.1" cy="644.2" r="4.1"/><circle cx="1424.3" cy="645.4" r="4.1"/><circle cx="1425.8" cy="644.2" r="4.1"/><circle cx="1427.3" cy="649.6" r="4.1"/><circle cx="1430.8" cy="636.5" r="4.1"/><circle cx="1431.9" cy="632.3" r="4.1"/><circle cx="1433.7" cy="626.8" r="4.1"/><circle cx="1435.4" cy="627.7" r="4.1"/><circle cx="1436.6" cy="631.6" r="4.1"/><circle cx="1438.1" cy="638.5" r="4.1"/><circle cx="1440.4" cy="639.3" r="4.1"/><circle cx="1442.4" cy="643.2" r="4.1"/><circle cx="1443.3" cy="648" r="4.1"/><circle cx="1444.4" cy="639.1" r="4.1"/><circle cx="1446.2" cy="626.8" r="4.1"/><circle cx="1447.7" cy="627.6" r="4.1"/><circle cx="1449.1" cy="631.6" r="4.1"/><circle cx="1450.4" cy="624.3" r="4.1"/><circle cx="1452" cy="625.9" r="4.1"/><circle cx="1453.2" cy="625.3" r="4.1"/><circle cx="1454.9" cy="629.7" r="4.1"/><circle cx="1456.2" cy="631.6" r="4.1"/><circle cx="1458.3" cy="634.5" r="4.1"/><circle cx="1459.1" cy="630.5" r="4.1"/><circle cx="1461.6" cy="632.6" r="4.1"/><circle cx="1461.6" cy="643.2" r="4.1"/><circle cx="1463.6" cy="649" r="4.1"/><circle cx="1464.8" cy="650.2" r="4.1"/><circle cx="1466.5" cy="646.1" r="4.1"/><circle cx="1467.4" cy="637.4" r="4.1"/><circle cx="1468.4" cy="629.7" r="4.1"/><circle cx="1470.6" cy="631.4" r="4.1"/><circle cx="1472.2" cy="632.6" r="4.1"/><circle cx="1473.7" cy="633.5" r="4.1"/><circle cx="1475.1" cy="637.4" r="4.1"/><circle cx="1477" cy="651.9" r="4.1"/><circle cx="1479" cy="646.1" r="4.1"/><circle cx="1480.7" cy="643.2" r="4.1"/><circle cx="1482.8" cy="642.2" r="4.1"/><circle cx="1484" cy="645.1" r="4.1"/><circle cx="1486.7" cy="640.3" r="4.1"/><circle cx="1488.3" cy="643.8" r="4.1"/><circle cx="1489.9" cy="639.8" r="4.1"/><circle cx="1491.3" cy="634.7" r="4.1"/><circle cx="1492.5" cy="637.4" r="4.1"/><circle cx="1494.1" cy="639.6" r="4.1"/><circle cx="1496.3" cy="638.4" r="4.1"/><circle cx="1498.1" cy="637" r="4.1"/><circle cx="1500.2" cy="642.2" r="4.1"/><circle cx="1502.1" cy="641" r="4.1"/><circle cx="1504" cy="645.1" r="4.1"/><circle cx="1505.9" cy="651.6" r="4.1"/><circle cx="1507.9" cy="651.9" r="4.1"/><circle cx="1509.4" cy="643.7" r="4.1"/><circle cx="1511.7" cy="637.4" r="4.1"/><circle cx="1513.8" cy="639.7" r="4.1"/><circle cx="1515.6" cy="642.2" r="4.1"/><circle cx="1517.1" cy="641.2" r="4.1"/><circle cx="1518.4" cy="639.3" r="4.1"/><circle cx="1519.8" cy="647" r="4.1"/><circle cx="1521.3" cy="645.1" r="4.1"/><circle cx="1522.9" cy="646.6" r="4.1"/><circle cx="1525.2" cy="649" r="4.1"/><circle cx="1527.3" cy="651.4" r="4.1"/><circle cx="1529.1" cy="649" r="4.1"/><circle cx="1530.8" cy="641.8" r="4.1"/><circle cx="1531.9" cy="638.4" r="4.1"/><circle cx="1533.3" cy="641.6" r="4.1"/><circle cx="1534.7" cy="638.3" r="4.1"/><circle cx="1536.4" cy="637.4" r="4.1"/><circle cx="1537.7" cy="638.9" r="4.1"/><circle cx="1539.6" cy="643.2" r="4.1"/><circle cx="1540.6" cy="650.9" r="4.1"/><circle cx="1541.1" cy="653.1" r="4.1"/><circle cx="1543.5" cy="657.6" r="4.1"/><circle cx="1544.8" cy="656.5" r="4.1"/><circle cx="1547.4" cy="659.6" r="4.1"/><circle cx="1548.7" cy="655.5" r="4.1"/><circle cx="1550.8" cy="646.9" r="4.1"/><circle cx="1552.2" cy="639.3" r="4.1"/><circle cx="1553.1" cy="648" r="4.1"/><circle cx="1554.6" cy="644.5" r="4.1"/><circle cx="1556.5" cy="645" r="4.1"/><circle cx="1557.9" cy="646.1" r="4.1"/><circle cx="1559.6" cy="652.3" r="4.1"/><circle cx="1561.4" cy="654.8" r="4.1"/><circle cx="1563.7" cy="644.2" r="4.1"/><circle cx="1565.1" cy="642.3" r="4.1"/><circle cx="1566.2" cy="642.8" r="4.1"/><circle cx="1568" cy="639" r="4.1"/><circle cx="1569.8" cy="642.5" r="4.1"/><circle cx="1571.4" cy="643.2" r="4.1"/><circle cx="1573.4" cy="642.7" r="4.1"/><circle cx="1574.3" cy="649" r="4.1"/><circle cx="1575.9" cy="648.9" r="4.1"/><circle cx="1577.6" cy="647" r="4.1"/><circle cx="1579.1" cy="645.1" r="4.1"/><circle cx="1580.7" cy="646.3" r="4.1"/><circle cx="1582" cy="653.8" r="4.1"/><circle cx="1583.9" cy="658.6" r="4.1"/><circle cx="1585.9" cy="654.8" r="4.1"/><circle cx="1586.8" cy="648" r="4.1"/><circle cx="1588.7" cy="647.7" r="4.1"/><circle cx="1590.7" cy="642.8" r="4.1"/><circle cx="1592.1" cy="644" r="4.1"/><circle cx="1593.6" cy="646.1" r="4.1"/><circle cx="1595.5" cy="649.4" r="4.1"/><circle cx="1519.8" cy="631.6" r="4.1"/><circle cx="1548.3" cy="623.9" r="4.1"/><circle cx="1550.6" cy="620.5" r="4.1"/></g>
<g fill="none" stroke="#126a35" stroke-width="1.8"><rect x="984.1" y="527.1" width="5.2" height="5.2"/><rect x="985" y="526" width="5.2" height="5.2"/><rect x="987.5" y="526" width="5.2" height="5.2"/><rect x="989" y="525.2" width="5.2" height="5.2"/><rect x="990.9" y="521.6" width="5.2" height="5.2"/><rect x="991.9" y="523.8" width="5.2" height="5.2"/><rect x="993.5" y="520.9" width="5.2" height="5.2"/><rect x="994.7" y="522.3" width="5.2" height="5.2"/><rect x="996.3" y="524.5" width="5.2" height="5.2"/><rect x="998.6" y="527.1" width="5.2" height="5.2"/><rect x="1000" y="520.4" width="5.2" height="5.2"/><rect x="1001.5" y="519.4" width="5.2" height="5.2"/><rect x="1003.2" y="522" width="5.2" height="5.2"/><rect x="1004.9" y="521.1" width="5.2" height="5.2"/><rect x="1006.3" y="527.1" width="5.2" height="5.2"/><rect x="1007.9" y="526" width="5.2" height="5.2"/><rect x="1009" y="528.9" width="5.2" height="5.2"/><rect x="1011.1" y="528.1" width="5.2" height="5.2"/><rect x="1012.1" y="528.1" width="5.2" height="5.2"/><rect x="1013.5" y="529.3" width="5.2" height="5.2"/><rect x="1014.7" y="525.9" width="5.2" height="5.2"/><rect x="1016.2" y="523.7" width="5.2" height="5.2"/><rect x="1017.8" y="524.3" width="5.2" height="5.2"/><rect x="1019.6" y="525.1" width="5.2" height="5.2"/><rect x="1021.3" y="519.4" width="5.2" height="5.2"/><rect x="1023" y="523.1" width="5.2" height="5.2"/><rect x="1024.6" y="525.2" width="5.2" height="5.2"/><rect x="1026.2" y="524.5" width="5.2" height="5.2"/><rect x="1027.8" y="518.7" width="5.2" height="5.2"/><rect x="1029.4" y="517.5" width="5.2" height="5.2"/><rect x="1031.3" y="520.3" width="5.2" height="5.2"/><rect x="1033.2" y="518.5" width="5.2" height="5.2"/><rect x="1035.1" y="523.3" width="5.2" height="5.2"/><rect x="1037.1" y="524.3" width="5.2" height="5.2"/><rect x="1038.5" y="528" width="5.2" height="5.2"/><rect x="1040.1" y="526.3" width="5.2" height="5.2"/><rect x="1041.3" y="527.1" width="5.2" height="5.2"/><rect x="1042.9" y="526.2" width="5.2" height="5.2"/><rect x="1044.2" y="524.1" width="5.2" height="5.2"/><rect x="1045.8" y="524.7" width="5.2" height="5.2"/><rect x="1047.6" y="528.2" width="5.2" height="5.2"/><rect x="1048.6" y="527.1" width="5.2" height="5.2"/><rect x="1050.3" y="526.2" width="5.2" height="5.2"/><rect x="1051.1" y="525.5" width="5.2" height="5.2"/><rect x="1053.5" y="521" width="5.2" height="5.2"/><rect x="1054.7" y="525.6" width="5.2" height="5.2"/><rect x="1056.3" y="528.1" width="5.2" height="5.2"/><rect x="1058.6" y="524.8" width="5.2" height="5.2"/><rect x="1059.1" y="527.2" width="5.2" height="5.2"/><rect x="1060.8" y="523.2" width="5.2" height="5.2"/><rect x="1062.1" y="525.2" width="5.2" height="5.2"/><rect x="1063.3" y="527.6" width="5.2" height="5.2"/><rect x="1064.8" y="526.1" width="5.2" height="5.2"/><rect x="1066" y="523.8" width="5.2" height="5.2"/><rect x="1067.9" y="525.2" width="5.2" height="5.2"/><rect x="1068.8" y="524.9" width="5.2" height="5.2"/><rect x="1071.1" y="523.9" width="5.2" height="5.2"/><rect x="1072.1" y="523.5" width="5.2" height="5.2"/><rect x="1073.7" y="522.3" width="5.2" height="5.2"/><rect x="1075.7" y="523.3" width="5.2" height="5.2"/><rect x="1077.5" y="525.2" width="5.2" height="5.2"/><rect x="1079.6" y="529.8" width="5.2" height="5.2"/><rect x="1081.4" y="528.1" width="5.2" height="5.2"/><rect x="1083.5" y="525.3" width="5.2" height="5.2"/><rect x="1083.9" y="527.4" width="5.2" height="5.2"/><rect x="1086" y="524.3" width="5.2" height="5.2"/><rect x="1087.1" y="520.4" width="5.2" height="5.2"/><rect x="1089.3" y="522.5" width="5.2" height="5.2"/><rect x="1091" y="525.2" width="5.2" height="5.2"/><rect x="1093.2" y="528.5" width="5.2" height="5.2"/><rect x="1094.8" y="528.1" width="5.2" height="5.2"/><rect x="1097.1" y="531.5" width="5.2" height="5.2"/><rect x="1098.7" y="538.3" width="5.2" height="5.2"/><rect x="1100.6" y="526.2" width="5.2" height="5.2"/><rect x="1102.6" y="520.4" width="5.2" height="5.2"/><rect x="1104.3" y="516" width="5.2" height="5.2"/><rect x="1105.4" y="512.7" width="5.2" height="5.2"/><rect x="1107.3" y="511.4" width="5.2" height="5.2"/><rect x="1109.3" y="508.9" width="5.2" height="5.2"/><rect x="1110.6" y="514.8" width="5.2" height="5.2"/><rect x="1112.2" y="513.7" width="5.2" height="5.2"/><rect x="1114.1" y="518.5" width="5.2" height="5.2"/><rect x="1115.9" y="518.3" width="5.2" height="5.2"/><rect x="1117.3" y="517.6" width="5.2" height="5.2"/><rect x="1118.9" y="516.6" width="5.2" height="5.2"/><rect x="1120.3" y="509.3" width="5.2" height="5.2"/><rect x="1121.8" y="500.2" width="5.2" height="5.2"/><rect x="1123.7" y="493.5" width="5.2" height="5.2"/><rect x="1125.6" y="495.5" width="5.2" height="5.2"/><rect x="1126.6" y="494.2" width="5.2" height="5.2"/><rect x="1128.5" y="495.4" width="5.2" height="5.2"/><rect x="1130" y="495.4" width="5.2" height="5.2"/><rect x="1131.4" y="499.2" width="5.2" height="5.2"/><rect x="1133" y="497.1" width="5.2" height="5.2"/><rect x="1134.3" y="495.4" width="5.2" height="5.2"/><rect x="1136.2" y="485.8" width="5.2" height="5.2"/><rect x="1138.2" y="476.7" width="5.2" height="5.2"/><rect x="1140.1" y="480.9" width="5.2" height="5.2"/><rect x="1142" y="484.8" width="5.2" height="5.2"/><rect x="1142" y="487.7" width="5.2" height="5.2"/><rect x="1143.5" y="492.2" width="5.2" height="5.2"/><rect x="1144.9" y="495.4" width="5.2" height="5.2"/><rect x="1146.2" y="508" width="5.2" height="5.2"/><rect x="1147.8" y="515.6" width="5.2" height="5.2"/><rect x="1148.8" y="507.9" width="5.2" height="5.2"/><rect x="1150.7" y="503.1" width="5.2" height="5.2"/><rect x="1151.6" y="493.5" width="5.2" height="5.2"/><rect x="1153.6" y="490.6" width="5.2" height="5.2"/><rect x="1155.3" y="474.5" width="5.2" height="5.2"/><rect x="1156.5" y="460.1" width="5.2" height="5.2"/><rect x="1155.5" y="471.3" width="5.2" height="5.2"/><rect x="1157.1" y="474.4" width="5.2" height="5.2"/><rect x="1158.4" y="475.2" width="5.2" height="5.2"/><rect x="1160.3" y="469" width="5.2" height="5.2"/><rect x="1162.2" y="496.3" width="5.2" height="5.2"/><rect x="1163.5" y="498.2" width="5.2" height="5.2"/><rect x="1165.1" y="501.2" width="5.2" height="5.2"/><rect x="1167.1" y="496.3" width="5.2" height="5.2"/><rect x="1169" y="509.8" width="5.2" height="5.2"/><rect x="1169.9" y="511.7" width="5.2" height="5.2"/><rect x="1170.9" y="516" width="5.2" height="5.2"/><rect x="1172.6" y="505.5" width="5.2" height="5.2"/><rect x="1173.8" y="502.1" width="5.2" height="5.2"/><rect x="1174.8" y="492.5" width="5.2" height="5.2"/><rect x="1175.6" y="497.7" width="5.2" height="5.2"/><rect x="1177.3" y="501.7" width="5.2" height="5.2"/><rect x="1178.6" y="526.2" width="5.2" height="5.2"/><rect x="1180.2" y="539.2" width="5.2" height="5.2"/><rect x="1181.5" y="555.1" width="5.2" height="5.2"/><rect x="1056" y="506.9" width="5.2" height="5.2"/><rect x="1131.4" y="520.8" width="5.2" height="5.2"/><rect x="1173.8" y="491.5" width="5.2" height="5.2"/><rect x="1175.7" y="493.5" width="5.2" height="5.2"/><rect x="1183" y="589.5" width="5.2" height="5.2"/><rect x="1185" y="629" width="5.2" height="5.2"/><rect x="1194" y="630.6" width="5.2" height="5.2"/><rect x="1193" y="638.6" width="5.2" height="5.2"/><rect x="1197.9" y="640.6" width="5.2" height="5.2"/><rect x="1201.7" y="632.9" width="5.2" height="5.2"/><rect x="1189.2" y="646.3" width="5.2" height="5.2"/><rect x="1195" y="644.4" width="5.2" height="5.2"/><rect x="1199.8" y="647.3" width="5.2" height="5.2"/><rect x="1186.3" y="662.1" width="5.2" height="5.2"/><rect x="1191.1" y="667.9" width="5.2" height="5.2"/><rect x="1187.8" y="679.5" width="5.2" height="5.2"/><rect x="1205.6" y="662.7" width="5.2" height="5.2"/><rect x="1203.6" y="618.4" width="5.2" height="5.2"/><rect x="1210.4" y="618.4" width="5.2" height="5.2"/><rect x="1207.5" y="606.9" width="5.2" height="5.2"/><rect x="1208.4" y="583.8" width="5.2" height="5.2"/><rect x="1214.2" y="586.7" width="5.2" height="5.2"/><rect x="1218.1" y="584.7" width="5.2" height="5.2"/><rect x="1215.2" y="602.1" width="5.2" height="5.2"/><rect x="1221" y="606.9" width="5.2" height="5.2"/><rect x="1222.9" y="600.1" width="5.2" height="5.2"/><rect x="1227.7" y="595.9" width="5.2" height="5.2"/><rect x="1225.8" y="602.1" width="5.2" height="5.2"/><rect x="1221.9" y="614.6" width="5.2" height="5.2"/><rect x="1225.8" y="616.5" width="5.2" height="5.2"/><rect x="1232.9" y="606.5" width="5.2" height="5.2"/><rect x="1195.9" y="641.5" width="5.2" height="5.2"/><rect x="1192.1" y="639.6" width="5.2" height="5.2"/><rect x="1218.2" y="584.2" width="5.2" height="5.2"/><rect x="1211.8" y="569.3" width="5.2" height="5.2"/><rect x="1216.7" y="562.6" width="5.2" height="5.2"/><rect x="1227.3" y="595.3" width="5.2" height="5.2"/><rect x="1229.8" y="566.5" width="5.2" height="5.2"/><rect x="1232.1" y="572.2" width="5.2" height="5.2"/><rect x="1235" y="570.3" width="5.2" height="5.2"/><rect x="1238.8" y="569.9" width="5.2" height="5.2"/><rect x="1242.7" y="569.3" width="5.2" height="5.2"/><rect x="1249" y="571.7" width="5.2" height="5.2"/><rect x="1257.1" y="569.9" width="5.2" height="5.2"/><rect x="1263.9" y="579.6" width="5.2" height="5.2"/><rect x="1264.8" y="579" width="5.2" height="5.2"/><rect x="1271.2" y="572.2" width="5.2" height="5.2"/><rect x="1270.2" y="564.9" width="5.2" height="5.2"/><rect x="1279.3" y="564.9" width="5.2" height="5.2"/><rect x="1282.2" y="579.9" width="5.2" height="5.2"/><rect x="1281.2" y="581.9" width="5.2" height="5.2"/><rect x="1288.9" y="591.5" width="5.2" height="5.2"/><rect x="1292.2" y="592.5" width="5.2" height="5.2"/><rect x="1247.1" y="595.7" width="5.2" height="5.2"/><rect x="1243.6" y="549.1" width="5.2" height="5.2"/><rect x="1240.7" y="556.4" width="5.2" height="5.2"/><rect x="1245.6" y="560.7" width="5.2" height="5.2"/><rect x="1251.9" y="546.2" width="5.2" height="5.2"/><rect x="1250.4" y="553" width="5.2" height="5.2"/><rect x="1255.2" y="549.1" width="5.2" height="5.2"/><rect x="1253.3" y="557.8" width="5.2" height="5.2"/><rect x="1260" y="548.7" width="5.2" height="5.2"/><rect x="1261.9" y="554.9" width="5.2" height="5.2"/><rect x="1261" y="561.6" width="5.2" height="5.2"/><rect x="1267.7" y="556.8" width="5.2" height="5.2"/><rect x="1271.6" y="552.6" width="5.2" height="5.2"/><rect x="1275.4" y="555.9" width="5.2" height="5.2"/><rect x="1277.9" y="550.1" width="5.2" height="5.2"/><rect x="1293.3" y="556.2" width="5.2" height="5.2"/><rect x="1295.6" y="558.7" width="5.2" height="5.2"/><rect x="1236.9" y="570.3" width="5.2" height="5.2"/><rect x="1295.6" y="554.9" width="5.2" height="5.2"/><rect x="1297.3" y="555.6" width="5.2" height="5.2"/><rect x="1298.5" y="551" width="5.2" height="5.2"/><rect x="1300.5" y="550.8" width="5.2" height="5.2"/><rect x="1302.4" y="550.7" width="5.2" height="5.2"/><rect x="1304.3" y="547.9" width="5.2" height="5.2"/><rect x="1306.2" y="547.6" width="5.2" height="5.2"/><rect x="1308.2" y="540.4" width="5.2" height="5.2"/><rect x="1310.1" y="535.6" width="5.2" height="5.2"/><rect x="1312.2" y="538.8" width="5.2" height="5.2"/><rect x="1313.9" y="541.4" width="5.2" height="5.2"/><rect x="1315.9" y="533.7" width="5.2" height="5.2"/><rect x="1317.7" y="536.4" width="5.2" height="5.2"/><rect x="1319.1" y="535.9" width="5.2" height="5.2"/><rect x="1320.7" y="536.6" width="5.2" height="5.2"/><rect x="1322.6" y="542.4" width="5.2" height="5.2"/><rect x="1324.5" y="548.2" width="5.2" height="5.2"/><rect x="1326.1" y="547.4" width="5.2" height="5.2"/><rect x="1327.4" y="542.4" width="5.2" height="5.2"/><rect x="1328.4" y="535.6" width="5.2" height="5.2"/><rect x="1329.4" y="533.7" width="5.2" height="5.2"/><rect x="1331.3" y="531.8" width="5.2" height="5.2"/><rect x="1333" y="532.9" width="5.2" height="5.2"/><rect x="1335.1" y="533.7" width="5.2" height="5.2"/><rect x="1337" y="537.6" width="5.2" height="5.2"/><rect x="1339.2" y="535.3" width="5.2" height="5.2"/><rect x="1340.9" y="532.7" width="5.2" height="5.2"/><rect x="1343.1" y="532" width="5.2" height="5.2"/><rect x="1344.8" y="530.8" width="5.2" height="5.2"/><rect x="1346.1" y="530.4" width="5.2" height="5.2"/><rect x="1347.5" y="531.7" width="5.2" height="5.2"/><rect x="1349.6" y="531.8" width="5.2" height="5.2"/><rect x="1351.4" y="532.8" width="5.2" height="5.2"/><rect x="1353.4" y="531.8" width="5.2" height="5.2"/><rect x="1355.2" y="533.6" width="5.2" height="5.2"/><rect x="1356.3" y="537.6" width="5.2" height="5.2"/><rect x="1357.9" y="540.2" width="5.2" height="5.2"/><rect x="1360.2" y="541.4" width="5.2" height="5.2"/><rect x="1362.1" y="535.6" width="5.2" height="5.2"/><rect x="1363.8" y="533.5" width="5.2" height="5.2"/><rect x="1365.9" y="530.8" width="5.2" height="5.2"/><rect x="1368.1" y="531.3" width="5.2" height="5.2"/><rect x="1369.8" y="532.7" width="5.2" height="5.2"/><rect x="1372.3" y="532.3" width="5.2" height="5.2"/><rect x="1373.6" y="533.7" width="5.2" height="5.2"/><rect x="1375.2" y="536.6" width="5.2" height="5.2"/><rect x="1376.5" y="540.4" width="5.2" height="5.2"/><rect x="1377.1" y="536.4" width="5.2" height="5.2"/><rect x="1379.4" y="532.7" width="5.2" height="5.2"/><rect x="1381.3" y="550.7" width="5.2" height="5.2"/><rect x="1386.2" y="550.1" width="5.2" height="5.2"/><rect x="1383.3" y="568.4" width="5.2" height="5.2"/><rect x="1391.9" y="565.5" width="5.2" height="5.2"/><rect x="1393.9" y="557.8" width="5.2" height="5.2"/><rect x="1388.1" y="580.3" width="5.2" height="5.2"/><rect x="1410.2" y="575.7" width="5.2" height="5.2"/><rect x="1416" y="579" width="5.2" height="5.2"/><rect x="1412.2" y="555.9" width="5.2" height="5.2"/><rect x="1417" y="560.7" width="5.2" height="5.2"/><rect x="1418.9" y="551" width="5.2" height="5.2"/><rect x="1423.7" y="548.2" width="5.2" height="5.2"/><rect x="1426.6" y="560.7" width="5.2" height="5.2"/><rect x="1430.5" y="549.1" width="5.2" height="5.2"/><rect x="1433.4" y="543.9" width="5.2" height="5.2"/><rect x="1435.3" y="557.8" width="5.2" height="5.2"/><rect x="1421.8" y="554.9" width="5.2" height="5.2"/><rect x="1428.5" y="553" width="5.2" height="5.2"/><rect x="1390" y="598.2" width="5.2" height="5.2"/><rect x="1393.5" y="601.7" width="5.2" height="5.2"/><rect x="1399.3" y="616.1" width="5.2" height="5.2"/><rect x="1395.8" y="619.8" width="5.2" height="5.2"/><rect x="1408.9" y="631.3" width="5.2" height="5.2"/><rect x="1405.8" y="643.1" width="5.2" height="5.2"/><rect x="1402.5" y="644.4" width="5.2" height="5.2"/><rect x="1400.6" y="647.9" width="5.2" height="5.2"/><rect x="1407.4" y="655" width="5.2" height="5.2"/><rect x="1397.7" y="670.8" width="5.2" height="5.2"/><rect x="1237.8" y="586.3" width="5.2" height="5.2"/><rect x="1228.2" y="595.3" width="5.2" height="5.2"/><rect x="1222.4" y="600.1" width="5.2" height="5.2"/><rect x="1226.3" y="601.7" width="5.2" height="5.2"/><rect x="1233" y="605.9" width="5.2" height="5.2"/><rect x="1220.5" y="606.9" width="5.2" height="5.2"/><rect x="1221.5" y="614.6" width="5.2" height="5.2"/><rect x="1225.3" y="616.5" width="5.2" height="5.2"/><rect x="1215.7" y="602.1" width="5.2" height="5.2"/><rect x="1287" y="603.6" width="5.2" height="5.2"/><rect x="1290.8" y="605.9" width="5.2" height="5.2"/><rect x="1288.9" y="592.1" width="5.2" height="5.2"/><rect x="1410.9" y="555.9" width="5.2" height="5.2"/><rect x="1419.6" y="551" width="5.2" height="5.2"/><rect x="1423.4" y="547.2" width="5.2" height="5.2"/><rect x="1429.2" y="549.1" width="5.2" height="5.2"/><rect x="1433" y="543.9" width="5.2" height="5.2"/><rect x="1438.2" y="549.1" width="5.2" height="5.2"/><rect x="1440.7" y="562.6" width="5.2" height="5.2"/><rect x="1441.3" y="569.3" width="5.2" height="5.2"/><rect x="1444.6" y="578.4" width="5.2" height="5.2"/><rect x="1446.5" y="570.3" width="5.2" height="5.2"/><rect x="1447.9" y="558.4" width="5.2" height="5.2"/><rect x="1449" y="553.9" width="5.2" height="5.2"/><rect x="1450.9" y="585.3" width="5.2" height="5.2"/><rect x="1457.1" y="587.3" width="5.2" height="5.2"/><rect x="1459" y="592.5" width="5.2" height="5.2"/><rect x="1480.2" y="596.3" width="5.2" height="5.2"/><rect x="1483.1" y="592.5" width="5.2" height="5.2"/><rect x="1484.5" y="573.2" width="5.2" height="5.2"/><rect x="1486.4" y="563.6" width="5.2" height="5.2"/><rect x="1488.9" y="558.7" width="5.2" height="5.2"/><rect x="1486" y="564.5" width="5.2" height="5.2"/><rect x="1421.5" y="554.9" width="5.2" height="5.2"/><rect x="1431.1" y="553" width="5.2" height="5.2"/><rect x="1490.8" y="545.3" width="5.2" height="5.2"/><rect x="1491.8" y="541.4" width="5.2" height="5.2"/><rect x="1493.7" y="540.9" width="5.2" height="5.2"/><rect x="1495.6" y="539.5" width="5.2" height="5.2"/><rect x="1497.2" y="539.9" width="5.2" height="5.2"/><rect x="1498.7" y="541.2" width="5.2" height="5.2"/><rect x="1500.4" y="542.4" width="5.2" height="5.2"/><rect x="1502.4" y="535.6" width="5.2" height="5.2"/><rect x="1504.2" y="536.1" width="5.2" height="5.2"/><rect x="1506" y="537.6" width="5.2" height="5.2"/><rect x="1507.2" y="537.6" width="5.2" height="5.2"/><rect x="1509.1" y="532.7" width="5.2" height="5.2"/><rect x="1510.8" y="533.6" width="5.2" height="5.2"/><rect x="1513" y="532.7" width="5.2" height="5.2"/><rect x="1513.7" y="532.2" width="5.2" height="5.2"/><rect x="1515.6" y="531.4" width="5.2" height="5.2"/><rect x="1517.7" y="530.9" width="5.2" height="5.2"/><rect x="1518.7" y="530.2" width="5.2" height="5.2"/><rect x="1520.3" y="531.2" width="5.2" height="5.2"/><rect x="1521.7" y="529.3" width="5.2" height="5.2"/><rect x="1523.6" y="529.9" width="5.2" height="5.2"/><rect x="1525.5" y="530.7" width="5.2" height="5.2"/><rect x="1526.3" y="530.6" width="5.2" height="5.2"/><rect x="1528.4" y="530.8" width="5.2" height="5.2"/><rect x="1530.5" y="533.1" width="5.2" height="5.2"/><rect x="1532.2" y="535.6" width="5.2" height="5.2"/><rect x="1534" y="533.8" width="5.2" height="5.2"/><rect x="1536.1" y="531.8" width="5.2" height="5.2"/><rect x="1537.8" y="530.9" width="5.2" height="5.2"/><rect x="1539.5" y="529.9" width="5.2" height="5.2"/><rect x="1540.9" y="530.8" width="5.2" height="5.2"/><rect x="1542.5" y="532.5" width="5.2" height="5.2"/><rect x="1543.8" y="530.8" width="5.2" height="5.2"/><rect x="1545.7" y="530.8" width="5.2" height="5.2"/><rect x="1546.5" y="529.9" width="5.2" height="5.2"/><rect x="1548.3" y="530.4" width="5.2" height="5.2"/><rect x="1549.9" y="531.6" width="5.2" height="5.2"/><rect x="1551.5" y="529.9" width="5.2" height="5.2"/><rect x="1552.8" y="530.2" width="5.2" height="5.2"/><rect x="1554.8" y="531" width="5.2" height="5.2"/><rect x="1556.3" y="530.8" width="5.2" height="5.2"/><rect x="1558.5" y="531" width="5.2" height="5.2"/><rect x="1560.2" y="533.7" width="5.2" height="5.2"/><rect x="1562.3" y="534" width="5.2" height="5.2"/><rect x="1563.1" y="534.7" width="5.2" height="5.2"/><rect x="1564.3" y="530.8" width="5.2" height="5.2"/><rect x="1565.9" y="529.5" width="5.2" height="5.2"/><rect x="1567.3" y="533.1" width="5.2" height="5.2"/><rect x="1568.8" y="539.5" width="5.2" height="5.2"/><rect x="1543.4" y="538.1" width="5.2" height="5.2"/><rect x="1570.8" y="552.4" width="5.2" height="5.2"/><rect x="1572.7" y="543.3" width="5.2" height="5.2"/><rect x="1574.6" y="547.2" width="5.2" height="5.2"/><rect x="1577.5" y="533.7" width="5.2" height="5.2"/><rect x="1580.4" y="537.6" width="5.2" height="5.2"/><rect x="1581.9" y="552.4" width="5.2" height="5.2"/><rect x="1583.9" y="558.4" width="5.2" height="5.2"/><rect x="1585.2" y="550.1" width="5.2" height="5.2"/><rect x="1587.1" y="554.9" width="5.2" height="5.2"/><rect x="1588.7" y="548.2" width="5.2" height="5.2"/><rect x="1590" y="541.4" width="5.2" height="5.2"/><rect x="1578.5" y="537.6" width="5.2" height="5.2"/><rect x="1575.6" y="542.4" width="5.2" height="5.2"/><rect x="1452.3" y="609.8" width="5.2" height="5.2"/><rect x="1460.6" y="607.3" width="5.2" height="5.2"/><rect x="1454.2" y="630" width="5.2" height="5.2"/><rect x="1455.2" y="624.8" width="5.2" height="5.2"/><rect x="1471.6" y="621.7" width="5.2" height="5.2"/><rect x="1476.4" y="615.2" width="5.2" height="5.2"/><rect x="1478.3" y="611.3" width="5.2" height="5.2"/><rect x="1481.2" y="602.1" width="5.2" height="5.2"/><rect x="1479.3" y="597.3" width="5.2" height="5.2"/><rect x="1483.1" y="593" width="5.2" height="5.2"/><rect x="1473.5" y="645.4" width="5.2" height="5.2"/><rect x="1474.8" y="661.2" width="5.2" height="5.2"/><rect x="1461.9" y="680.7" width="5.2" height="5.2"/><rect x="1406.1" y="643.5" width="5.2" height="5.2"/><rect x="1402.2" y="645.4" width="5.2" height="5.2"/><rect x="1400.3" y="647.3" width="5.2" height="5.2"/></g>
<g stroke="#0033cc" stroke-width="1.6" fill="none">
<line x1="984.7" y1="416.3" x2="984.7" y2="727.1"/>
</g>
<g stroke="#0033cc" stroke-width="1.8" fill="none">
<line x1="984.7" y1="416.3" x2="979.7" y2="416.3"/>
<line x1="984.7" y1="494.2" x2="979.7" y2="494.2"/>
<line x1="984.7" y1="572" x2="979.7" y2="572"/>
<line x1="984.7" y1="649.5" x2="979.7" y2="649.5"/>
<line x1="984.7" y1="727.1" x2="979.7" y2="727.1"/>
</g>
<g stroke="#339933" stroke-width="1.7" fill="none">
<line x1="1598.5" y1="416.3" x2="1598.5" y2="727.1"/>
</g>
<g stroke="#339933" stroke-width="1.8" fill="none">
<line x1="1598.5" y1="455.2" x2="1604.3" y2="455.2"/>
<line x1="1598.5" y1="533.7" x2="1604.3" y2="533.7"/>
<line x1="1598.5" y1="610.5" x2="1604.3" y2="610.5"/>
<line x1="1598.5" y1="688.2" x2="1604.3" y2="688.2"/>
</g>
<g stroke="#333333" stroke-width="1.8" fill="none">
<line x1="983.8" y1="416.3" x2="1599.5" y2="416.3"/>
<line x1="983.8" y1="727.1" x2="1599.5" y2="727.1"/>
<line x1="984.7" y1="416.3" x2="984.7" y2="410.5"/>
<line x1="984.7" y1="727.1" x2="984.7" y2="733.1"/>
<line x1="1138.2" y1="416.3" x2="1138.2" y2="410.5"/>
<line x1="1138.2" y1="727.1" x2="1138.2" y2="733.1"/>
<line x1="1291.6" y1="416.3" x2="1291.6" y2="410.5"/>
<line x1="1291.6" y1="727.1" x2="1291.6" y2="733.1"/>
<line x1="1445.1" y1="416.3" x2="1445.1" y2="410.5"/>
<line x1="1445.1" y1="727.1" x2="1445.1" y2="733.1"/>
<line x1="1598.5" y1="416.3" x2="1598.5" y2="410.5"/>
<line x1="1598.5" y1="727.1" x2="1598.5" y2="733.1"/>
</g>
<text transform="translate(962.7,430.2) scale(1,1.025)" font-size="35.3" fill="#0033cc" stroke="#0033cc" stroke-width="0.5" text-anchor="end">2000</text>
<text transform="translate(962.7,508.1) scale(1,1.025)" font-size="35.3" fill="#0033cc" stroke="#0033cc" stroke-width="0.5" text-anchor="end">1500</text>
<text transform="translate(962.7,585.9) scale(1,1.025)" font-size="35.3" fill="#0033cc" stroke="#0033cc" stroke-width="0.5" text-anchor="end">1000</text>
<text transform="translate(962.7,663.4) scale(1,1.025)" font-size="35.3" fill="#0033cc" stroke="#0033cc" stroke-width="0.5" text-anchor="end">500</text>
<text transform="translate(962.7,741) scale(1,1.025)" font-size="35.3" fill="#0033cc" stroke="#0033cc" stroke-width="0.5" text-anchor="end">0</text>
<text transform="translate(1613.8,469.4) scale(1,1.025)" font-size="35.3" fill="#339933" stroke="#339933" stroke-width="0.5">0.04</text>
<text transform="translate(1613.8,547.9) scale(1,1.025)" font-size="35.3" fill="#339933" stroke="#339933" stroke-width="0.5">0</text>
<text transform="translate(1613.8,624.7) scale(1,1.025)" font-size="35.3" fill="#339933" stroke="#339933" stroke-width="0.5">-0.04</text>
<text transform="translate(1613.8,702.4) scale(1,1.025)" font-size="35.3" fill="#339933" stroke="#339933" stroke-width="0.5">-0.08</text>
<text transform="translate(994.5,777.5) scale(1,1.025)" font-size="31.9" fill="#000" stroke="#000" stroke-width="0.4" text-anchor="middle">Aug 21</text>
<text transform="translate(1141.2,777.5) scale(1,1.025)" font-size="31.9" fill="#000" stroke="#000" stroke-width="0.4" text-anchor="middle">Aug 25</text>
<text transform="translate(1291.4,777.5) scale(1,1.025)" font-size="31.9" fill="#000" stroke="#000" stroke-width="0.4" text-anchor="middle">Aug 29</text>
<text transform="translate(1442.9,777.5) scale(1,1.025)" font-size="31.9" fill="#000" stroke="#000" stroke-width="0.4" text-anchor="middle">Sep 2</text>
<text transform="translate(1596.5,777.5) scale(1,1.025)" font-size="31.9" fill="#000" stroke="#000" stroke-width="0.4" text-anchor="middle">Sep 6</text>
<text transform="translate(1001,453.2) scale(1,0.99)" font-size="29.4" fill="#000" stroke="#000" stroke-width="0.3" font-weight="bold">D</text>
<text transform="translate(1037.1,453.3) scale(1,1.025)" font-size="28.6" fill="#000" stroke="#000" stroke-width="0.4">2020 Bavi</text>

</g>
<text transform="translate(34.6,493) rotate(-90) scale(1,1.025)" font-size="39.5" fill="#0033cc" stroke="#0033cc" stroke-width="0.5">pCO<tspan font-size="23.4" dy="12.9">2</tspan><tspan dy="-12.9"> (µatm)</tspan></text>
<text transform="translate(1745.9,567.2) rotate(-90) scale(1,1.025)" font-size="39" fill="#339933" stroke="#339933" stroke-width="0.5">CO<tspan font-size="23.4" dy="12.9">2</tspan><tspan dy="-12.9"> flux (g C m</tspan><tspan font-size="23.4" dy="-12.9">-2</tspan><tspan dy="12.9"> hr</tspan><tspan font-size="23.4" dy="-12.9">-1</tspan><tspan dy="12.9">)</tspan></text>
<text transform="translate(876.5,830.3) scale(1,1.025)" font-size="39" fill="#000" stroke="#000" stroke-width="0.5" text-anchor="middle">Date</text>
</svg></body></html>
